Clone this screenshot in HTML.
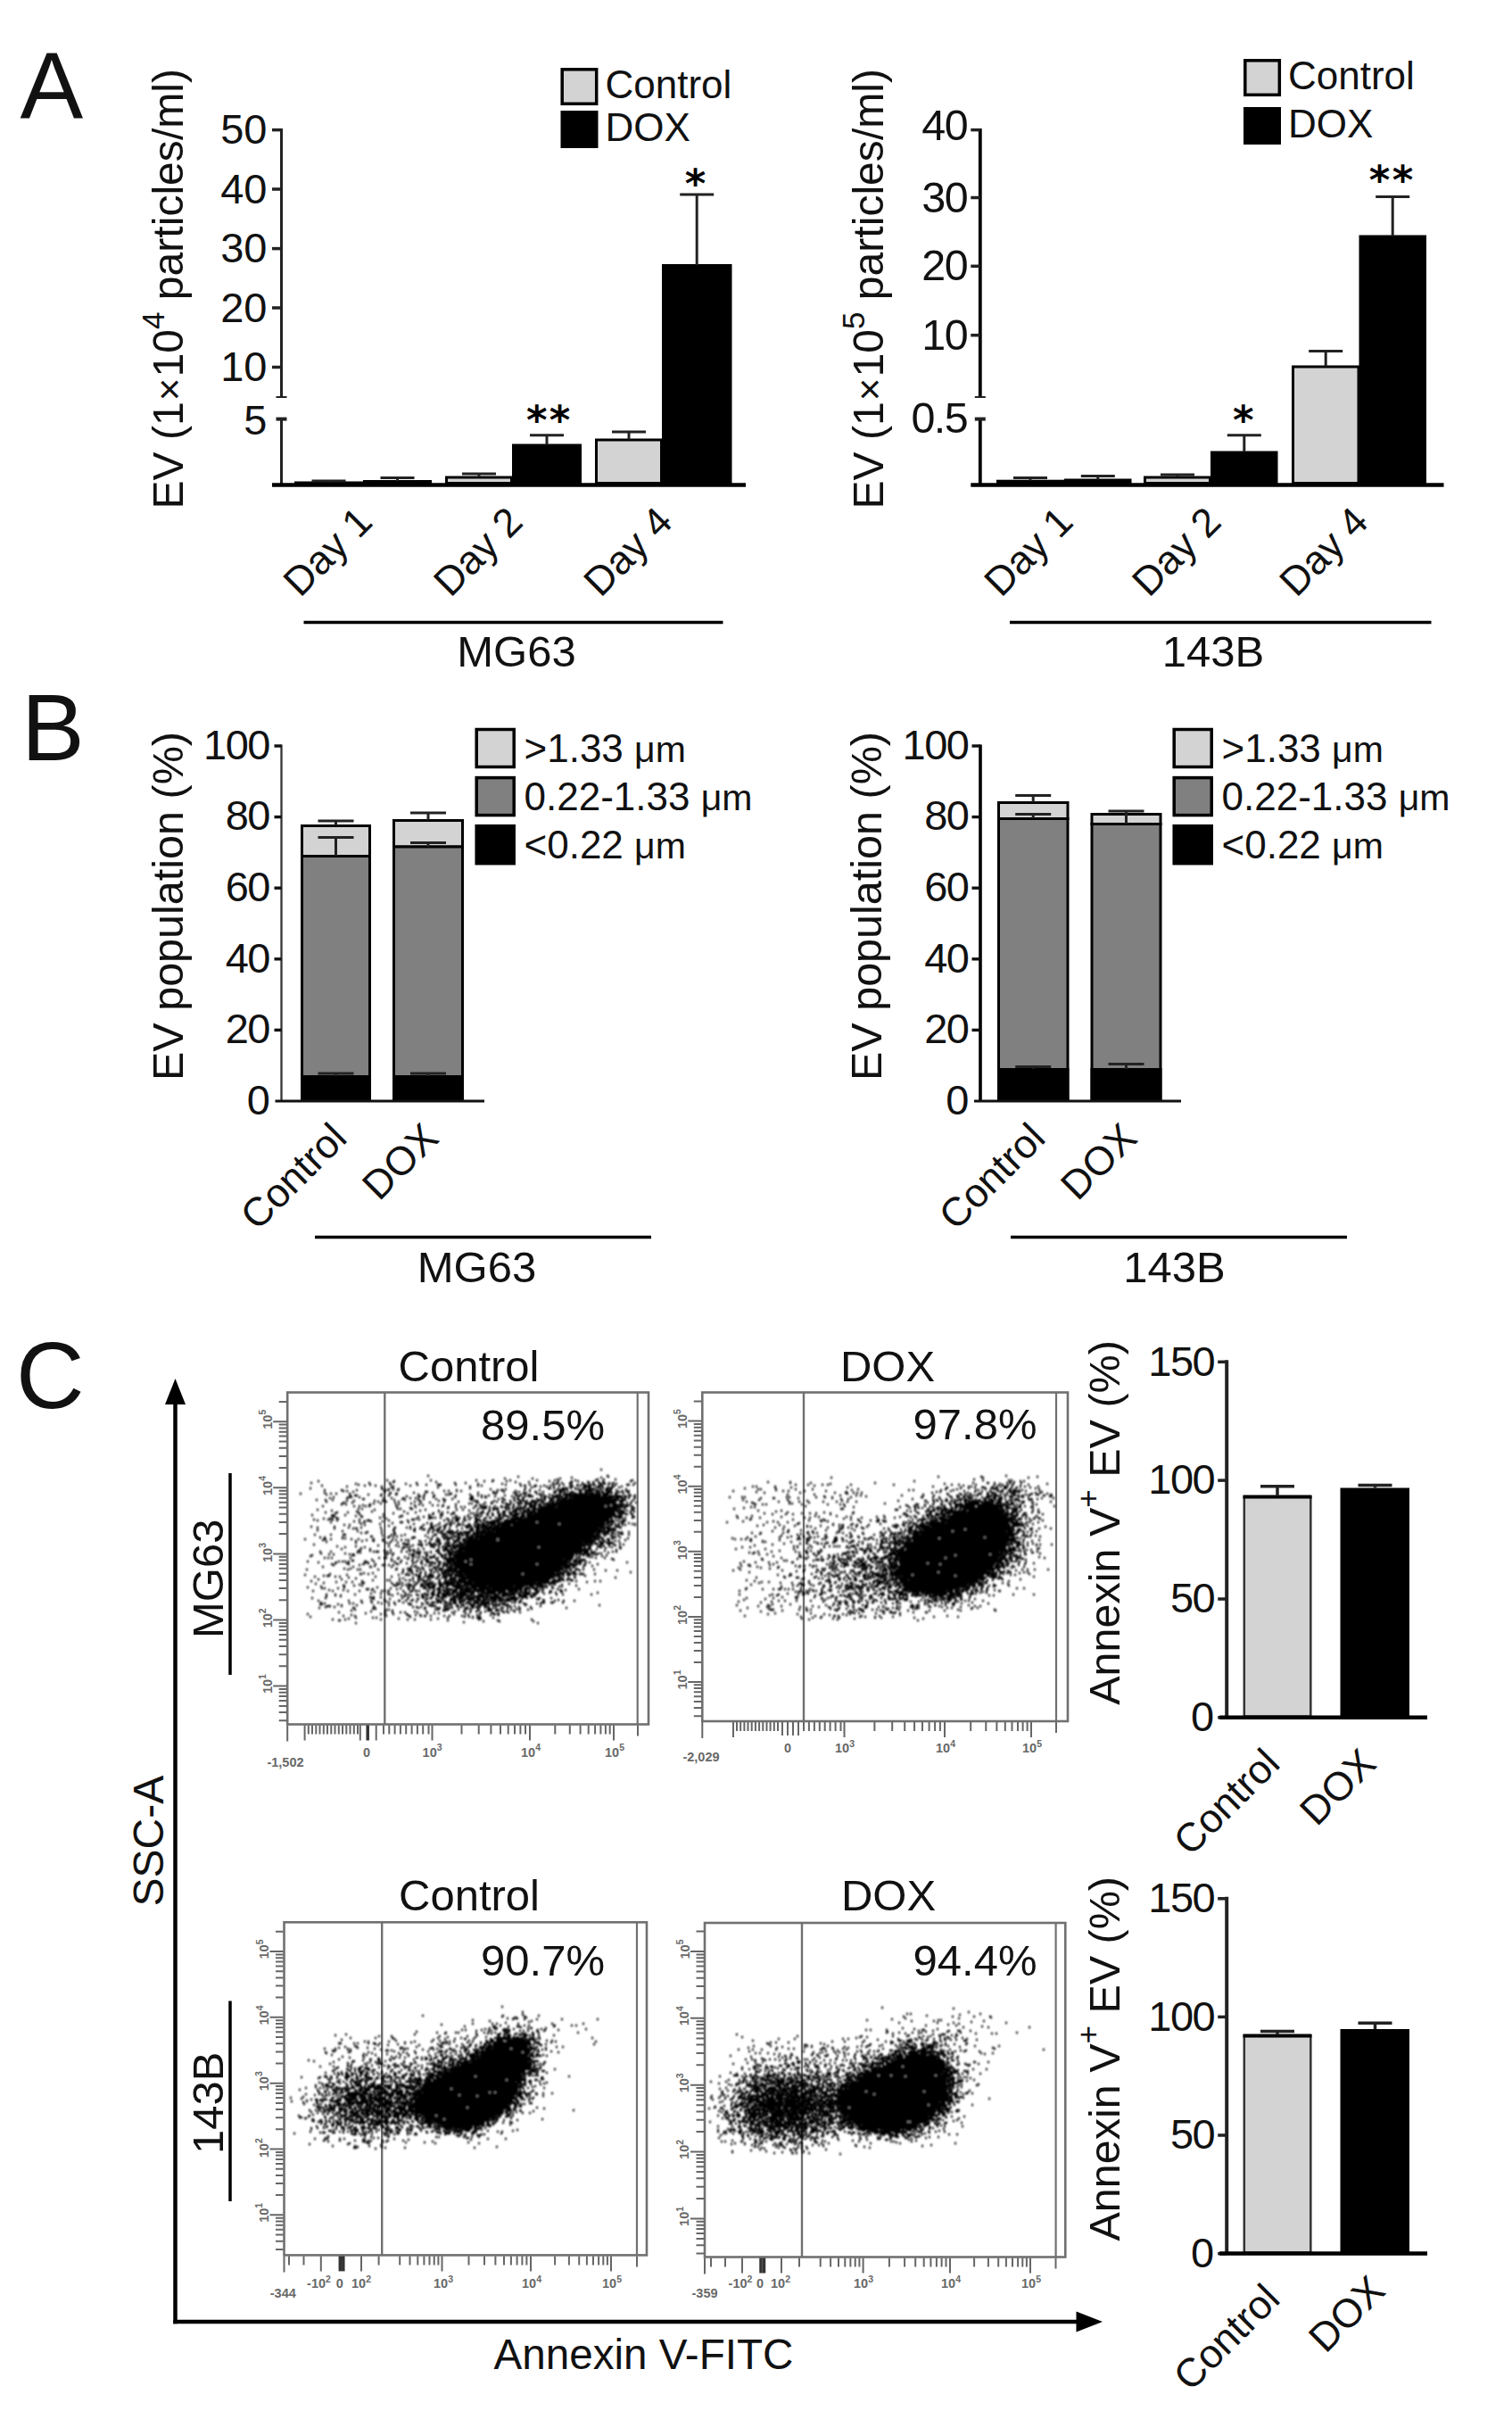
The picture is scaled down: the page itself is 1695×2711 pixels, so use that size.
<!DOCTYPE html>
<html lang="en"><head><meta charset="utf-8"><title>Figure</title>
<style>
html,body{margin:0;padding:0;background:#fff}
body{width:1695px;height:2711px;overflow:hidden}
svg{display:block}
text{font-family:"Liberation Sans",sans-serif}
.st{font-family:"DejaVu Sans","Liberation Sans",sans-serif;font-weight:bold}
</style></head><body>
<svg width="1695" height="2711" viewBox="0 0 1695 2711" shape-rendering="auto">
<defs><filter id="bl" x="-2%" y="-2%" width="104%" height="104%"><feGaussianBlur stdDeviation="0.9"/></filter></defs>
<rect x="0" y="0" width="1695" height="2711" fill="#fff"/>
<text x="22.5" y="132" font-size="106" text-anchor="start" fill="#111">A</text>
<text x="24" y="851.5" font-size="106" text-anchor="start" fill="#111">B</text>
<text x="18" y="1578" font-size="106" text-anchor="start" fill="#111">C</text>
<line x1="315.5" y1="144" x2="315.5" y2="445" stroke="#222" stroke-width="3"/>
<line x1="315.5" y1="469.5" x2="315.5" y2="543" stroke="#222" stroke-width="3"/>
<line x1="305" y1="145.6" x2="315.5" y2="145.6" stroke="#222" stroke-width="3.5"/>
<text x="299.5" y="161.1" font-size="47" text-anchor="end" fill="#111">50</text>
<line x1="305" y1="212" x2="315.5" y2="212" stroke="#222" stroke-width="3.5"/>
<text x="299.5" y="227.5" font-size="47" text-anchor="end" fill="#111">40</text>
<line x1="305" y1="278.6" x2="315.5" y2="278.6" stroke="#222" stroke-width="3.5"/>
<text x="299.5" y="294.1" font-size="47" text-anchor="end" fill="#111">30</text>
<line x1="305" y1="345" x2="315.5" y2="345" stroke="#222" stroke-width="3.5"/>
<text x="299.5" y="360.5" font-size="47" text-anchor="end" fill="#111">20</text>
<line x1="305" y1="411.5" x2="315.5" y2="411.5" stroke="#222" stroke-width="3.5"/>
<text x="299.5" y="427" font-size="47" text-anchor="end" fill="#111">10</text>
<line x1="309.5" y1="445" x2="321.5" y2="445" stroke="#222" stroke-width="2"/>
<line x1="309.5" y1="469.6" x2="321.5" y2="469.6" stroke="#222" stroke-width="4"/>
<text x="299.5" y="487.1" font-size="47" text-anchor="end" fill="#111">5</text>
<text x="205" y="570.5" font-size="48.1" text-anchor="start" fill="#111" transform="rotate(-90 205 570.5)">EV (1<tspan font-size="44" dx="1">×</tspan><tspan dx="1">10</tspan><tspan font-size="35" dy="-21">4</tspan><tspan dy="21"> particles/ml)</tspan></text>
<rect x="330" y="539.5" width="77" height="3.5" fill="#000"/>
<line x1="349.5" y1="539" x2="387.5" y2="539" stroke="#222" stroke-width="3"/>
<line x1="368.5" y1="539" x2="368.5" y2="540.5" stroke="#222" stroke-width="3"/>
<rect x="407" y="538" width="77" height="5" fill="#000"/>
<line x1="426.5" y1="535.5" x2="464.5" y2="535.5" stroke="#222" stroke-width="3"/>
<line x1="445.5" y1="535.5" x2="445.5" y2="539" stroke="#222" stroke-width="3"/>
<rect x="500.5" y="535" width="73" height="6.5" fill="#d3d3d3" stroke="#000" stroke-width="3"/>
<line x1="518" y1="531" x2="556" y2="531" stroke="#222" stroke-width="3"/>
<line x1="537" y1="531" x2="537" y2="534.5" stroke="#222" stroke-width="3"/>
<rect x="574" y="497.5" width="78" height="45.5" fill="#000"/>
<line x1="594" y1="487.7" x2="632" y2="487.7" stroke="#222" stroke-width="3"/>
<line x1="613" y1="487.7" x2="613" y2="498.5" stroke="#222" stroke-width="3"/>
<rect x="668.5" y="493" width="73" height="48.5" fill="#d3d3d3" stroke="#000" stroke-width="3"/>
<line x1="686" y1="484" x2="724" y2="484" stroke="#222" stroke-width="3"/>
<line x1="705" y1="484" x2="705" y2="492.5" stroke="#222" stroke-width="3"/>
<rect x="742" y="296" width="78.5" height="247" fill="#000"/>
<line x1="762.2" y1="218" x2="800.2" y2="218" stroke="#222" stroke-width="3"/>
<line x1="781.2" y1="218" x2="781.2" y2="297" stroke="#222" stroke-width="3"/>
<line x1="305" y1="543.5" x2="836" y2="543.5" stroke="#000" stroke-width="4.6"/>
<rect x="630.2" y="77.8" width="38.5" height="38.5" fill="#d3d3d3" stroke="#000" stroke-width="3.5"/>
<rect x="628.5" y="124" width="42" height="42" fill="#000"/>
<text x="678.5" y="110.3" font-size="44" text-anchor="start" fill="#111">Control</text>
<text x="678.5" y="158.3" font-size="44" text-anchor="start" fill="#111">DOX</text>
<text x="615.8" y="486" font-size="45" text-anchor="middle" fill="#000" class="st" letter-spacing="2.3">**</text>
<text x="780.6" y="220.5" font-size="45" text-anchor="middle" fill="#000" class="st" letter-spacing="2.3">*</text>
<text x="336.5" y="670.5" font-size="45" text-anchor="start" fill="#111" transform="rotate(-45 336.5 670.5)">Day 1</text>
<text x="505" y="670.5" font-size="45" text-anchor="start" fill="#111" transform="rotate(-45 505 670.5)">Day 2</text>
<text x="673.2" y="670.5" font-size="45" text-anchor="start" fill="#111" transform="rotate(-45 673.2 670.5)">Day 4</text>
<line x1="340.5" y1="697.5" x2="810.5" y2="697.5" stroke="#000" stroke-width="3.5"/>
<text x="579" y="746.5" font-size="49" text-anchor="middle" fill="#111">MG63</text>
<line x1="1098.8" y1="144" x2="1098.8" y2="445" stroke="#000" stroke-width="3.8"/>
<line x1="1098.8" y1="469.5" x2="1098.8" y2="543" stroke="#000" stroke-width="3.8"/>
<line x1="1088.3" y1="145.6" x2="1098.8" y2="145.6" stroke="#222" stroke-width="3.5"/>
<text x="1084.3" y="156.6" font-size="48.5" text-anchor="end" fill="#111" letter-spacing="-1.5">40</text>
<line x1="1088.3" y1="221.5" x2="1098.8" y2="221.5" stroke="#222" stroke-width="3.5"/>
<text x="1084.3" y="237.5" font-size="48.5" text-anchor="end" fill="#111" letter-spacing="-1.5">30</text>
<line x1="1088.3" y1="298.3" x2="1098.8" y2="298.3" stroke="#222" stroke-width="3.5"/>
<text x="1084.3" y="314.3" font-size="48.5" text-anchor="end" fill="#111" letter-spacing="-1.5">20</text>
<line x1="1088.3" y1="375.7" x2="1098.8" y2="375.7" stroke="#222" stroke-width="3.5"/>
<text x="1084.3" y="391.7" font-size="48.5" text-anchor="end" fill="#111" letter-spacing="-1.5">10</text>
<line x1="1092.8" y1="445" x2="1104.8" y2="445" stroke="#222" stroke-width="2"/>
<line x1="1092.8" y1="469.6" x2="1104.8" y2="469.6" stroke="#222" stroke-width="4"/>
<text x="1084.3" y="485.1" font-size="48.5" text-anchor="end" fill="#111" letter-spacing="-1.5">0.5</text>
<text x="989.5" y="570.5" font-size="48.1" text-anchor="start" fill="#111" transform="rotate(-90 989.5 570.5)">EV (1<tspan font-size="44" dx="1">×</tspan><tspan dx="1">10</tspan><tspan font-size="35" dy="-21">5</tspan><tspan dy="21"> particles/ml)</tspan></text>
<rect x="1117" y="537.7" width="76" height="5.3" fill="#000"/>
<line x1="1136" y1="535.6" x2="1174" y2="535.6" stroke="#222" stroke-width="3"/>
<line x1="1155" y1="535.6" x2="1155" y2="538.7" stroke="#222" stroke-width="3"/>
<rect x="1193" y="536.5" width="75.5" height="6.5" fill="#000"/>
<line x1="1211.8" y1="533.5" x2="1249.8" y2="533.5" stroke="#222" stroke-width="3"/>
<line x1="1230.8" y1="533.5" x2="1230.8" y2="537.5" stroke="#222" stroke-width="3"/>
<rect x="1283.5" y="535" width="73" height="6.5" fill="#d3d3d3" stroke="#000" stroke-width="3"/>
<line x1="1301" y1="532" x2="1339" y2="532" stroke="#222" stroke-width="3"/>
<line x1="1320" y1="532" x2="1320" y2="534.5" stroke="#222" stroke-width="3"/>
<rect x="1357" y="505.5" width="75.5" height="37.5" fill="#000"/>
<line x1="1375.8" y1="487.7" x2="1413.8" y2="487.7" stroke="#222" stroke-width="3"/>
<line x1="1394.8" y1="487.7" x2="1394.8" y2="506.5" stroke="#222" stroke-width="3"/>
<rect x="1449.5" y="411" width="73.5" height="130.5" fill="#d3d3d3" stroke="#000" stroke-width="3"/>
<line x1="1467.2" y1="393.5" x2="1505.2" y2="393.5" stroke="#222" stroke-width="3"/>
<line x1="1486.2" y1="393.5" x2="1486.2" y2="410.5" stroke="#222" stroke-width="3"/>
<rect x="1523.5" y="263.5" width="75.5" height="279.5" fill="#000"/>
<line x1="1542.2" y1="220.4" x2="1580.2" y2="220.4" stroke="#222" stroke-width="3"/>
<line x1="1561.2" y1="220.4" x2="1561.2" y2="264.5" stroke="#222" stroke-width="3"/>
<line x1="1088.3" y1="543.5" x2="1618.5" y2="543.5" stroke="#000" stroke-width="4.6"/>
<rect x="1395.8" y="67.8" width="38.5" height="38.5" fill="#d3d3d3" stroke="#000" stroke-width="3.5"/>
<rect x="1394" y="120" width="42" height="42" fill="#000"/>
<text x="1444" y="100.3" font-size="44" text-anchor="start" fill="#111">Control</text>
<text x="1444" y="154.3" font-size="44" text-anchor="start" fill="#111">DOX</text>
<text x="1394.8" y="486.4" font-size="45" text-anchor="middle" fill="#000" class="st" letter-spacing="2.3">*</text>
<text x="1560.7" y="216.5" font-size="45" text-anchor="middle" fill="#000" class="st" letter-spacing="2.3">**</text>
<text x="1122.2" y="670.5" font-size="45" text-anchor="start" fill="#111" transform="rotate(-45 1122.2 670.5)">Day 1</text>
<text x="1288" y="670.5" font-size="45" text-anchor="start" fill="#111" transform="rotate(-45 1288 670.5)">Day 2</text>
<text x="1453.2" y="670.5" font-size="45" text-anchor="start" fill="#111" transform="rotate(-45 1453.2 670.5)">Day 4</text>
<line x1="1132" y1="697.5" x2="1604.5" y2="697.5" stroke="#000" stroke-width="3.5"/>
<text x="1360" y="746.5" font-size="49" text-anchor="middle" fill="#111">143B</text>
<line x1="315.5" y1="834.5" x2="315.5" y2="1234" stroke="#333" stroke-width="2.3"/>
<text x="303" y="1248.8" font-size="47" text-anchor="end" fill="#111">0</text>
<line x1="307.5" y1="1154.4" x2="315.5" y2="1154.4" stroke="#111" stroke-width="3.4"/>
<text x="302" y="1169.2" font-size="47" text-anchor="end" fill="#111" letter-spacing="-1.5">20</text>
<line x1="307.5" y1="1074.8" x2="315.5" y2="1074.8" stroke="#111" stroke-width="3.4"/>
<text x="302" y="1089.6" font-size="47" text-anchor="end" fill="#111" letter-spacing="-1.5">40</text>
<line x1="307.5" y1="995.2" x2="315.5" y2="995.2" stroke="#111" stroke-width="3.4"/>
<text x="302" y="1010" font-size="47" text-anchor="end" fill="#111" letter-spacing="-1.5">60</text>
<line x1="307.5" y1="915.6" x2="315.5" y2="915.6" stroke="#111" stroke-width="3.4"/>
<text x="302" y="930.4" font-size="47" text-anchor="end" fill="#111" letter-spacing="-1.5">80</text>
<line x1="307.5" y1="836" x2="315.5" y2="836" stroke="#111" stroke-width="3.4"/>
<text x="302" y="850.8" font-size="47" text-anchor="end" fill="#111" letter-spacing="-1.5">100</text>
<text x="205" y="1211" font-size="48.5" text-anchor="start" fill="#111" transform="rotate(-90 205 1211)">EV population (%)</text>
<rect x="338.5" y="925.5" width="76" height="34" fill="#d3d3d3" stroke="#000" stroke-width="3"/>
<rect x="338.5" y="959.5" width="76" height="273" fill="#808080" stroke="#000" stroke-width="3"/>
<rect x="337" y="1205" width="79" height="29" fill="#000"/>
<line x1="356.5" y1="920" x2="396.5" y2="920" stroke="#222" stroke-width="3"/>
<line x1="376.5" y1="920" x2="376.5" y2="925" stroke="#222" stroke-width="3"/>
<line x1="356.5" y1="938.6" x2="396.5" y2="938.6" stroke="#222" stroke-width="3"/>
<line x1="376.5" y1="938.6" x2="376.5" y2="959" stroke="#222" stroke-width="3"/>
<line x1="356.5" y1="1203" x2="396.5" y2="1203" stroke="#222" stroke-width="3"/>
<line x1="376.5" y1="1203" x2="376.5" y2="1206" stroke="#222" stroke-width="3"/>
<rect x="441.5" y="919.5" width="77" height="29.5" fill="#d3d3d3" stroke="#000" stroke-width="3"/>
<rect x="441.5" y="949" width="77" height="283.5" fill="#808080" stroke="#000" stroke-width="3"/>
<rect x="440" y="1205" width="80" height="29" fill="#000"/>
<line x1="460" y1="911" x2="500" y2="911" stroke="#222" stroke-width="3"/>
<line x1="480" y1="911" x2="480" y2="919" stroke="#222" stroke-width="3"/>
<line x1="460" y1="944.5" x2="500" y2="944.5" stroke="#222" stroke-width="3"/>
<line x1="480" y1="944.5" x2="480" y2="949" stroke="#222" stroke-width="3"/>
<line x1="460" y1="1203" x2="500" y2="1203" stroke="#222" stroke-width="3"/>
<line x1="480" y1="1203" x2="480" y2="1206" stroke="#222" stroke-width="3"/>
<line x1="308.5" y1="1234" x2="543" y2="1234" stroke="#111" stroke-width="2.8"/>
<rect x="534.2" y="817.5" width="42" height="42" fill="#d3d3d3" stroke="#000" stroke-width="3.5"/>
<text x="587.5" y="853.7" font-size="44" text-anchor="start" fill="#111">&gt;1.33 <tspan font-size="41">μm</tspan></text>
<rect x="534.2" y="871.6" width="42" height="42" fill="#808080" stroke="#000" stroke-width="3.5"/>
<text x="587.5" y="907.8" font-size="44" text-anchor="start" fill="#111">0.22-1.33 <tspan font-size="41">μm</tspan></text>
<rect x="534.2" y="925.7" width="42" height="42" fill="#000" stroke="#000" stroke-width="3.5"/>
<text x="587.5" y="961.9" font-size="44" text-anchor="start" fill="#111">&lt;0.22 <tspan font-size="41">μm</tspan></text>
<text x="391" y="1278" font-size="45" text-anchor="end" fill="#111" transform="rotate(-45 391 1278)">Control</text>
<text x="494" y="1278" font-size="45" text-anchor="end" fill="#111" transform="rotate(-45 494 1278)">DOX</text>
<line x1="353" y1="1386.5" x2="730" y2="1386.5" stroke="#000" stroke-width="3.5"/>
<text x="534.5" y="1437" font-size="49" text-anchor="middle" fill="#111">MG63</text>
<line x1="1099" y1="834.5" x2="1099" y2="1234" stroke="#000" stroke-width="3.6"/>
<text x="1086.5" y="1248.8" font-size="47" text-anchor="end" fill="#111">0</text>
<line x1="1089.5" y1="1154.4" x2="1099" y2="1154.4" stroke="#111" stroke-width="3.4"/>
<text x="1085.5" y="1169.2" font-size="47" text-anchor="end" fill="#111" letter-spacing="-1.5">20</text>
<line x1="1089.5" y1="1074.8" x2="1099" y2="1074.8" stroke="#111" stroke-width="3.4"/>
<text x="1085.5" y="1089.6" font-size="47" text-anchor="end" fill="#111" letter-spacing="-1.5">40</text>
<line x1="1089.5" y1="995.2" x2="1099" y2="995.2" stroke="#111" stroke-width="3.4"/>
<text x="1085.5" y="1010" font-size="47" text-anchor="end" fill="#111" letter-spacing="-1.5">60</text>
<line x1="1089.5" y1="915.6" x2="1099" y2="915.6" stroke="#111" stroke-width="3.4"/>
<text x="1085.5" y="930.4" font-size="47" text-anchor="end" fill="#111" letter-spacing="-1.5">80</text>
<line x1="1089.5" y1="836" x2="1099" y2="836" stroke="#111" stroke-width="3.4"/>
<text x="1085.5" y="850.8" font-size="47" text-anchor="end" fill="#111" letter-spacing="-1.5">100</text>
<text x="988" y="1211" font-size="48.5" text-anchor="start" fill="#111" transform="rotate(-90 988 1211)">EV population (%)</text>
<rect x="1119.5" y="899.5" width="77.5" height="18" fill="#d3d3d3" stroke="#000" stroke-width="3"/>
<rect x="1119.5" y="917.5" width="77.5" height="315" fill="#808080" stroke="#000" stroke-width="3"/>
<rect x="1118" y="1197" width="80.5" height="37" fill="#000"/>
<line x1="1138.2" y1="891.6" x2="1178.2" y2="891.6" stroke="#222" stroke-width="3"/>
<line x1="1158.2" y1="891.6" x2="1158.2" y2="899" stroke="#222" stroke-width="3"/>
<line x1="1138.2" y1="912.4" x2="1178.2" y2="912.4" stroke="#222" stroke-width="3"/>
<line x1="1158.2" y1="912.4" x2="1158.2" y2="917" stroke="#222" stroke-width="3"/>
<line x1="1138.2" y1="1195.5" x2="1178.2" y2="1195.5" stroke="#222" stroke-width="3"/>
<line x1="1158.2" y1="1195.5" x2="1158.2" y2="1198" stroke="#222" stroke-width="3"/>
<rect x="1224" y="912.5" width="77" height="11" fill="#d3d3d3" stroke="#000" stroke-width="3"/>
<rect x="1224" y="923.5" width="77" height="309" fill="#808080" stroke="#000" stroke-width="3"/>
<rect x="1222.5" y="1197" width="80" height="37" fill="#000"/>
<line x1="1242.5" y1="909" x2="1282.5" y2="909" stroke="#222" stroke-width="3"/>
<line x1="1262.5" y1="909" x2="1262.5" y2="923" stroke="#222" stroke-width="3"/>
<line x1="1242.5" y1="1192.5" x2="1282.5" y2="1192.5" stroke="#222" stroke-width="3"/>
<line x1="1262.5" y1="1192.5" x2="1262.5" y2="1198" stroke="#222" stroke-width="3"/>
<line x1="1092" y1="1234" x2="1324" y2="1234" stroke="#111" stroke-width="2.8"/>
<rect x="1316.2" y="817.5" width="42" height="42" fill="#d3d3d3" stroke="#000" stroke-width="3.5"/>
<text x="1369.5" y="853.7" font-size="44" text-anchor="start" fill="#111">&gt;1.33 <tspan font-size="41">μm</tspan></text>
<rect x="1316.2" y="871.6" width="42" height="42" fill="#808080" stroke="#000" stroke-width="3.5"/>
<text x="1369.5" y="907.8" font-size="44" text-anchor="start" fill="#111">0.22-1.33 <tspan font-size="41">μm</tspan></text>
<rect x="1316.2" y="925.7" width="42" height="42" fill="#000" stroke="#000" stroke-width="3.5"/>
<text x="1369.5" y="961.9" font-size="44" text-anchor="start" fill="#111">&lt;0.22 <tspan font-size="41">μm</tspan></text>
<text x="1174" y="1278" font-size="45" text-anchor="end" fill="#111" transform="rotate(-45 1174 1278)">Control</text>
<text x="1277" y="1278" font-size="45" text-anchor="end" fill="#111" transform="rotate(-45 1277 1278)">DOX</text>
<line x1="1133" y1="1386.5" x2="1510" y2="1386.5" stroke="#000" stroke-width="3.5"/>
<text x="1316.5" y="1437" font-size="49" text-anchor="middle" fill="#111">143B</text>
<line x1="1375.2" y1="1524.3" x2="1375.2" y2="1924.8" stroke="#222" stroke-width="4"/>
<line x1="1365.2" y1="1924.8" x2="1375.2" y2="1924.8" stroke="#222" stroke-width="3.5"/>
<text x="1361.2" y="1940" font-size="47" text-anchor="end" fill="#111">0</text>
<line x1="1365.2" y1="1792" x2="1375.2" y2="1792" stroke="#222" stroke-width="3.5"/>
<text x="1361.2" y="1807.2" font-size="47" text-anchor="end" fill="#111" letter-spacing="-1.5">50</text>
<line x1="1365.2" y1="1659.1" x2="1375.2" y2="1659.1" stroke="#222" stroke-width="3.5"/>
<text x="1361.2" y="1674.3" font-size="47" text-anchor="end" fill="#111" letter-spacing="-1.5">100</text>
<line x1="1365.2" y1="1526.3" x2="1375.2" y2="1526.3" stroke="#222" stroke-width="3.5"/>
<text x="1361.2" y="1541.5" font-size="47" text-anchor="end" fill="#111" letter-spacing="-1.5">150</text>
<text x="1255" y="1910.8" font-size="48.5" text-anchor="start" fill="#111" transform="rotate(-90 1255 1910.8)">Annexin V<tspan font-size="35" dy="-23">+</tspan><tspan dy="23"> EV (%)</tspan></text>
<rect x="1394.8" y="1677.8" width="74.5" height="245.8" fill="#d3d3d3" stroke="#333" stroke-width="2.5"/>
<line x1="1393.5" y1="1677.5" x2="1470.5" y2="1677.5" stroke="#000" stroke-width="4"/>
<line x1="1413" y1="1665.8" x2="1451" y2="1665.8" stroke="#222" stroke-width="3.5"/>
<line x1="1432" y1="1665.8" x2="1432" y2="1676.5" stroke="#222" stroke-width="3.5"/>
<rect x="1502.5" y="1667.5" width="77.5" height="257.3" fill="#000"/>
<line x1="1522.5" y1="1664.5" x2="1560.5" y2="1664.5" stroke="#222" stroke-width="3.5"/>
<line x1="1541.5" y1="1664.5" x2="1541.5" y2="1667.5" stroke="#222" stroke-width="3.5"/>
<line x1="1367.2" y1="1924.8" x2="1600" y2="1924.8" stroke="#000" stroke-width="4.5"/>
<text x="1437" y="1979" font-size="45" text-anchor="end" fill="#111" transform="rotate(-45 1437 1979)">Control</text>
<text x="1545" y="1979" font-size="45" text-anchor="end" fill="#111" transform="rotate(-45 1545 1979)">DOX</text>
<line x1="1375.2" y1="2125.8" x2="1375.2" y2="2525.6" stroke="#222" stroke-width="4"/>
<line x1="1365.2" y1="2525.6" x2="1375.2" y2="2525.6" stroke="#222" stroke-width="3.5"/>
<text x="1361.2" y="2540.8" font-size="47" text-anchor="end" fill="#111">0</text>
<line x1="1365.2" y1="2393" x2="1375.2" y2="2393" stroke="#222" stroke-width="3.5"/>
<text x="1361.2" y="2408.2" font-size="47" text-anchor="end" fill="#111" letter-spacing="-1.5">50</text>
<line x1="1365.2" y1="2260.4" x2="1375.2" y2="2260.4" stroke="#222" stroke-width="3.5"/>
<text x="1361.2" y="2275.6" font-size="47" text-anchor="end" fill="#111" letter-spacing="-1.5">100</text>
<line x1="1365.2" y1="2127.8" x2="1375.2" y2="2127.8" stroke="#222" stroke-width="3.5"/>
<text x="1361.2" y="2143" font-size="47" text-anchor="end" fill="#111" letter-spacing="-1.5">150</text>
<text x="1255" y="2511.6" font-size="48.5" text-anchor="start" fill="#111" transform="rotate(-90 1255 2511.6)">Annexin V<tspan font-size="35" dy="-23">+</tspan><tspan dy="23"> EV (%)</tspan></text>
<rect x="1394.8" y="2281.8" width="74.5" height="242.6" fill="#d3d3d3" stroke="#333" stroke-width="2.5"/>
<line x1="1393.5" y1="2281.5" x2="1470.5" y2="2281.5" stroke="#000" stroke-width="4"/>
<line x1="1413" y1="2276.6" x2="1451" y2="2276.6" stroke="#222" stroke-width="3.5"/>
<line x1="1432" y1="2276.6" x2="1432" y2="2280.5" stroke="#222" stroke-width="3.5"/>
<rect x="1502.5" y="2274" width="77.5" height="251.6" fill="#000"/>
<line x1="1522.5" y1="2267.3" x2="1560.5" y2="2267.3" stroke="#222" stroke-width="3.5"/>
<line x1="1541.5" y1="2267.3" x2="1541.5" y2="2274" stroke="#222" stroke-width="3.5"/>
<line x1="1367.2" y1="2525.6" x2="1600" y2="2525.6" stroke="#000" stroke-width="4.5"/>
<text x="1437" y="2579" font-size="45" text-anchor="end" fill="#111" transform="rotate(-45 1437 2579)">Control</text>
<text x="1555" y="2569.5" font-size="45" text-anchor="end" fill="#111" transform="rotate(-45 1555 2569.5)">DOX</text>
<line x1="196.5" y1="1570" x2="196.5" y2="2604.3" stroke="#000" stroke-width="4.5"/>
<path d="M196.5 1545 L208 1574 L185 1574 Z" fill="#000"/>
<line x1="194.3" y1="2602" x2="1210" y2="2602" stroke="#000" stroke-width="4.5"/>
<path d="M1236 2602 L1206.5 2613.5 L1206.5 2590.5 Z" fill="#000"/>
<text x="182.5" y="2136.5" font-size="48" text-anchor="start" fill="#111" transform="rotate(-90 182.5 2136.5)">SSC-A</text>
<text x="553.5" y="2654.5" font-size="47.6" text-anchor="start" fill="#111">Annexin V-FITC</text>
<text x="250" y="1836" font-size="49" text-anchor="start" fill="#111" transform="rotate(-90 250 1836)">MG63</text>
<line x1="258" y1="1651" x2="258" y2="1877" stroke="#000" stroke-width="3.5"/>
<text x="250" y="2414" font-size="49" text-anchor="start" fill="#111" transform="rotate(-90 250 2414)">143B</text>
<line x1="258" y1="2242.5" x2="258" y2="2467" stroke="#000" stroke-width="3.5"/>
<rect x="322.2" y="1560.5" width="404.8" height="372" fill="#fff" stroke="#707070" stroke-width="2.6"/>
<line x1="431.3" y1="1560.5" x2="431.3" y2="1932.5" stroke="#707070" stroke-width="2.4"/>
<line x1="714.7" y1="1560.5" x2="714.7" y2="1932.5" stroke="#707070" stroke-width="2.2"/>
<path d="M321.2 1889.6h-15M321.2 1815.5h-15M321.2 1741.4h-15M321.2 1667.3h-15M321.2 1593.2h-15M321.2 1928.3h-8.5M321.2 1919.1h-8.5M321.2 1911.9h-8.5M321.2 1906h-8.5M321.2 1901.1h-8.5M321.2 1896.8h-8.5M321.2 1893h-8.5M321.2 1867.3h-8.5M321.2 1854.2h-8.5M321.2 1845h-8.5M321.2 1837.8h-8.5M321.2 1831.9h-8.5M321.2 1827h-8.5M321.2 1822.7h-8.5M321.2 1818.9h-8.5M321.2 1793.2h-8.5M321.2 1780.1h-8.5M321.2 1770.9h-8.5M321.2 1763.7h-8.5M321.2 1757.8h-8.5M321.2 1752.9h-8.5M321.2 1748.6h-8.5M321.2 1744.8h-8.5M321.2 1719.1h-8.5M321.2 1706h-8.5M321.2 1696.8h-8.5M321.2 1689.6h-8.5M321.2 1683.7h-8.5M321.2 1678.8h-8.5M321.2 1674.5h-8.5M321.2 1670.7h-8.5M321.2 1645h-8.5M321.2 1631.9h-8.5M321.2 1622.7h-8.5M321.2 1615.5h-8.5M321.2 1609.6h-8.5M321.2 1604.7h-8.5M321.2 1600.4h-8.5M321.2 1596.6h-8.5M321.2 1570.9h-8.5M322.2 1933.5v18M341.6 1933.5v17M345.8 1933.5v10M350 1933.5v10M354.3 1933.5v10M358.5 1933.5v10M362.8 1933.5v10M367 1933.5v10M371.3 1933.5v10M375.5 1933.5v10M379.8 1933.5v10M384 1933.5v10M388.3 1933.5v10M392.5 1933.5v10M396.8 1933.5v10M401 1933.5v10M403.8 1933.5v17M421.7 1933.5v17M430 1933.5v10M436.3 1933.5v10M442.6 1933.5v10M448.9 1933.5v10M455.2 1933.5v10M461.6 1933.5v10M467.9 1933.5v10M474.2 1933.5v10M480.5 1933.5v10M484.5 1933.5v17M517.5 1933.5v10M536.7 1933.5v10M550.4 1933.5v10M561 1933.5v10M569.7 1933.5v10M577 1933.5v10M583.4 1933.5v10M589 1933.5v10M594 1933.5v17M622.3 1933.5v10M638.8 1933.5v10M650.6 1933.5v10M659.7 1933.5v10M667.1 1933.5v10M673.4 1933.5v10M678.9 1933.5v10M683.7 1933.5v10M688 1933.5v17M715 1933.5v12" stroke="#666" stroke-width="2" fill="none"/>
<line x1="412.2" y1="1933.5" x2="412.2" y2="1950.5" stroke="#333" stroke-width="3.5"/>
<text x="304.7" y="1601.7" font-size="14.5" text-anchor="start" fill="#686868" transform="rotate(-90 304.7 1601.7)" font-weight="bold">10<tspan font-size="10.5" dy="-6.5">5</tspan></text>
<text x="304.7" y="1676" font-size="14.5" text-anchor="start" fill="#686868" transform="rotate(-90 304.7 1676)" font-weight="bold">10<tspan font-size="10.5" dy="-6.5">4</tspan></text>
<text x="304.7" y="1751" font-size="14.5" text-anchor="start" fill="#686868" transform="rotate(-90 304.7 1751)" font-weight="bold">10<tspan font-size="10.5" dy="-6.5">3</tspan></text>
<text x="304.7" y="1824.3" font-size="14.5" text-anchor="start" fill="#686868" transform="rotate(-90 304.7 1824.3)" font-weight="bold">10<tspan font-size="10.5" dy="-6.5">2</tspan></text>
<text x="304.7" y="1898.1" font-size="14.5" text-anchor="start" fill="#686868" transform="rotate(-90 304.7 1898.1)" font-weight="bold">10<tspan font-size="10.5" dy="-6.5">1</tspan></text>
<text x="320" y="1980" font-size="14.5" text-anchor="middle" fill="#686868" font-weight="bold">-1,502</text>
<text x="411" y="1968.5" font-size="14.5" text-anchor="middle" fill="#686868" font-weight="bold">0</text>
<text x="484.6" y="1968.5" font-size="14.5" text-anchor="middle" fill="#686868" font-weight="bold">10<tspan font-size="10.5" dy="-6.5">3</tspan></text>
<text x="595" y="1968.5" font-size="14.5" text-anchor="middle" fill="#686868" font-weight="bold">10<tspan font-size="10.5" dy="-6.5">4</tspan></text>
<text x="689" y="1968.5" font-size="14.5" text-anchor="middle" fill="#686868" font-weight="bold">10<tspan font-size="10.5" dy="-6.5">5</tspan></text>
<text x="525.5" y="1548" font-size="49" text-anchor="middle" fill="#111">Control</text>
<text x="608.5" y="1613.5" font-size="49" text-anchor="middle" fill="#111">89.5%</text>
<g filter="url(#bl)">
<path d="M516.1 1749.6 L529.4 1734 L551.7 1720.7 L573.9 1714 L596.1 1705.1 L618.3 1694 L640.6 1685.1 L662.8 1678.5 L682.8 1680.7 L685 1691.8 L671.7 1705.1 L656.1 1720.7 L640.6 1736.2 L627.2 1751.8 L609.4 1765.1 L587.2 1774 L565 1778.5 L542.8 1774 L525 1765.1 Z" fill="#000" stroke="#000" stroke-width="2" stroke-linejoin="round"/>
<path d="M673 1647h2m-196 7h2m199 0h2m-102 1h2m99 0h2m-43 1h2m31 0h2m-110 1h2m29 0h2m29 0h2m-5 1h2m43 0h2m5 0h2m11 0h2m-258 1h2m47 0h2m49 0h2m17 0h2m17 0h2m28 0h2m18 0h2m21 0h2m21 0h2m39 0h2m-354 1h2m83 0h2m99 0h2m7 0h2m14 0h2m46 0h2m8 0h2m13 0h2m5 0h2m26 0h2m29 0h2m-268 1h2m46 0h2m87 0h2m13 0h2m64 0h2m-1 0h2m3 0h2m4 0h2m-324 1h2m63 0h2m21 0h2m28 0h2m41 0h2m10 0h2m96 0h2m3 0h2m3 0h2m7 0h2m0 0h2m10 0h2m17 0h2m2 0h2m0 0h2m3 0h2m3 0h2m22 0h2m-315 1h2m54 0h2m79 0h2m25 0h2m18 0h2m38 0h2m14 0h2m12 0h2m6 0h2m3 0h2m5 0h2m3 0h2m6 0h2m3 0h2m-291 1h2m11 0h2m21 0h2m28 0h2m8 0h2m11 0h2m0 0h2m-1 0h2m15 0h2m54 0h2m25 0h2m24 0h2m5 0h2m3 0h2m14 0h2m5 0h2m-1 0h2m2 0h2m-1 0h2m1 0h2m8 0h2m-1 0h2m5 0h2m19 0h2m0 0h2m3 0h2m-351 1h2m46 0h2m10 0h2m37 0h2m74 0h2m2 0h2m42 0h2m2 0h2m-1 0h2m9 0h2m-1 0h2m7 0h2m5 0h2m8 0h2m12 0h2m4 0h2m2 0h2m4 0h2m1 0h2m5 0h2m3 0h2m1 0h2m12 0h2m-302 1h2m37 0h2m11 0h2m84 0h2m70 0h2m5 0h2m5 0h2m6 0h2m16 0h2m1 0h2m11 0h2m0 0h2m0 0h2m-1 0h2m-1 0h2m-1 0h2m6 0h2m0 0h2m1 0h2m9 0h2m-1 0h2m8 0h2m-260 1h2m50 0h2m103 0h2m56 0h2m16 0h2m2 0h2m4 0h2m10 0h2m-348 1h2m78 0h2m97 0h2m60 0h2m24 0h2m-1 0h2m-1 0h2m2 0h2m3 0h2m3 0h2m-1 0h2m0 0h2m0 0h2m2 0h2m3 0h2m2 0h2m5 0h2m2 0h2m0 0h2m2 0h2m1 0h2m2 0h2m1 0h2m2 0h2m-1 0h2m1 0h2m0 0h2m-259 1h2m5 0h2m3 0h2m4 0h2m101 0h2m15 0h2m61 0h2m4 0h2m8 0h2m5 0h2m6 0h2m-1 0h2m0 0h2m7 0h2m27 0h2m-340 1h2m17 0h2m15 0h2m30 0h2m1 0h2m9 0h2m64 0h2m44 0h2m2 0h2m-1 0h2m-1 0h2m22 0h2m4 0h2m9 0h2m17 0h2m1 0h2m0 0h2m1 0h2m15 0h2m1 0h2m2 0h2m0 0h2m-1 0h2m5 0h2m1 0h2m8 0h2m-1 0h2m-1 0h2m-1 0h2m1 0h2m4 0h2m-308 1h2m2 0h2m107 0h2m3 0h2m7 0h2m3 0h2m59 0h2m14 0h2m33 0h2m-1 0h2m1 0h2m1 0h2m13 0h2m3 0h2m1 0h2m0 0h2m0 0h2m5 0h2m0 0h2m1 0h2m7 0h2m12 0h2m2 0h2m1 0h2m-311 1h2m33 0h2m44 0h2m0 0h2m72 0h2m2 0h2m6 0h2m15 0h2m16 0h2m-1 0h2m6 0h2m10 0h2m0 0h2m2 0h2m4 0h2m6 0h2m-1 0h2m6 0h2m4 0h2m10 0h2m5 0h2m-1 0h2m3 0h2m0 0h2m-1 0h2m7 0h2m-1 0h2m1 0h2m5 0h2m-342 1h2m72 0h2m24 0h2m19 0h2m49 0h2m15 0h2m-1 0h2m20 0h2m1 0h2m6 0h2m1 0h2m30 0h2m5 0h2m2 0h2m4 0h2m-1 0h2m1 0h2m6 0h2m3 0h2m-1 0h2m-1 0h2m-1 0h2m-1 0h2m1 0h2m-1 0h2m-1 0h2m2 0h2m1 0h2m2 0h2m2 0h2m0 0h2m1 0h2m-1 0h2m3 0h2m-356 1h2m32 0h2m4 0h2m13 0h2m43 0h2m5 0h2m-1 0h2m58 0h2m-1 0h2m48 0h2m29 0h2m-1 0h2m12 0h2m2 0h2m24 0h2m-1 0h2m1 0h2m6 0h2m0 0h2m2 0h2m1 0h2m1 0h2m4 0h2m-1 0h2m5 0h2m-1 0h2m-1 0h2m-1 0h2m1 0h2m0 0h2m-1 0h2m1 0h2m6 0h2m-1 0h2m6 0h2m4 0h2m-341 1h2m45 0h2m13 0h2m14 0h2m23 0h2m5 0h2m22 0h2m1 0h2m22 0h2m49 0h2m4 0h2m8 0h2m9 0h2m-1 0h2m1 0h2m5 0h2m9 0h2m-1 0h2m2 0h2m-1 0h2m-1 0h2m2 0h2m0 0h2m-1 0h2m1 0h2m-1 0h2m0 0h2m-1 0h2m-1 0h2m-1 0h2m-1 0h2m0 0h2m-1 0h2m1 0h2m-1 0h2m1 0h2m-1 0h2m-1 0h2m-1 0h2m-1 0h2m-1 0h2m-1 0h2m-1 0h2m1 0h2m0 0h2m1 0h2m-1 0h2m-1 0h2m1 0h2m-1 0h2m-291 1h2m3 0h2m0 0h2m25 0h2m7 0h2m49 0h2m22 0h2m23 0h2m2 0h2m6 0h2m16 0h2m12 0h2m1 0h2m4 0h2m1 0h2m0 0h2m23 0h2m-1 0h2m1 0h2m0 0h2m-1 0h2m-1 0h2m7 0h2m-1 0h2m-1 0h2m2 0h2m-1 0h2m-1 0h2m1 0h2m1 0h2m-1 0h2m1 0h2m-1 0h2m-1 0h2m0 0h2m0 0h2m-1 0h2m-1 0h2m-1 0h2m-1 0h2m-1 0h2m-1 0h2m0 0h2m-1 0h2m0 0h2m3 0h2m-1 0h2m0 0h2m-1 0h2m3 0h2m3 0h2m1 0h2m12 0h2m3 0h2m-321 1h2m61 0h2m13 0h2m2 0h2m9 0h2m41 0h2m13 0h2m9 0h2m17 0h2m5 0h2m6 0h2m2 0h2m0 0h2m0 0h2m8 0h2m2 0h2m-1 0h2m11 0h2m3 0h2m2 0h2m-1 0h2m-1 0h2m1 0h2m0 0h2m1 0h2m-1 0h2m-1 0h2m0 0h2m-1 0h2m1 0h2m0 0h2m0 0h2m-1 0h2m-1 0h2m-1 0h2m-1 0h2m-1 0h2m-1 0h2m-1 0h2m-1 0h2m0 0h2m-1 0h2m-1 0h2m-1 0h2m-1 0h2m-1 0h2m-1 0h2m-1 0h2m2 0h2m-1 0h2m-1 0h2m2 0h2m-1 0h2m1 0h2m-1 0h2m-1 0h2m0 0h2m1 0h2m-1 0h2m-1 0h2m-1 0h2m1 0h2m0 0h2m1 0h2m4 0h2m-339 1h2m15 0h2m1 0h2m7 0h2m64 0h2m15 0h2m22 0h2m16 0h2m0 0h2m8 0h2m2 0h2m-1 0h2m30 0h2m7 0h2m22 0h2m-1 0h2m2 0h2m3 0h2m-1 0h2m0 0h2m0 0h2m1 0h2m0 0h2m4 0h2m1 0h2m2 0h2m-1 0h2m-1 0h2m-1 0h2m0 0h2m-1 0h2m-1 0h2m0 0h2m2 0h2m-1 0h2m0 0h2m-1 0h2m-1 0h2m-1 0h2m-1 0h2m-1 0h2m-1 0h2m-1 0h2m-1 0h2m1 0h2m-1 0h2m-1 0h2m-1 0h2m-1 0h2m0 0h2m-1 0h2m-1 0h2m-1 0h2m-1 0h2m-1 0h2m-1 0h2m0 0h2m0 0h2m-1 0h2m2 0h2m0 0h2m0 0h2m-1 0h2m-328 1h2m17 0h2m39 0h2m7 0h2m12 0h2m5 0h2m4 0h2m7 0h2m52 0h2m32 0h2m16 0h2m4 0h2m18 0h2m2 0h2m4 0h2m1 0h2m5 0h2m2 0h2m0 0h2m-1 0h2m-1 0h2m-1 0h2m1 0h2m-1 0h2m1 0h2m-1 0h2m0 0h2m-1 0h2m-1 0h2m-1 0h2m-1 0h2m-1 0h2m1 0h2m0 0h2m-1 0h2m-1 0h2m-1 0h2m0 0h2m-1 0h2m3 0h2m-1 0h2m-1 0h2m-1 0h2m-1 0h2m-1 0h2m-1 0h2m-1 0h2m-1 0h2m-1 0h2m-1 0h2m-1 0h2m-1 0h2m-1 0h2m-1 0h2m0 0h2m0 0h2m4 0h2m5 0h2m1 0h2m2 0h2m5 0h2m-307 1h2m-1 0h2m41 0h2m22 0h2m12 0h2m6 0h2m8 0h2m18 0h2m1 0h2m27 0h2m3 0h2m10 0h2m2 0h2m20 0h2m6 0h2m5 0h2m-1 0h2m0 0h2m4 0h2m3 0h2m1 0h2m2 0h2m-1 0h2m1 0h2m0 0h2m-1 0h2m1 0h2m-1 0h2m-1 0h2m-1 0h2m-1 0h2m-1 0h2m0 0h2m-1 0h2m-1 0h2m0 0h2m-1 0h2m12 0h2m1 0h2m1 0h2m-1 0h2m-1 0h2m-1 0h2m-1 0h2m-1 0h2m1 0h2m-1 0h2m-1 0h2m1 0h2m-340 1h2m8 0h2m6 0h2m67 0h2m10 0h2m13 0h2m28 0h2m28 0h2m35 0h2m14 0h2m2 0h2m15 0h2m0 0h2m4 0h2m4 0h2m-1 0h2m5 0h2m0 0h2m0 0h2m-1 0h2m0 0h2m0 0h2m-1 0h2m1 0h2m-1 0h2m0 0h2m0 0h2m0 0h2m-1 0h2m-1 0h2m-1 0h2m-1 0h2m0 0h2m-1 0h2m-1 0h2m1 0h2m26 0h2m0 0h2m-1 0h2m-1 0h2m-1 0h2m0 0h2m4 0h2m0 0h2m0 0h2m7 0h2m-323 1h2m6 0h2m21 0h2m7 0h2m0 0h2m38 0h2m19 0h2m38 0h2m1 0h2m17 0h2m16 0h2m3 0h2m4 0h2m-1 0h2m1 0h2m2 0h2m3 0h2m0 0h2m-1 0h2m3 0h2m1 0h2m-1 0h2m11 0h2m1 0h2m-1 0h2m1 0h2m0 0h2m-1 0h2m-1 0h2m0 0h2m-1 0h2m-1 0h2m1 0h2m-1 0h2m-1 0h2m-1 0h2m0 0h2m-1 0h2m-1 0h2m-1 0h2m-1 0h2m-1 0h2m-1 0h2m-1 0h2m-1 0h2m30 0h2m2 0h2m-1 0h2m-1 0h2m-1 0h2m1 0h2m-1 0h2m-331 1h2m56 0h2m7 0h2m12 0h2m16 0h2m31 0h2m14 0h2m18 0h2m-1 0h2m20 0h2m4 0h2m24 0h2m7 0h2m-1 0h2m0 0h2m5 0h2m-1 0h2m5 0h2m-1 0h2m1 0h2m2 0h2m3 0h2m-1 0h2m-1 0h2m-1 0h2m-1 0h2m0 0h2m-1 0h2m-1 0h2m-1 0h2m-1 0h2m-1 0h2m0 0h2m0 0h2m-1 0h2m-1 0h2m-1 0h2m-1 0h2m-1 0h2m33 0h2m-1 0h2m-1 0h2m-1 0h2m0 0h2m5 0h2m0 0h2m8 0h2m-324 1h2m7 0h2m46 0h2m27 0h2m8 0h2m52 0h2m6 0h2m5 0h2m-1 0h2m10 0h2m7 0h2m5 0h2m1 0h2m10 0h2m5 0h2m15 0h2m3 0h2m-1 0h2m0 0h2m0 0h2m0 0h2m-1 0h2m0 0h2m-1 0h2m-1 0h2m0 0h2m-1 0h2m-1 0h2m-1 0h2m-1 0h2m-1 0h2m-1 0h2m-1 0h2m38 0h2m0 0h2m-1 0h2m6 0h2m5 0h2m8 0h2m-331 1h2m33 0h2m6 0h2m32 0h2m63 0h2m1 0h2m20 0h2m14 0h2m12 0h2m1 0h2m-1 0h2m2 0h2m0 0h2m-1 0h2m0 0h2m0 0h2m1 0h2m5 0h2m1 0h2m1 0h2m-1 0h2m0 0h2m2 0h2m0 0h2m-1 0h2m6 0h2m-1 0h2m-1 0h2m-1 0h2m-1 0h2m-1 0h2m-1 0h2m-1 0h2m0 0h2m0 0h2m-1 0h2m41 0h2m2 0h2m-1 0h2m4 0h2m9 0h2m-326 1h2m3 0h2m25 0h2m30 0h2m21 0h2m39 0h2m29 0h2m24 0h2m0 0h2m0 0h2m2 0h2m12 0h2m2 0h2m3 0h2m0 0h2m2 0h2m3 0h2m3 0h2m-1 0h2m-1 0h2m0 0h2m-1 0h2m1 0h2m0 0h2m0 0h2m-1 0h2m0 0h2m-1 0h2m0 0h2m0 0h2m0 0h2m-1 0h2m0 0h2m43 0h2m-1 0h2m-1 0h2m-1 0h2m0 0h2m-1 0h2m1 0h2m0 0h2m-1 0h2m0 0h2m-294 1h2m5 0h2m-1 0h2m27 0h2m19 0h2m7 0h2m9 0h2m4 0h2m4 0h2m35 0h2m2 0h2m-1 0h2m27 0h2m12 0h2m10 0h2m-1 0h2m-1 0h2m1 0h2m3 0h2m8 0h2m-1 0h2m-1 0h2m-1 0h2m-1 0h2m1 0h2m0 0h2m1 0h2m-1 0h2m-1 0h2m1 0h2m0 0h2m-1 0h2m-1 0h2m0 0h2m46 0h2m0 0h2m-1 0h2m-1 0h2m-1 0h2m-1 0h2m-1 0h2m-1 0h2m1 0h2m3 0h2m0 0h2m0 0h2m-345 1h2m33 0h2m4 0h2m5 0h2m2 0h2m80 0h2m35 0h2m10 0h2m8 0h2m5 0h2m12 0h2m10 0h2m-1 0h2m7 0h2m0 0h2m3 0h2m0 0h2m3 0h2m0 0h2m-1 0h2m-1 0h2m1 0h2m2 0h2m1 0h2m0 0h2m-1 0h2m-1 0h2m0 0h2m-1 0h2m-1 0h2m50 0h2m-1 0h2m-1 0h2m-1 0h2m1 0h2m-1 0h2m1 0h2m0 0h2m1 0h2m0 0h2m3 0h2m-265 1h2m19 0h2m35 0h2m6 0h2m4 0h2m2 0h2m17 0h2m-1 0h2m0 0h2m-1 0h2m3 0h2m11 0h2m-1 0h2m1 0h2m2 0h2m3 0h2m3 0h2m2 0h2m2 0h2m-1 0h2m3 0h2m0 0h2m1 0h2m-1 0h2m2 0h2m1 0h2m0 0h2m-1 0h2m2 0h2m0 0h2m0 0h2m-1 0h2m-1 0h2m-1 0h2m-1 0h2m1 0h2m-1 0h2m-1 0h2m-1 0h2m1 0h2m-1 0h2m-1 0h2m51 0h2m-1 0h2m-1 0h2m0 0h2m0 0h2m1 0h2m0 0h2m-1 0h2m8 0h2m-1 0h2m-251 1h2m40 0h2m27 0h2m6 0h2m1 0h2m-1 0h2m0 0h2m6 0h2m3 0h2m7 0h2m-1 0h2m1 0h2m10 0h2m1 0h2m11 0h2m3 0h2m1 0h2m-1 0h2m0 0h2m-1 0h2m-1 0h2m-1 0h2m1 0h2m-1 0h2m-1 0h2m-1 0h2m-1 0h2m-1 0h2m2 0h2m0 0h2m-1 0h2m-1 0h2m55 0h2m-1 0h2m-1 0h2m0 0h2m-1 0h2m1 0h2m4 0h2m-1 0h2m8 0h2m-311 1h2m2 0h2m38 0h2m1 0h2m10 0h2m-1 0h2m72 0h2m4 0h2m5 0h2m2 0h2m0 0h2m0 0h2m-1 0h2m8 0h2m5 0h2m1 0h2m1 0h2m-1 0h2m7 0h2m0 0h2m2 0h2m0 0h2m0 0h2m1 0h2m-1 0h2m0 0h2m0 0h2m1 0h2m-1 0h2m-1 0h2m0 0h2m-1 0h2m-1 0h2m-1 0h2m-1 0h2m-1 0h2m-1 0h2m-1 0h2m-1 0h2m0 0h2m-1 0h2m57 0h2m1 0h2m-1 0h2m-1 0h2m1 0h2m-340 1h2m62 0h2m55 0h2m33 0h2m5 0h2m32 0h2m3 0h2m8 0h2m1 0h2m7 0h2m2 0h2m1 0h2m-1 0h2m3 0h2m3 0h2m3 0h2m-1 0h2m-1 0h2m2 0h2m0 0h2m1 0h2m0 0h2m0 0h2m0 0h2m0 0h2m-1 0h2m0 0h2m59 0h2m-1 0h2m-1 0h2m-1 0h2m-1 0h2m-1 0h2m-1 0h2m1 0h2m11 0h2m0 0h2m-340 1h2m97 0h2m19 0h2m32 0h2m21 0h2m26 0h2m0 0h2m10 0h2m-1 0h2m0 0h2m2 0h2m0 0h2m2 0h2m0 0h2m0 0h2m-1 0h2m0 0h2m-1 0h2m-1 0h2m-1 0h2m-1 0h2m0 0h2m-1 0h2m-1 0h2m0 0h2m-1 0h2m62 0h2m0 0h2m-1 0h2m0 0h2m3 0h2m-1 0h2m1 0h2m1 0h2m-305 1h2m15 0h2m34 0h2m37 0h2m41 0h2m4 0h2m5 0h2m9 0h2m3 0h2m0 0h2m7 0h2m-1 0h2m0 0h2m3 0h2m2 0h2m0 0h2m-1 0h2m2 0h2m0 0h2m5 0h2m0 0h2m0 0h2m-1 0h2m-1 0h2m0 0h2m-1 0h2m-1 0h2m0 0h2m-1 0h2m-1 0h2m-1 0h2m64 0h2m-1 0h2m-1 0h2m4 0h2m-1 0h2m3 0h2m7 0h2m2 0h2m-348 1h2m11 0h2m10 0h2m10 0h2m62 0h2m28 0h2m4 0h2m5 0h2m29 0h2m0 0h2m14 0h2m4 0h2m0 0h2m3 0h2m1 0h2m2 0h2m6 0h2m0 0h2m1 0h2m1 0h2m-1 0h2m-1 0h2m-1 0h2m0 0h2m-1 0h2m2 0h2m-1 0h2m0 0h2m-1 0h2m-1 0h2m-1 0h2m-1 0h2m-1 0h2m0 0h2m-1 0h2m-1 0h2m0 0h2m63 0h2m-1 0h2m-1 0h2m-1 0h2m-1 0h2m-1 0h2m3 0h2m-1 0h2m-1 0h2m0 0h2m-1 0h2m-324 1h2m63 0h2m14 0h2m27 0h2m20 0h2m-1 0h2m17 0h2m1 0h2m5 0h2m7 0h2m3 0h2m19 0h2m5 0h2m3 0h2m4 0h2m-1 0h2m-1 0h2m-1 0h2m-1 0h2m2 0h2m-1 0h2m0 0h2m-1 0h2m-1 0h2m0 0h2m-1 0h2m-1 0h2m0 0h2m-1 0h2m-1 0h2m-1 0h2m0 0h2m-1 0h2m64 0h2m-1 0h2m-1 0h2m-1 0h2m-1 0h2m1 0h2m2 0h2m1 0h2m0 0h2m-1 0h2m-1 0h2m5 0h2m-306 1h2m25 0h2m53 0h2m7 0h2m10 0h2m26 0h2m10 0h2m11 0h2m0 0h2m1 0h2m6 0h2m-1 0h2m2 0h2m0 0h2m0 0h2m-1 0h2m2 0h2m5 0h2m0 0h2m-1 0h2m2 0h2m0 0h2m-1 0h2m-1 0h2m1 0h2m-1 0h2m-1 0h2m-1 0h2m-1 0h2m-1 0h2m-1 0h2m66 0h2m-1 0h2m0 0h2m-1 0h2m-1 0h2m-1 0h2m-1 0h2m-1 0h2m5 0h2m4 0h2m-1 0h2m4 0h2m-361 1h2m21 0h2m12 0h2m92 0h2m11 0h2m0 0h2m27 0h2m8 0h2m-1 0h2m2 0h2m5 0h2m3 0h2m-1 0h2m5 0h2m2 0h2m-1 0h2m-1 0h2m6 0h2m-1 0h2m2 0h2m4 0h2m0 0h2m-1 0h2m1 0h2m0 0h2m-1 0h2m0 0h2m-1 0h2m-1 0h2m-1 0h2m-1 0h2m-1 0h2m-1 0h2m-1 0h2m-1 0h2m0 0h2m0 0h2m-1 0h2m-1 0h2m-1 0h2m67 0h2m-1 0h2m1 0h2m-1 0h2m0 0h2m0 0h2m-1 0h2m3 0h2m-325 1h2m1 0h2m22 0h2m4 0h2m43 0h2m-1 0h2m29 0h2m27 0h2m19 0h2m1 0h2m23 0h2m5 0h2m-1 0h2m5 0h2m0 0h2m0 0h2m7 0h2m3 0h2m-1 0h2m-1 0h2m-1 0h2m-1 0h2m-1 0h2m0 0h2m0 0h2m-1 0h2m-1 0h2m-1 0h2m-1 0h2m-1 0h2m-1 0h2m69 0h2m-1 0h2m-1 0h2m-1 0h2m-1 0h2m-1 0h2m-1 0h2m1 0h2m3 0h2m-1 0h2m1 0h2m10 0h2m-338 1h2m31 0h2m22 0h2m16 0h2m19 0h2m4 0h2m34 0h2m-1 0h2m7 0h2m2 0h2m11 0h2m19 0h2m0 0h2m1 0h2m4 0h2m-1 0h2m5 0h2m-1 0h2m-1 0h2m2 0h2m0 0h2m0 0h2m1 0h2m0 0h2m-1 0h2m1 0h2m-1 0h2m-1 0h2m-1 0h2m-1 0h2m0 0h2m-1 0h2m-1 0h2m-1 0h2m-1 0h2m69 0h2m-1 0h2m0 0h2m-1 0h2m1 0h2m3 0h2m0 0h2m-1 0h2m1 0h2m13 0h2m-336 1h2m47 0h2m53 0h2m0 0h2m0 0h2m1 0h2m4 0h2m12 0h2m5 0h2m4 0h2m5 0h2m4 0h2m9 0h2m2 0h2m-1 0h2m4 0h2m2 0h2m13 0h2m2 0h2m1 0h2m-1 0h2m-1 0h2m2 0h2m1 0h2m-1 0h2m0 0h2m-1 0h2m0 0h2m-1 0h2m-1 0h2m0 0h2m-1 0h2m-1 0h2m-1 0h2m-1 0h2m-1 0h2m70 0h2m-1 0h2m-1 0h2m0 0h2m-1 0h2m1 0h2m2 0h2m2 0h2m-1 0h2m4 0h2m6 0h2m-348 1h2m5 0h2m7 0h2m52 0h2m32 0h2m12 0h2m18 0h2m8 0h2m1 0h2m17 0h2m8 0h2m18 0h2m8 0h2m0 0h2m-1 0h2m0 0h2m0 0h2m-1 0h2m2 0h2m2 0h2m-1 0h2m-1 0h2m-1 0h2m0 0h2m-1 0h2m0 0h2m-1 0h2m-1 0h2m-1 0h2m-1 0h2m-1 0h2m-1 0h2m71 0h2m-1 0h2m-1 0h2m-1 0h2m13 0h2m2 0h2m-348 1h2m14 0h2m2 0h2m-1 0h2m28 0h2m57 0h2m0 0h2m4 0h2m31 0h2m8 0h2m-1 0h2m4 0h2m4 0h2m6 0h2m-1 0h2m0 0h2m18 0h2m0 0h2m0 0h2m6 0h2m2 0h2m4 0h2m-1 0h2m-1 0h2m0 0h2m-1 0h2m0 0h2m-1 0h2m-1 0h2m-1 0h2m0 0h2m-1 0h2m-1 0h2m-1 0h2m0 0h2m-1 0h2m-1 0h2m-1 0h2m-1 0h2m-1 0h2m-1 0h2m71 0h2m-1 0h2m-1 0h2m0 0h2m-1 0h2m-1 0h2m-1 0h2m1 0h2m-331 1h2m20 0h2m32 0h2m0 0h2m20 0h2m19 0h2m39 0h2m7 0h2m2 0h2m9 0h2m10 0h2m2 0h2m2 0h2m-1 0h2m9 0h2m3 0h2m5 0h2m0 0h2m-1 0h2m-1 0h2m0 0h2m1 0h2m0 0h2m-1 0h2m1 0h2m0 0h2m-1 0h2m-1 0h2m-1 0h2m-1 0h2m0 0h2m0 0h2m-1 0h2m-1 0h2m-1 0h2m-1 0h2m0 0h2m-1 0h2m-1 0h2m74 0h2m-1 0h2m0 0h2m-1 0h2m0 0h2m-1 0h2m3 0h2m2 0h2m7 0h2m-1 0h2m-306 1h2m10 0h2m5 0h2m11 0h2m72 0h2m8 0h2m18 0h2m-1 0h2m-1 0h2m2 0h2m5 0h2m3 0h2m0 0h2m0 0h2m0 0h2m-1 0h2m-1 0h2m6 0h2m0 0h2m-1 0h2m-1 0h2m-1 0h2m0 0h2m1 0h2m-1 0h2m1 0h2m-1 0h2m-1 0h2m-1 0h2m-1 0h2m-1 0h2m0 0h2m-1 0h2m-1 0h2m1 0h2m-1 0h2m-1 0h2m-1 0h2m-1 0h2m-1 0h2m73 0h2m0 0h2m-1 0h2m0 0h2m1 0h2m-1 0h2m-1 0h2m1 0h2m-1 0h2m-1 0h2m4 0h2m1 0h2m0 0h2m-330 1h2m30 0h2m3 0h2m39 0h2m0 0h2m5 0h2m46 0h2m11 0h2m12 0h2m-1 0h2m9 0h2m1 0h2m-1 0h2m4 0h2m1 0h2m2 0h2m1 0h2m-1 0h2m-1 0h2m0 0h2m0 0h2m1 0h2m-1 0h2m-1 0h2m0 0h2m-1 0h2m1 0h2m0 0h2m-1 0h2m-1 0h2m-1 0h2m-1 0h2m-1 0h2m-1 0h2m0 0h2m-1 0h2m-1 0h2m75 0h2m-1 0h2m-1 0h2m-1 0h2m-1 0h2m-1 0h2m-1 0h2m2 0h2m-1 0h2m-1 0h2m0 0h2m-1 0h2m11 0h2m-261 1h2m37 0h2m3 0h2m7 0h2m14 0h2m31 0h2m4 0h2m-1 0h2m0 0h2m0 0h2m-1 0h2m4 0h2m1 0h2m2 0h2m0 0h2m1 0h2m-1 0h2m1 0h2m-1 0h2m-1 0h2m-1 0h2m-1 0h2m-1 0h2m-1 0h2m-1 0h2m0 0h2m-1 0h2m-1 0h2m-1 0h2m-1 0h2m-1 0h2m-1 0h2m-1 0h2m-1 0h2m76 0h2m0 0h2m1 0h2m-1 0h2m1 0h2m0 0h2m3 0h2m8 0h2m6 0h2m-302 1h2m19 0h2m36 0h2m17 0h2m16 0h2m1 0h2m-1 0h2m-1 0h2m6 0h2m-1 0h2m9 0h2m4 0h2m1 0h2m0 0h2m1 0h2m-1 0h2m0 0h2m2 0h2m1 0h2m0 0h2m0 0h2m-1 0h2m1 0h2m-1 0h2m-1 0h2m2 0h2m-1 0h2m-1 0h2m-1 0h2m-1 0h2m0 0h2m3 0h2m0 0h2m-1 0h2m-1 0h2m-1 0h2m-1 0h2m-1 0h2m0 0h2m0 0h2m-1 0h2m-1 0h2m-1 0h2m-1 0h2m78 0h2m-1 0h2m-1 0h2m-1 0h2m-1 0h2m-1 0h2m-1 0h2m2 0h2m8 0h2m2 0h2m13 0h2m1 0h2m-328 1h2m4 0h2m15 0h2m64 0h2m7 0h2m5 0h2m7 0h2m11 0h2m1 0h2m1 0h2m4 0h2m15 0h2m2 0h2m-1 0h2m2 0h2m-1 0h2m-1 0h2m0 0h2m4 0h2m-1 0h2m-1 0h2m-1 0h2m-1 0h2m0 0h2m-1 0h2m-1 0h2m0 0h2m-1 0h2m2 0h2m-1 0h2m1 0h2m-1 0h2m-1 0h2m-1 0h2m-1 0h2m-1 0h2m-1 0h2m-1 0h2m-1 0h2m80 0h2m-1 0h2m1 0h2m-1 0h2m-1 0h2m0 0h2m4 0h2m0 0h2m2 0h2m1 0h2m3 0h2m1 0h2m9 0h2m-278 1h2m50 0h2m8 0h2m5 0h2m15 0h2m1 0h2m-1 0h2m0 0h2m2 0h2m1 0h2m0 0h2m-1 0h2m1 0h2m0 0h2m-1 0h2m-1 0h2m4 0h2m2 0h2m0 0h2m-1 0h2m-1 0h2m1 0h2m2 0h2m0 0h2m-1 0h2m-1 0h2m-1 0h2m-1 0h2m2 0h2m-1 0h2m-1 0h2m-1 0h2m-1 0h2m-1 0h2m-1 0h2m-1 0h2m-1 0h2m-1 0h2m82 0h2m-1 0h2m-1 0h2m-1 0h2m-1 0h2m-1 0h2m-1 0h2m-1 0h2m4 0h2m6 0h2m-343 1h2m24 0h2m83 0h2m11 0h2m8 0h2m0 0h2m7 0h2m2 0h2m-1 0h2m11 0h2m10 0h2m2 0h2m3 0h2m0 0h2m0 0h2m1 0h2m-1 0h2m-1 0h2m0 0h2m2 0h2m-1 0h2m-1 0h2m4 0h2m0 0h2m-1 0h2m1 0h2m-1 0h2m0 0h2m-1 0h2m-1 0h2m5 0h2m-1 0h2m-1 0h2m-1 0h2m-1 0h2m-1 0h2m-1 0h2m-1 0h2m-1 0h2m83 0h2m-1 0h2m-1 0h2m-1 0h2m-1 0h2m-1 0h2m-1 0h2m-1 0h2m0 0h2m3 0h2m8 0h2m-1 0h2m0 0h2m-340 1h2m33 0h2m12 0h2m20 0h2m14 0h2m11 0h2m14 0h2m10 0h2m13 0h2m22 0h2m-1 0h2m-1 0h2m9 0h2m2 0h2m-1 0h2m-1 0h2m0 0h2m-1 0h2m0 0h2m-1 0h2m1 0h2m-1 0h2m-1 0h2m-1 0h2m0 0h2m1 0h2m0 0h2m1 0h2m-1 0h2m-1 0h2m-1 0h2m-1 0h2m0 0h2m-1 0h2m-1 0h2m-1 0h2m-1 0h2m-1 0h2m0 0h2m-1 0h2m-1 0h2m-1 0h2m84 0h2m-1 0h2m-1 0h2m-1 0h2m2 0h2m-1 0h2m0 0h2m-1 0h2m-1 0h2m0 0h2m2 0h2m9 0h2m-1 0h2m-323 1h2m19 0h2m1 0h2m-1 0h2m40 0h2m16 0h2m3 0h2m4 0h2m10 0h2m1 0h2m3 0h2m0 0h2m9 0h2m12 0h2m8 0h2m0 0h2m3 0h2m0 0h2m2 0h2m2 0h2m-1 0h2m0 0h2m0 0h2m2 0h2m0 0h2m-1 0h2m2 0h2m0 0h2m-1 0h2m-1 0h2m-1 0h2m0 0h2m0 0h2m-1 0h2m-1 0h2m-1 0h2m-1 0h2m-1 0h2m-1 0h2m-1 0h2m86 0h2m-1 0h2m0 0h2m0 0h2m1 0h2m-1 0h2m5 0h2m0 0h2m2 0h2m-1 0h2m-1 0h2m-226 1h2m7 0h2m0 0h2m3 0h2m8 0h2m5 0h2m28 0h2m4 0h2m-1 0h2m-1 0h2m0 0h2m1 0h2m1 0h2m0 0h2m0 0h2m2 0h2m-1 0h2m0 0h2m-1 0h2m0 0h2m0 0h2m-1 0h2m-1 0h2m-1 0h2m-1 0h2m-1 0h2m-1 0h2m0 0h2m-1 0h2m0 0h2m-1 0h2m0 0h2m-1 0h2m87 0h2m-1 0h2m-1 0h2m-1 0h2m-1 0h2m-1 0h2m-1 0h2m-1 0h2m0 0h2m2 0h2m6 0h2m0 0h2m-333 1h2m70 0h2m11 0h2m21 0h2m15 0h2m3 0h2m1 0h2m22 0h2m12 0h2m0 0h2m-1 0h2m4 0h2m5 0h2m-1 0h2m3 0h2m1 0h2m1 0h2m0 0h2m-1 0h2m-1 0h2m-1 0h2m-1 0h2m-1 0h2m-1 0h2m-1 0h2m-1 0h2m-1 0h2m-1 0h2m-1 0h2m0 0h2m91 0h2m-1 0h2m-1 0h2m-1 0h2m-1 0h2m0 0h2m-1 0h2m4 0h2m-1 0h2m-1 0h2m1 0h2m0 0h2m-1 0h2m4 0h2m-308 1h2m15 0h2m39 0h2m21 0h2m25 0h2m1 0h2m-1 0h2m5 0h2m0 0h2m0 0h2m25 0h2m0 0h2m2 0h2m0 0h2m0 0h2m1 0h2m-1 0h2m-1 0h2m-1 0h2m1 0h2m1 0h2m-1 0h2m-1 0h2m-1 0h2m-1 0h2m-1 0h2m-1 0h2m0 0h2m-1 0h2m0 0h2m-1 0h2m92 0h2m-1 0h2m-1 0h2m-1 0h2m1 0h2m0 0h2m-1 0h2m-1 0h2m0 0h2m-1 0h2m0 0h2m-1 0h2m3 0h2m3 0h2m-278 1h2m66 0h2m3 0h2m4 0h2m8 0h2m1 0h2m2 0h2m2 0h2m3 0h2m1 0h2m-1 0h2m0 0h2m0 0h2m0 0h2m2 0h2m5 0h2m-1 0h2m-1 0h2m0 0h2m0 0h2m-1 0h2m3 0h2m-1 0h2m-1 0h2m-1 0h2m1 0h2m-1 0h2m-1 0h2m-1 0h2m0 0h2m-1 0h2m-1 0h2m-1 0h2m-1 0h2m-1 0h2m93 0h2m-1 0h2m0 0h2m0 0h2m-1 0h2m2 0h2m-1 0h2m0 0h2m3 0h2m-1 0h2m-1 0h2m-1 0h2m2 0h2m5 0h2m2 0h2m6 0h2m-302 1h2m3 0h2m16 0h2m12 0h2m36 0h2m12 0h2m7 0h2m-1 0h2m1 0h2m1 0h2m3 0h2m5 0h2m0 0h2m0 0h2m6 0h2m0 0h2m-1 0h2m-1 0h2m2 0h2m-1 0h2m0 0h2m-1 0h2m-1 0h2m-1 0h2m-1 0h2m-1 0h2m0 0h2m-1 0h2m-1 0h2m0 0h2m-1 0h2m-1 0h2m0 0h2m-1 0h2m97 0h2m-1 0h2m-1 0h2m-1 0h2m-1 0h2m-1 0h2m-1 0h2m-1 0h2m1 0h2m0 0h2m4 0h2m0 0h2m12 0h2m-253 1h2m51 0h2m0 0h2m5 0h2m6 0h2m1 0h2m1 0h2m1 0h2m1 0h2m4 0h2m-1 0h2m-1 0h2m1 0h2m1 0h2m-1 0h2m2 0h2m-1 0h2m-1 0h2m-1 0h2m0 0h2m0 0h2m-1 0h2m-1 0h2m-1 0h2m-1 0h2m-1 0h2m-1 0h2m100 0h2m-1 0h2m0 0h2m-1 0h2m-1 0h2m-1 0h2m2 0h2m5 0h2m0 0h2m2 0h2m2 0h2m-1 0h2m1 0h2m4 0h2m0 0h2m-347 1h2m16 0h2m12 0h2m0 0h2m50 0h2m1 0h2m10 0h2m31 0h2m0 0h2m7 0h2m0 0h2m6 0h2m3 0h2m0 0h2m1 0h2m2 0h2m1 0h2m3 0h2m-1 0h2m0 0h2m0 0h2m2 0h2m-1 0h2m-1 0h2m3 0h2m-1 0h2m-1 0h2m-1 0h2m-1 0h2m0 0h2m-1 0h2m-1 0h2m-1 0h2m-1 0h2m100 0h2m-1 0h2m-1 0h2m-1 0h2m-1 0h2m0 0h2m4 0h2m-1 0h2m-1 0h2m5 0h2m24 0h2m-278 1h2m19 0h2m25 0h2m40 0h2m3 0h2m-1 0h2m1 0h2m-1 0h2m4 0h2m0 0h2m0 0h2m-1 0h2m-1 0h2m-1 0h2m0 0h2m0 0h2m-1 0h2m-1 0h2m-1 0h2m-1 0h2m-1 0h2m-1 0h2m-1 0h2m102 0h2m-1 0h2m-1 0h2m0 0h2m-1 0h2m-1 0h2m1 0h2m0 0h2m-1 0h2m7 0h2m5 0h2m6 0h2m-279 1h2m-1 0h2m18 0h2m6 0h2m38 0h2m9 0h2m4 0h2m2 0h2m1 0h2m0 0h2m1 0h2m7 0h2m3 0h2m4 0h2m2 0h2m-1 0h2m0 0h2m-1 0h2m0 0h2m0 0h2m-1 0h2m-1 0h2m-1 0h2m-1 0h2m104 0h2m-1 0h2m-1 0h2m-1 0h2m0 0h2m-1 0h2m-1 0h2m-1 0h2m0 0h2m-1 0h2m0 0h2m-1 0h2m1 0h2m13 0h2m-331 1h2m3 0h2m18 0h2m49 0h2m4 0h2m20 0h2m0 0h2m13 0h2m16 0h2m0 0h2m4 0h2m6 0h2m-1 0h2m-1 0h2m5 0h2m1 0h2m-1 0h2m1 0h2m0 0h2m-1 0h2m0 0h2m-1 0h2m-1 0h2m1 0h2m-1 0h2m-1 0h2m0 0h2m-1 0h2m-1 0h2m-1 0h2m-1 0h2m106 0h2m-1 0h2m0 0h2m-1 0h2m-1 0h2m-1 0h2m0 0h2m0 0h2m3 0h2m0 0h2m11 0h2m-1 0h2m1 0h2m3 0h2m-313 1h2m1 0h2m73 0h2m26 0h2m11 0h2m0 0h2m6 0h2m0 0h2m7 0h2m-1 0h2m0 0h2m0 0h2m2 0h2m0 0h2m1 0h2m-1 0h2m-1 0h2m0 0h2m-1 0h2m-1 0h2m0 0h2m-1 0h2m106 0h2m0 0h2m-1 0h2m3 0h2m1 0h2m-1 0h2m-1 0h2m1 0h2m2 0h2m-1 0h2m26 0h2m-364 1h2m20 0h2m-1 0h2m4 0h2m21 0h2m6 0h2m15 0h2m9 0h2m51 0h2m-1 0h2m6 0h2m4 0h2m1 0h2m5 0h2m9 0h2m-1 0h2m-1 0h2m2 0h2m0 0h2m-1 0h2m0 0h2m1 0h2m0 0h2m2 0h2m0 0h2m-1 0h2m0 0h2m-1 0h2m107 0h2m-1 0h2m-1 0h2m-1 0h2m-1 0h2m-1 0h2m-1 0h2m-1 0h2m-1 0h2m-1 0h2m1 0h2m1 0h2m0 0h2m2 0h2m4 0h2m0 0h2m2 0h2m-327 1h2m47 0h2m5 0h2m9 0h2m9 0h2m2 0h2m4 0h2m3 0h2m1 0h2m43 0h2m7 0h2m1 0h2m2 0h2m-1 0h2m0 0h2m1 0h2m0 0h2m0 0h2m-1 0h2m-1 0h2m-1 0h2m0 0h2m-1 0h2m-1 0h2m-1 0h2m-1 0h2m-1 0h2m0 0h2m-1 0h2m-1 0h2m-1 0h2m107 0h2m-1 0h2m-1 0h2m-1 0h2m-1 0h2m-1 0h2m-1 0h2m1 0h2m-1 0h2m-1 0h2m0 0h2m-1 0h2m32 0h2m-304 1h2m5 0h2m11 0h2m9 0h2m26 0h2m10 0h2m5 0h2m10 0h2m0 0h2m0 0h2m15 0h2m1 0h2m5 0h2m1 0h2m-1 0h2m-1 0h2m-1 0h2m1 0h2m-1 0h2m0 0h2m-1 0h2m0 0h2m-1 0h2m-1 0h2m-1 0h2m0 0h2m-1 0h2m-1 0h2m109 0h2m-1 0h2m-1 0h2m-1 0h2m-1 0h2m-1 0h2m0 0h2m-1 0h2m-1 0h2m1 0h2m5 0h2m2 0h2m0 0h2m2 0h2m6 0h2m2 0h2m-330 1h2m70 0h2m32 0h2m8 0h2m7 0h2m-1 0h2m7 0h2m6 0h2m-1 0h2m-1 0h2m15 0h2m0 0h2m-1 0h2m0 0h2m-1 0h2m-1 0h2m-1 0h2m-1 0h2m-1 0h2m0 0h2m108 0h2m-1 0h2m-1 0h2m-1 0h2m-1 0h2m-1 0h2m-1 0h2m-1 0h2m-1 0h2m0 0h2m-1 0h2m-1 0h2m-1 0h2m0 0h2m6 0h2m1 0h2m5 0h2m-286 1h2m32 0h2m11 0h2m55 0h2m-1 0h2m9 0h2m0 0h2m1 0h2m-1 0h2m0 0h2m0 0h2m-1 0h2m0 0h2m-1 0h2m-1 0h2m-1 0h2m-1 0h2m-1 0h2m-1 0h2m-1 0h2m0 0h2m-1 0h2m109 0h2m-1 0h2m-1 0h2m-1 0h2m-1 0h2m1 0h2m-1 0h2m-1 0h2m-1 0h2m1 0h2m3 0h2m6 0h2m3 0h2m2 0h2m0 0h2m-1 0h2m-253 1h2m14 0h2m0 0h2m2 0h2m21 0h2m-1 0h2m3 0h2m4 0h2m-1 0h2m3 0h2m2 0h2m3 0h2m5 0h2m0 0h2m4 0h2m0 0h2m1 0h2m0 0h2m0 0h2m-1 0h2m-1 0h2m-1 0h2m-1 0h2m-1 0h2m109 0h2m-1 0h2m-1 0h2m-1 0h2m3 0h2m3 0h2m1 0h2m1 0h2m0 0h2m-1 0h2m1 0h2m-1 0h2m0 0h2m4 0h2m0 0h2m9 0h2m-345 1h2m101 0h2m-1 0h2m-1 0h2m10 0h2m0 0h2m0 0h2m3 0h2m4 0h2m-1 0h2m2 0h2m1 0h2m7 0h2m0 0h2m4 0h2m1 0h2m1 0h2m-1 0h2m0 0h2m-1 0h2m-1 0h2m1 0h2m-1 0h2m-1 0h2m-1 0h2m-1 0h2m-1 0h2m-1 0h2m0 0h2m-1 0h2m-1 0h2m0 0h2m-1 0h2m110 0h2m-1 0h2m-1 0h2m-1 0h2m-1 0h2m-1 0h2m0 0h2m-1 0h2m-1 0h2m-1 0h2m1 0h2m1 0h2m7 0h2m-1 0h2m-1 0h2m6 0h2m3 0h2m9 0h2m-277 1h2m18 0h2m17 0h2m18 0h2m7 0h2m12 0h2m6 0h2m2 0h2m-1 0h2m1 0h2m-1 0h2m0 0h2m-1 0h2m-1 0h2m-1 0h2m-1 0h2m-1 0h2m-1 0h2m-1 0h2m-1 0h2m111 0h2m-1 0h2m-1 0h2m1 0h2m-1 0h2m0 0h2m0 0h2m1 0h2m-1 0h2m0 0h2m26 0h2m-314 1h2m19 0h2m35 0h2m9 0h2m11 0h2m11 0h2m8 0h2m-1 0h2m1 0h2m9 0h2m2 0h2m0 0h2m-1 0h2m1 0h2m0 0h2m0 0h2m0 0h2m1 0h2m3 0h2m1 0h2m-1 0h2m0 0h2m-1 0h2m-1 0h2m0 0h2m111 0h2m-1 0h2m0 0h2m-1 0h2m-1 0h2m-1 0h2m2 0h2m4 0h2m7 0h2m0 0h2m-1 0h2m2 0h2m4 0h2m10 0h2m-310 1h2m20 0h2m41 0h2m0 0h2m1 0h2m27 0h2m4 0h2m2 0h2m2 0h2m9 0h2m1 0h2m-1 0h2m-1 0h2m1 0h2m0 0h2m0 0h2m-1 0h2m0 0h2m0 0h2m-1 0h2m-1 0h2m-1 0h2m111 0h2m0 0h2m-1 0h2m0 0h2m-1 0h2m-1 0h2m-1 0h2m1 0h2m16 0h2m-1 0h2m10 0h2m-283 1h2m92 0h2m0 0h2m5 0h2m0 0h2m5 0h2m1 0h2m2 0h2m-1 0h2m0 0h2m-1 0h2m-1 0h2m112 0h2m-1 0h2m0 0h2m-1 0h2m-1 0h2m-1 0h2m0 0h2m2 0h2m-1 0h2m2 0h2m0 0h2m15 0h2m14 0h2m-1 0h2m-315 1h2m30 0h2m34 0h2m6 0h2m8 0h2m4 0h2m22 0h2m-1 0h2m3 0h2m-1 0h2m3 0h2m2 0h2m0 0h2m0 0h2m0 0h2m0 0h2m0 0h2m-1 0h2m-1 0h2m-1 0h2m-1 0h2m112 0h2m-1 0h2m-1 0h2m0 0h2m-1 0h2m-1 0h2m-1 0h2m-1 0h2m-1 0h2m1 0h2m2 0h2m-1 0h2m-1 0h2m6 0h2m-267 1h2m32 0h2m23 0h2m26 0h2m-1 0h2m3 0h2m1 0h2m0 0h2m3 0h2m5 0h2m0 0h2m-1 0h2m-1 0h2m-1 0h2m1 0h2m-1 0h2m-1 0h2m0 0h2m-1 0h2m112 0h2m-1 0h2m-1 0h2m0 0h2m-1 0h2m-1 0h2m-1 0h2m4 0h2m1 0h2m-1 0h2m31 0h2m-291 1h2m11 0h2m14 0h2m26 0h2m-1 0h2m2 0h2m-1 0h2m22 0h2m7 0h2m4 0h2m7 0h2m-1 0h2m0 0h2m3 0h2m-1 0h2m-1 0h2m0 0h2m-1 0h2m-1 0h2m111 0h2m-1 0h2m-1 0h2m-1 0h2m0 0h2m-1 0h2m-1 0h2m-1 0h2m0 0h2m-1 0h2m-1 0h2m0 0h2m-1 0h2m0 0h2m-1 0h2m-1 0h2m2 0h2m13 0h2m-321 1h2m10 0h2m28 0h2m16 0h2m1 0h2m0 0h2m8 0h2m14 0h2m4 0h2m10 0h2m1 0h2m10 0h2m7 0h2m8 0h2m-1 0h2m2 0h2m0 0h2m-1 0h2m-1 0h2m0 0h2m0 0h2m-1 0h2m0 0h2m1 0h2m-1 0h2m0 0h2m-1 0h2m-1 0h2m112 0h2m-1 0h2m-1 0h2m-1 0h2m-1 0h2m-1 0h2m0 0h2m1 0h2m0 0h2m1 0h2m0 0h2m-1 0h2m-1 0h2m6 0h2m18 0h2m2 0h2m-292 1h2m1 0h2m32 0h2m29 0h2m-1 0h2m-1 0h2m3 0h2m1 0h2m2 0h2m6 0h2m10 0h2m0 0h2m-1 0h2m5 0h2m1 0h2m-1 0h2m-1 0h2m-1 0h2m0 0h2m-1 0h2m0 0h2m-1 0h2m111 0h2m-1 0h2m-1 0h2m-1 0h2m0 0h2m-1 0h2m-1 0h2m-1 0h2m0 0h2m0 0h2m4 0h2m5 0h2m0 0h2m15 0h2m-324 1h2m25 0h2m43 0h2m1 0h2m4 0h2m21 0h2m1 0h2m24 0h2m10 0h2m0 0h2m1 0h2m2 0h2m-1 0h2m0 0h2m-1 0h2m-1 0h2m-1 0h2m-1 0h2m-1 0h2m-1 0h2m-1 0h2m113 0h2m1 0h2m-1 0h2m5 0h2m-1 0h2m2 0h2m0 0h2m-1 0h2m-1 0h2m10 0h2m1 0h2m-307 1h2m3 0h2m16 0h2m2 0h2m61 0h2m1 0h2m-1 0h2m5 0h2m6 0h2m14 0h2m3 0h2m-1 0h2m1 0h2m0 0h2m0 0h2m2 0h2m-1 0h2m0 0h2m0 0h2m0 0h2m-1 0h2m-1 0h2m-1 0h2m-1 0h2m-1 0h2m113 0h2m-1 0h2m-1 0h2m-1 0h2m3 0h2m-1 0h2m4 0h2m0 0h2m4 0h2m1 0h2m1 0h2m0 0h2m-321 1h2m43 0h2m0 0h2m34 0h2m5 0h2m20 0h2m6 0h2m6 0h2m-1 0h2m6 0h2m6 0h2m-1 0h2m1 0h2m3 0h2m-1 0h2m1 0h2m-1 0h2m-1 0h2m1 0h2m-1 0h2m0 0h2m-1 0h2m0 0h2m-1 0h2m-1 0h2m-1 0h2m-1 0h2m111 0h2m-1 0h2m-1 0h2m-1 0h2m0 0h2m-1 0h2m-1 0h2m5 0h2m2 0h2m3 0h2m19 0h2m-334 1h2m112 0h2m0 0h2m29 0h2m-1 0h2m6 0h2m5 0h2m-1 0h2m-1 0h2m0 0h2m-1 0h2m-1 0h2m-1 0h2m-1 0h2m-1 0h2m-1 0h2m-1 0h2m113 0h2m-1 0h2m-1 0h2m-1 0h2m-1 0h2m-1 0h2m14 0h2m1 0h2m12 0h2m-223 1h2m11 0h2m5 0h2m2 0h2m2 0h2m-1 0h2m0 0h2m0 0h2m7 0h2m-1 0h2m1 0h2m8 0h2m0 0h2m-1 0h2m-1 0h2m-1 0h2m-1 0h2m-1 0h2m0 0h2m-1 0h2m-1 0h2m112 0h2m-1 0h2m-1 0h2m-1 0h2m0 0h2m0 0h2m2 0h2m1 0h2m10 0h2m1 0h2m-302 1h2m2 0h2m2 0h2m19 0h2m30 0h2m4 0h2m0 0h2m12 0h2m9 0h2m10 0h2m11 0h2m6 0h2m11 0h2m-1 0h2m0 0h2m0 0h2m1 0h2m-1 0h2m0 0h2m-1 0h2m-1 0h2m-1 0h2m0 0h2m111 0h2m-1 0h2m-1 0h2m-1 0h2m-1 0h2m-1 0h2m0 0h2m8 0h2m16 0h2m8 0h2m-241 1h2m5 0h2m9 0h2m4 0h2m11 0h2m11 0h2m7 0h2m-1 0h2m0 0h2m-1 0h2m-1 0h2m1 0h2m-1 0h2m1 0h2m-1 0h2m1 0h2m-1 0h2m0 0h2m-1 0h2m-1 0h2m113 0h2m1 0h2m-1 0h2m-1 0h2m0 0h2m4 0h2m1 0h2m34 0h2m-271 1h2m59 0h2m0 0h2m22 0h2m-1 0h2m0 0h2m-1 0h2m3 0h2m-1 0h2m1 0h2m115 0h2m-1 0h2m-1 0h2m-1 0h2m0 0h2m-1 0h2m2 0h2m7 0h2m0 0h2m31 0h2m-295 1h2m-1 0h2m41 0h2m9 0h2m10 0h2m4 0h2m3 0h2m15 0h2m9 0h2m-1 0h2m0 0h2m-1 0h2m-1 0h2m0 0h2m-1 0h2m1 0h2m-1 0h2m-1 0h2m-1 0h2m-1 0h2m113 0h2m-1 0h2m1 0h2m-1 0h2m1 0h2m5 0h2m-1 0h2m1 0h2m0 0h2m-1 0h2m1 0h2m-313 1h2m33 0h2m2 0h2m1 0h2m2 0h2m16 0h2m-1 0h2m7 0h2m21 0h2m34 0h2m-1 0h2m11 0h2m7 0h2m-1 0h2m-1 0h2m-1 0h2m0 0h2m-1 0h2m-1 0h2m1 0h2m-1 0h2m0 0h2m-1 0h2m0 0h2m111 0h2m0 0h2m-1 0h2m-1 0h2m7 0h2m-1 0h2m-1 0h2m2 0h2m-294 1h2m18 0h2m33 0h2m35 0h2m12 0h2m1 0h2m4 0h2m6 0h2m-1 0h2m0 0h2m0 0h2m7 0h2m2 0h2m3 0h2m-1 0h2m-1 0h2m1 0h2m0 0h2m1 0h2m1 0h2m-1 0h2m110 0h2m-1 0h2m0 0h2m-1 0h2m-1 0h2m-1 0h2m0 0h2m-1 0h2m5 0h2m2 0h2m-1 0h2m-1 0h2m4 0h2m2 0h2m40 0h2m-329 1h2m11 0h2m-1 0h2m17 0h2m2 0h2m29 0h2m10 0h2m5 0h2m8 0h2m12 0h2m-1 0h2m2 0h2m8 0h2m-1 0h2m4 0h2m-1 0h2m0 0h2m0 0h2m1 0h2m-1 0h2m-1 0h2m107 0h2m-1 0h2m-1 0h2m0 0h2m0 0h2m-1 0h2m3 0h2m5 0h2m2 0h2m-281 1h2m17 0h2m14 0h2m12 0h2m23 0h2m25 0h2m22 0h2m1 0h2m3 0h2m-1 0h2m3 0h2m-1 0h2m-1 0h2m0 0h2m-1 0h2m-1 0h2m107 0h2m0 0h2m-1 0h2m-1 0h2m-1 0h2m1 0h2m5 0h2m0 0h2m2 0h2m1 0h2m3 0h2m13 0h2m-298 1h2m27 0h2m24 0h2m0 0h2m3 0h2m3 0h2m34 0h2m4 0h2m-1 0h2m7 0h2m2 0h2m-1 0h2m0 0h2m-1 0h2m5 0h2m-1 0h2m0 0h2m-1 0h2m0 0h2m0 0h2m-1 0h2m0 0h2m-1 0h2m104 0h2m-1 0h2m-1 0h2m-1 0h2m0 0h2m-1 0h2m-1 0h2m0 0h2m-1 0h2m-1 0h2m0 0h2m0 0h2m0 0h2m-1 0h2m0 0h2m8 0h2m-238 1h2m40 0h2m2 0h2m13 0h2m8 0h2m8 0h2m-1 0h2m1 0h2m4 0h2m0 0h2m-1 0h2m-1 0h2m-1 0h2m-1 0h2m-1 0h2m-1 0h2m105 0h2m-1 0h2m0 0h2m1 0h2m-1 0h2m0 0h2m1 0h2m24 0h2m-304 1h2m32 0h2m17 0h2m-1 0h2m21 0h2m24 0h2m20 0h2m2 0h2m4 0h2m2 0h2m1 0h2m0 0h2m-1 0h2m1 0h2m-1 0h2m1 0h2m-1 0h2m-1 0h2m-1 0h2m0 0h2m-1 0h2m-1 0h2m101 0h2m-1 0h2m-1 0h2m0 0h2m-1 0h2m1 0h2m0 0h2m1 0h2m5 0h2m8 0h2m-196 1h2m6 0h2m-1 0h2m2 0h2m-1 0h2m13 0h2m15 0h2m3 0h2m-1 0h2m-1 0h2m-1 0h2m-1 0h2m-1 0h2m-1 0h2m-1 0h2m-1 0h2m-1 0h2m-1 0h2m98 0h2m-1 0h2m-1 0h2m-1 0h2m0 0h2m-1 0h2m1 0h2m4 0h2m0 0h2m-1 0h2m1 0h2m-258 1h2m5 0h2m50 0h2m10 0h2m1 0h2m23 0h2m1 0h2m3 0h2m-1 0h2m-1 0h2m-1 0h2m5 0h2m0 0h2m-1 0h2m0 0h2m-1 0h2m-1 0h2m0 0h2m3 0h2m-1 0h2m-1 0h2m-1 0h2m-1 0h2m97 0h2m0 0h2m-1 0h2m1 0h2m-1 0h2m0 0h2m-1 0h2m-1 0h2m1 0h2m3 0h2m5 0h2m-304 1h2m44 0h2m9 0h2m1 0h2m18 0h2m18 0h2m6 0h2m5 0h2m0 0h2m8 0h2m2 0h2m5 0h2m8 0h2m-1 0h2m0 0h2m4 0h2m3 0h2m1 0h2m-1 0h2m-1 0h2m2 0h2m-1 0h2m-1 0h2m-1 0h2m-1 0h2m0 0h2m-1 0h2m-1 0h2m94 0h2m-1 0h2m-1 0h2m-1 0h2m-1 0h2m-1 0h2m2 0h2m-1 0h2m-1 0h2m3 0h2m11 0h2m4 0h2m10 0h2m-201 1h2m20 0h2m4 0h2m1 0h2m0 0h2m-1 0h2m-1 0h2m-1 0h2m0 0h2m4 0h2m-1 0h2m2 0h2m1 0h2m-1 0h2m-1 0h2m94 0h2m-1 0h2m-1 0h2m-1 0h2m1 0h2m0 0h2m-1 0h2m4 0h2m1 0h2m2 0h2m-1 0h2m3 0h2m3 0h2m27 0h2m11 0h2m-242 1h2m4 0h2m1 0h2m-1 0h2m4 0h2m13 0h2m-1 0h2m9 0h2m2 0h2m4 0h2m0 0h2m0 0h2m-1 0h2m2 0h2m1 0h2m-1 0h2m0 0h2m-1 0h2m-1 0h2m91 0h2m-1 0h2m-1 0h2m-1 0h2m-1 0h2m-1 0h2m-1 0h2m-1 0h2m0 0h2m0 0h2m-1 0h2m3 0h2m1 0h2m-1 0h2m-177 1h2m9 0h2m3 0h2m8 0h2m2 0h2m3 0h2m1 0h2m-1 0h2m1 0h2m2 0h2m2 0h2m0 0h2m1 0h2m0 0h2m-1 0h2m-1 0h2m-1 0h2m0 0h2m-1 0h2m88 0h2m-1 0h2m-1 0h2m-1 0h2m0 0h2m-1 0h2m-1 0h2m2 0h2m-1 0h2m1 0h2m1 0h2m-1 0h2m7 0h2m-1 0h2m-1 0h2m61 0h2m-301 1h2m8 0h2m31 0h2m18 0h2m25 0h2m0 0h2m-1 0h2m5 0h2m1 0h2m1 0h2m1 0h2m-1 0h2m1 0h2m0 0h2m-1 0h2m87 0h2m-1 0h2m-1 0h2m-1 0h2m0 0h2m11 0h2m-1 0h2m2 0h2m0 0h2m-270 1h2m32 0h2m-1 0h2m6 0h2m41 0h2m5 0h2m6 0h2m4 0h2m4 0h2m11 0h2m-1 0h2m5 0h2m1 0h2m2 0h2m2 0h2m-1 0h2m0 0h2m1 0h2m1 0h2m-1 0h2m85 0h2m-1 0h2m1 0h2m0 0h2m-1 0h2m0 0h2m0 0h2m-1 0h2m-1 0h2m-1 0h2m0 0h2m-1 0h2m-1 0h2m4 0h2m0 0h2m0 0h2m1 0h2m-1 0h2m0 0h2m2 0h2m0 0h2m0 0h2m11 0h2m-327 1h2m45 0h2m56 0h2m6 0h2m1 0h2m-1 0h2m5 0h2m-1 0h2m12 0h2m2 0h2m5 0h2m-1 0h2m3 0h2m2 0h2m1 0h2m-1 0h2m-1 0h2m1 0h2m0 0h2m-1 0h2m-1 0h2m-1 0h2m0 0h2m0 0h2m0 0h2m-1 0h2m1 0h2m84 0h2m1 0h2m3 0h2m-1 0h2m0 0h2m1 0h2m-1 0h2m3 0h2m3 0h2m-275 1h2m2 0h2m0 0h2m98 0h2m0 0h2m4 0h2m4 0h2m7 0h2m4 0h2m0 0h2m-1 0h2m1 0h2m0 0h2m3 0h2m-1 0h2m2 0h2m0 0h2m0 0h2m1 0h2m-1 0h2m-1 0h2m0 0h2m80 0h2m-1 0h2m-1 0h2m-1 0h2m-1 0h2m0 0h2m0 0h2m-1 0h2m2 0h2m2 0h2m-1 0h2m3 0h2m4 0h2m16 0h2m-305 1h2m21 0h2m3 0h2m38 0h2m16 0h2m38 0h2m1 0h2m2 0h2m3 0h2m4 0h2m2 0h2m2 0h2m4 0h2m1 0h2m-1 0h2m-1 0h2m-1 0h2m-1 0h2m-1 0h2m-1 0h2m1 0h2m-1 0h2m-1 0h2m0 0h2m-1 0h2m-1 0h2m-1 0h2m74 0h2m-1 0h2m-1 0h2m-1 0h2m0 0h2m0 0h2m0 0h2m-1 0h2m0 0h2m0 0h2m2 0h2m1 0h2m-1 0h2m14 0h2m-255 1h2m70 0h2m4 0h2m0 0h2m2 0h2m3 0h2m2 0h2m5 0h2m3 0h2m1 0h2m5 0h2m1 0h2m6 0h2m-1 0h2m-1 0h2m1 0h2m0 0h2m1 0h2m-1 0h2m-1 0h2m-1 0h2m-1 0h2m70 0h2m0 0h2m0 0h2m-1 0h2m0 0h2m-1 0h2m-1 0h2m-1 0h2m-1 0h2m0 0h2m-1 0h2m-1 0h2m0 0h2m6 0h2m-1 0h2m14 0h2m43 0h2m-293 1h2m47 0h2m2 0h2m27 0h2m6 0h2m8 0h2m-1 0h2m6 0h2m0 0h2m5 0h2m0 0h2m-1 0h2m2 0h2m-1 0h2m-1 0h2m0 0h2m-1 0h2m-1 0h2m-1 0h2m-1 0h2m-1 0h2m-1 0h2m65 0h2m-1 0h2m-1 0h2m0 0h2m-1 0h2m-1 0h2m1 0h2m-1 0h2m-1 0h2m-1 0h2m-1 0h2m0 0h2m-1 0h2m2 0h2m4 0h2m2 0h2m4 0h2m-282 1h2m24 0h2m78 0h2m4 0h2m1 0h2m19 0h2m5 0h2m2 0h2m0 0h2m-1 0h2m-1 0h2m1 0h2m1 0h2m-1 0h2m-1 0h2m1 0h2m-1 0h2m-1 0h2m-1 0h2m1 0h2m0 0h2m0 0h2m-1 0h2m0 0h2m-1 0h2m-1 0h2m0 0h2m60 0h2m-1 0h2m-1 0h2m-1 0h2m-1 0h2m-1 0h2m-1 0h2m-1 0h2m0 0h2m-1 0h2m-1 0h2m-1 0h2m1 0h2m11 0h2m3 0h2m3 0h2m1 0h2m-223 1h2m14 0h2m1 0h2m16 0h2m2 0h2m-1 0h2m7 0h2m3 0h2m3 0h2m1 0h2m15 0h2m4 0h2m3 0h2m2 0h2m-1 0h2m-1 0h2m0 0h2m5 0h2m-1 0h2m0 0h2m0 0h2m-1 0h2m-1 0h2m-1 0h2m1 0h2m0 0h2m56 0h2m-1 0h2m-1 0h2m-1 0h2m-1 0h2m-1 0h2m-1 0h2m0 0h2m-1 0h2m1 0h2m0 0h2m-1 0h2m0 0h2m0 0h2m4 0h2m0 0h2m2 0h2m0 0h2m1 0h2m2 0h2m2 0h2m0 0h2m-295 1h2m55 0h2m40 0h2m20 0h2m3 0h2m0 0h2m13 0h2m8 0h2m3 0h2m8 0h2m1 0h2m-1 0h2m-1 0h2m3 0h2m-1 0h2m-1 0h2m0 0h2m-1 0h2m-1 0h2m-1 0h2m-1 0h2m-1 0h2m-1 0h2m-1 0h2m54 0h2m-1 0h2m-1 0h2m-1 0h2m-1 0h2m-1 0h2m-1 0h2m-1 0h2m-1 0h2m-1 0h2m0 0h2m-1 0h2m2 0h2m0 0h2m5 0h2m0 0h2m1 0h2m-1 0h2m0 0h2m17 0h2m19 0h2m4 0h2m-298 1h2m9 0h2m5 0h2m67 0h2m16 0h2m1 0h2m6 0h2m4 0h2m-1 0h2m-1 0h2m0 0h2m1 0h2m0 0h2m0 0h2m0 0h2m0 0h2m0 0h2m0 0h2m0 0h2m2 0h2m-1 0h2m-1 0h2m-1 0h2m-1 0h2m-1 0h2m2 0h2m0 0h2m-1 0h2m-1 0h2m-1 0h2m-1 0h2m-1 0h2m-1 0h2m48 0h2m-1 0h2m0 0h2m-1 0h2m-1 0h2m-1 0h2m-1 0h2m0 0h2m1 0h2m0 0h2m-1 0h2m0 0h2m4 0h2m-1 0h2m7 0h2m32 0h2m-297 1h2m41 0h2m0 0h2m29 0h2m4 0h2m4 0h2m14 0h2m-1 0h2m6 0h2m1 0h2m13 0h2m2 0h2m0 0h2m-1 0h2m2 0h2m1 0h2m4 0h2m1 0h2m1 0h2m-1 0h2m-1 0h2m-1 0h2m0 0h2m-1 0h2m-1 0h2m-1 0h2m-1 0h2m1 0h2m-1 0h2m-1 0h2m0 0h2m-1 0h2m-1 0h2m-1 0h2m-1 0h2m-1 0h2m-1 0h2m-1 0h2m44 0h2m0 0h2m-1 0h2m-1 0h2m-1 0h2m-1 0h2m0 0h2m1 0h2m2 0h2m2 0h2m0 0h2m0 0h2m1 0h2m0 0h2m0 0h2m-1 0h2m-1 0h2m-1 0h2m-270 1h2m92 0h2m8 0h2m13 0h2m6 0h2m0 0h2m-1 0h2m-1 0h2m1 0h2m2 0h2m3 0h2m1 0h2m1 0h2m1 0h2m0 0h2m-1 0h2m1 0h2m-1 0h2m9 0h2m-1 0h2m-1 0h2m2 0h2m-1 0h2m2 0h2m-1 0h2m-1 0h2m0 0h2m-1 0h2m0 0h2m-1 0h2m-1 0h2m-1 0h2m-1 0h2m-1 0h2m32 0h2m0 0h2m-1 0h2m-1 0h2m-1 0h2m-1 0h2m-1 0h2m-1 0h2m-1 0h2m-1 0h2m-1 0h2m0 0h2m0 0h2m-1 0h2m0 0h2m0 0h2m-1 0h2m0 0h2m0 0h2m-1 0h2m3 0h2m5 0h2m1 0h2m14 0h2m-237 1h2m36 0h2m3 0h2m7 0h2m3 0h2m4 0h2m4 0h2m0 0h2m1 0h2m0 0h2m4 0h2m1 0h2m3 0h2m0 0h2m3 0h2m0 0h2m-1 0h2m0 0h2m0 0h2m0 0h2m1 0h2m0 0h2m0 0h2m3 0h2m0 0h2m-1 0h2m-1 0h2m0 0h2m-1 0h2m3 0h2m0 0h2m0 0h2m1 0h2m0 0h2m-1 0h2m-1 0h2m-1 0h2m-1 0h2m-1 0h2m-1 0h2m-1 0h2m-1 0h2m-1 0h2m-1 0h2m-1 0h2m23 0h2m-1 0h2m-1 0h2m-1 0h2m-1 0h2m-1 0h2m-1 0h2m-1 0h2m-1 0h2m-1 0h2m0 0h2m-1 0h2m-1 0h2m0 0h2m-1 0h2m-1 0h2m-1 0h2m0 0h2m2 0h2m-1 0h2m-1 0h2m-1 0h2m9 0h2m4 0h2m6 0h2m-247 1h2m-1 0h2m9 0h2m7 0h2m35 0h2m-1 0h2m5 0h2m6 0h2m0 0h2m1 0h2m7 0h2m5 0h2m-1 0h2m2 0h2m0 0h2m6 0h2m5 0h2m4 0h2m0 0h2m-1 0h2m2 0h2m1 0h2m-1 0h2m-1 0h2m0 0h2m1 0h2m1 0h2m-1 0h2m0 0h2m1 0h2m0 0h2m-1 0h2m-1 0h2m0 0h2m-1 0h2m-1 0h2m-1 0h2m-1 0h2m-1 0h2m1 0h2m-1 0h2m-1 0h2m-1 0h2m0 0h2m-1 0h2m-1 0h2m-1 0h2m-1 0h2m0 0h2m11 0h2m-1 0h2m-1 0h2m-1 0h2m1 0h2m-1 0h2m1 0h2m-1 0h2m-1 0h2m1 0h2m1 0h2m2 0h2m-1 0h2m1 0h2m1 0h2m4 0h2m0 0h2m35 0h2m-288 1h2m95 0h2m13 0h2m1 0h2m3 0h2m0 0h2m2 0h2m-1 0h2m4 0h2m-1 0h2m1 0h2m3 0h2m4 0h2m0 0h2m-1 0h2m-1 0h2m0 0h2m0 0h2m4 0h2m4 0h2m-1 0h2m-1 0h2m-1 0h2m-1 0h2m-1 0h2m-1 0h2m-1 0h2m-1 0h2m-1 0h2m-1 0h2m-1 0h2m-1 0h2m-1 0h2m1 0h2m-1 0h2m2 0h2m-1 0h2m-1 0h2m-1 0h2m-1 0h2m-1 0h2m-1 0h2m-1 0h2m-1 0h2m-1 0h2m-1 0h2m-1 0h2m-1 0h2m-1 0h2m-1 0h2m0 0h2m0 0h2m0 0h2m-1 0h2m-1 0h2m-1 0h2m-1 0h2m-1 0h2m-1 0h2m1 0h2m0 0h2m-1 0h2m1 0h2m-1 0h2m-1 0h2m-1 0h2m6 0h2m-1 0h2m0 0h2m4 0h2m0 0h2m0 0h2m1 0h2m0 0h2m4 0h2m6 0h2m1 0h2m-287 1h2m39 0h2m35 0h2m38 0h2m11 0h2m-1 0h2m1 0h2m1 0h2m0 0h2m0 0h2m4 0h2m5 0h2m10 0h2m1 0h2m2 0h2m2 0h2m-1 0h2m-1 0h2m2 0h2m-1 0h2m-1 0h2m-1 0h2m-1 0h2m-1 0h2m1 0h2m0 0h2m2 0h2m0 0h2m-1 0h2m-1 0h2m0 0h2m0 0h2m-1 0h2m-1 0h2m0 0h2m-1 0h2m0 0h2m-1 0h2m-1 0h2m0 0h2m-1 0h2m-1 0h2m-1 0h2m1 0h2m-1 0h2m0 0h2m0 0h2m-1 0h2m1 0h2m0 0h2m-1 0h2m-1 0h2m-1 0h2m-1 0h2m-1 0h2m-1 0h2m4 0h2m1 0h2m7 0h2m3 0h2m3 0h2m4 0h2m-260 1h2m1 0h2m13 0h2m57 0h2m9 0h2m7 0h2m-1 0h2m3 0h2m9 0h2m0 0h2m13 0h2m-1 0h2m2 0h2m1 0h2m9 0h2m-1 0h2m0 0h2m0 0h2m0 0h2m2 0h2m-1 0h2m0 0h2m-1 0h2m1 0h2m0 0h2m0 0h2m-1 0h2m1 0h2m-1 0h2m1 0h2m0 0h2m0 0h2m-1 0h2m-1 0h2m-1 0h2m-1 0h2m1 0h2m0 0h2m-1 0h2m0 0h2m-1 0h2m-1 0h2m-1 0h2m-1 0h2m-1 0h2m-1 0h2m-1 0h2m-1 0h2m-1 0h2m0 0h2m2 0h2m-1 0h2m0 0h2m-1 0h2m-1 0h2m2 0h2m0 0h2m4 0h2m1 0h2m-1 0h2m2 0h2m0 0h2m0 0h2m-1 0h2m5 0h2m9 0h2m-211 1h2m0 0h2m3 0h2m25 0h2m11 0h2m-1 0h2m21 0h2m2 0h2m2 0h2m1 0h2m2 0h2m2 0h2m0 0h2m-1 0h2m0 0h2m8 0h2m1 0h2m-1 0h2m0 0h2m-1 0h2m-1 0h2m-1 0h2m0 0h2m-1 0h2m4 0h2m1 0h2m-1 0h2m-1 0h2m-1 0h2m0 0h2m-1 0h2m0 0h2m0 0h2m0 0h2m1 0h2m-1 0h2m-1 0h2m-1 0h2m0 0h2m1 0h2m0 0h2m0 0h2m-1 0h2m-1 0h2m-1 0h2m-1 0h2m-1 0h2m-1 0h2m-1 0h2m-1 0h2m2 0h2m-1 0h2m-1 0h2m0 0h2m-1 0h2m-1 0h2m-1 0h2m0 0h2m1 0h2m-1 0h2m0 0h2m7 0h2m4 0h2m17 0h2m22 0h2m-282 1h2m14 0h2m30 0h2m44 0h2m14 0h2m5 0h2m4 0h2m0 0h2m11 0h2m0 0h2m-1 0h2m0 0h2m3 0h2m2 0h2m-1 0h2m1 0h2m5 0h2m0 0h2m0 0h2m-1 0h2m-1 0h2m0 0h2m-1 0h2m-1 0h2m-1 0h2m2 0h2m-1 0h2m-1 0h2m-1 0h2m-1 0h2m-1 0h2m0 0h2m0 0h2m0 0h2m0 0h2m-1 0h2m-1 0h2m1 0h2m-1 0h2m3 0h2m1 0h2m-1 0h2m-1 0h2m-1 0h2m0 0h2m2 0h2m0 0h2m2 0h2m-1 0h2m2 0h2m4 0h2m0 0h2m5 0h2m17 0h2m4 0h2m-285 1h2m20 0h2m15 0h2m11 0h2m23 0h2m1 0h2m2 0h2m-1 0h2m14 0h2m8 0h2m2 0h2m-1 0h2m1 0h2m14 0h2m-1 0h2m8 0h2m-1 0h2m0 0h2m-1 0h2m1 0h2m2 0h2m-1 0h2m7 0h2m1 0h2m0 0h2m-1 0h2m0 0h2m-1 0h2m1 0h2m-1 0h2m0 0h2m0 0h2m-1 0h2m0 0h2m3 0h2m1 0h2m-1 0h2m-1 0h2m-1 0h2m0 0h2m-1 0h2m1 0h2m-1 0h2m0 0h2m-1 0h2m-1 0h2m-1 0h2m-1 0h2m-1 0h2m-1 0h2m4 0h2m-1 0h2m-1 0h2m-1 0h2m-1 0h2m0 0h2m2 0h2m6 0h2m11 0h2m1 0h2m11 0h2m11 0h2m-212 1h2m38 0h2m18 0h2m10 0h2m8 0h2m4 0h2m0 0h2m-1 0h2m-1 0h2m1 0h2m-1 0h2m-1 0h2m-1 0h2m-1 0h2m0 0h2m1 0h2m-1 0h2m0 0h2m-1 0h2m0 0h2m4 0h2m1 0h2m0 0h2m-1 0h2m2 0h2m0 0h2m-1 0h2m-1 0h2m2 0h2m-1 0h2m2 0h2m-1 0h2m1 0h2m1 0h2m3 0h2m0 0h2m-1 0h2m-1 0h2m1 0h2m4 0h2m2 0h2m0 0h2m2 0h2m12 0h2m8 0h2m9 0h2m-1 0h2m-178 1h2m28 0h2m0 0h2m3 0h2m1 0h2m5 0h2m0 0h2m2 0h2m-1 0h2m-1 0h2m1 0h2m2 0h2m-1 0h2m-1 0h2m-1 0h2m0 0h2m-1 0h2m1 0h2m1 0h2m-1 0h2m0 0h2m3 0h2m1 0h2m2 0h2m-1 0h2m-1 0h2m-1 0h2m1 0h2m-1 0h2m0 0h2m1 0h2m2 0h2m-1 0h2m-1 0h2m2 0h2m-1 0h2m-1 0h2m4 0h2m0 0h2m2 0h2m1 0h2m2 0h2m2 0h2m-1 0h2m0 0h2m6 0h2m0 0h2m11 0h2m5 0h2m45 0h2m-256 1h2m9 0h2m6 0h2m9 0h2m28 0h2m-1 0h2m12 0h2m-1 0h2m3 0h2m0 0h2m4 0h2m6 0h2m7 0h2m6 0h2m-1 0h2m9 0h2m-1 0h2m1 0h2m0 0h2m0 0h2m0 0h2m0 0h2m4 0h2m2 0h2m0 0h2m0 0h2m-1 0h2m-1 0h2m1 0h2m2 0h2m10 0h2m-1 0h2m0 0h2m3 0h2m0 0h2m0 0h2m7 0h2m-246 1h2m8 0h2m20 0h2m37 0h2m16 0h2m1 0h2m7 0h2m4 0h2m5 0h2m2 0h2m-1 0h2m0 0h2m2 0h2m3 0h2m2 0h2m-1 0h2m-1 0h2m4 0h2m2 0h2m-1 0h2m0 0h2m-1 0h2m-1 0h2m-1 0h2m0 0h2m6 0h2m8 0h2m-1 0h2m-1 0h2m-1 0h2m4 0h2m7 0h2m0 0h2m3 0h2m-1 0h2m-1 0h2m-1 0h2m3 0h2m0 0h2m0 0h2m0 0h2m2 0h2m-1 0h2m0 0h2m1 0h2m-1 0h2m1 0h2m1 0h2m28 0h2m5 0h2m30 0h2m-289 1h2m4 0h2m56 0h2m8 0h2m3 0h2m4 0h2m6 0h2m3 0h2m2 0h2m-1 0h2m9 0h2m0 0h2m2 0h2m0 0h2m-1 0h2m-1 0h2m1 0h2m0 0h2m13 0h2m-1 0h2m0 0h2m-1 0h2m-1 0h2m-1 0h2m1 0h2m1 0h2m2 0h2m-1 0h2m-1 0h2m-1 0h2m-1 0h2m-1 0h2m2 0h2m7 0h2m0 0h2m-1 0h2m4 0h2m0 0h2m0 0h2m-1 0h2m-1 0h2m1 0h2m3 0h2m4 0h2m3 0h2m0 0h2m8 0h2m-236 1h2m14 0h2m69 0h2m20 0h2m8 0h2m3 0h2m-1 0h2m3 0h2m1 0h2m7 0h2m0 0h2m0 0h2m-1 0h2m1 0h2m0 0h2m-1 0h2m14 0h2m1 0h2m-1 0h2m1 0h2m0 0h2m-1 0h2m-1 0h2m1 0h2m0 0h2m1 0h2m-1 0h2m0 0h2m1 0h2m1 0h2m-1 0h2m-1 0h2m10 0h2m5 0h2m-1 0h2m0 0h2m6 0h2m0 0h2m-1 0h2m-185 1h2m2 0h2m6 0h2m29 0h2m13 0h2m18 0h2m1 0h2m-1 0h2m1 0h2m8 0h2m-1 0h2m1 0h2m-1 0h2m0 0h2m0 0h2m3 0h2m1 0h2m1 0h2m-1 0h2m0 0h2m-1 0h2m-1 0h2m0 0h2m1 0h2m5 0h2m4 0h2m-1 0h2m1 0h2m-1 0h2m0 0h2m9 0h2m1 0h2m-1 0h2m5 0h2m2 0h2m-1 0h2m0 0h2m-1 0h2m4 0h2m-248 1h2m13 0h2m50 0h2m32 0h2m22 0h2m1 0h2m2 0h2m0 0h2m11 0h2m8 0h2m2 0h2m3 0h2m0 0h2m3 0h2m-1 0h2m0 0h2m1 0h2m-1 0h2m-1 0h2m2 0h2m-1 0h2m4 0h2m2 0h2m-1 0h2m1 0h2m-1 0h2m-1 0h2m1 0h2m0 0h2m-1 0h2m2 0h2m4 0h2m3 0h2m-1 0h2m-1 0h2m0 0h2m0 0h2m10 0h2m12 0h2m11 0h2m-201 1h2m16 0h2m18 0h2m9 0h2m-1 0h2m8 0h2m8 0h2m4 0h2m-1 0h2m7 0h2m1 0h2m0 0h2m2 0h2m-1 0h2m4 0h2m1 0h2m1 0h2m-1 0h2m-1 0h2m0 0h2m2 0h2m1 0h2m3 0h2m0 0h2m-1 0h2m2 0h2m-1 0h2m0 0h2m1 0h2m2 0h2m0 0h2m1 0h2m1 0h2m0 0h2m1 0h2m-1 0h2m4 0h2m3 0h2m15 0h2m0 0h2m-175 1h2m30 0h2m26 0h2m-1 0h2m13 0h2m6 0h2m1 0h2m1 0h2m3 0h2m3 0h2m2 0h2m0 0h2m-1 0h2m2 0h2m-1 0h2m-1 0h2m3 0h2m2 0h2m-1 0h2m-1 0h2m3 0h2m1 0h2m-1 0h2m5 0h2m0 0h2m1 0h2m0 0h2m29 0h2m15 0h2m-271 1h2m32 0h2m12 0h2m9 0h2m29 0h2m-1 0h2m5 0h2m4 0h2m14 0h2m19 0h2m5 0h2m2 0h2m0 0h2m3 0h2m1 0h2m0 0h2m5 0h2m1 0h2m0 0h2m2 0h2m1 0h2m0 0h2m3 0h2m6 0h2m-1 0h2m1 0h2m-1 0h2m-1 0h2m-1 0h2m3 0h2m0 0h2m0 0h2m10 0h2m25 0h2m10 0h2m8 0h2m10 0h2m-213 1h2m32 0h2m21 0h2m-1 0h2m0 0h2m0 0h2m2 0h2m4 0h2m8 0h2m2 0h2m4 0h2m1 0h2m4 0h2m1 0h2m2 0h2m1 0h2m5 0h2m0 0h2m1 0h2m5 0h2m1 0h2m10 0h2m4 0h2m-226 1h2m44 0h2m9 0h2m5 0h2m10 0h2m4 0h2m8 0h2m26 0h2m2 0h2m0 0h2m-1 0h2m1 0h2m2 0h2m4 0h2m-1 0h2m1 0h2m2 0h2m-1 0h2m-1 0h2m-1 0h2m4 0h2m5 0h2m7 0h2m0 0h2m-1 0h2m2 0h2m2 0h2m-1 0h2m-1 0h2m0 0h2m3 0h2m8 0h2m9 0h2m1 0h2m3 0h2m24 0h2m0 0h2m6 0h2m0 0h2m9 0h2m-269 1h2m26 0h2m2 0h2m30 0h2m28 0h2m13 0h2m3 0h2m21 0h2m1 0h2m4 0h2m-1 0h2m3 0h2m5 0h2m1 0h2m3 0h2m-1 0h2m1 0h2m2 0h2m1 0h2m1 0h2m-1 0h2m-1 0h2m7 0h2m2 0h2m4 0h2m19 0h2m13 0h2m2 0h2m-249 1h2m0 0h2m16 0h2m62 0h2m14 0h2m0 0h2m11 0h2m22 0h2m6 0h2m12 0h2m5 0h2m-1 0h2m2 0h2m2 0h2m2 0h2m0 0h2m-1 0h2m-1 0h2m3 0h2m1 0h2m2 0h2m5 0h2m0 0h2m2 0h2m18 0h2m-1 0h2m-209 1h2m15 0h2m34 0h2m43 0h2m0 0h2m0 0h2m16 0h2m8 0h2m3 0h2m-1 0h2m-1 0h2m6 0h2m-1 0h2m0 0h2m5 0h2m-1 0h2m12 0h2m0 0h2m1 0h2m0 0h2m5 0h2m0 0h2m18 0h2m81 0h2m-307 1h2m-1 0h2m0 0h2m11 0h2m34 0h2m63 0h2m1 0h2m-1 0h2m9 0h2m0 0h2m3 0h2m4 0h2m29 0h2m0 0h2m-1 0h2m23 0h2m4 0h2m27 0h2m-243 1h2m8 0h2m86 0h2m2 0h2m3 0h2m40 0h2m1 0h2m5 0h2m3 0h2m0 0h2m1 0h2m0 0h2m0 0h2m8 0h2m6 0h2m15 0h2m7 0h2m11 0h2m-239 1h2m36 0h2m-1 0h2m21 0h2m47 0h2m5 0h2m-1 0h2m11 0h2m1 0h2m3 0h2m4 0h2m1 0h2m12 0h2m7 0h2m3 0h2m7 0h2m7 0h2m7 0h2m0 0h2m3 0h2m64 0h2m-219 1h2m1 0h2m53 0h2m14 0h2m6 0h2m-1 0h2m0 0h2m17 0h2m-1 0h2m-1 0h2m1 0h2m18 0h2m0 0h2m5 0h2m11 0h2m8 0h2m2 0h2m11 0h2m-200 1h2m33 0h2m1 0h2m50 0h2m1 0h2m7 0h2m0 0h2m10 0h2m21 0h2m9 0h2m-1 0h2m0 0h2m3 0h2m1 0h2m12 0h2m7 0h2m8 0h2m-200 1h2m44 0h2m55 0h2m0 0h2m20 0h2m5 0h2m6 0h2m9 0h2m-1 0h2m-1 0h2m5 0h2m0 0h2m2 0h2m12 0h2m-162 1h2m14 0h2m31 0h2m11 0h2m30 0h2m8 0h2m12 0h2m8 0h2m18 0h2m2 0h2m7 0h2m-199 1h2m58 0h2m7 0h2m3 0h2m12 0h2m37 0h2m18 0h2m10 0h2m10 0h2m12 0h2m3 0h2m11 0h2m-175 1h2m67 0h2m6 0h2m3 0h2m28 0h2m29 0h2m4 0h2m-216 1h2m80 0h2m3 0h2m7 0h2m13 0h2m51 0h2m27 0h2m13 0h2m0 0h2m1 0h2m-166 1h2m61 0h2m7 0h2m3 0h2m52 0h2m8 0h2m13 0h2m7 0h2m-176 1h2m11 0h2m33 0h2m24 0h2m11 0h2m2 0h2m-1 0h2m4 0h2m13 0h2m4 0h2m12 0h2m1 0h2m-175 1h2m110 0h2m59 0h2m3 0h2m2 0h2m5 0h2m-1 0h2m-141 1h2m17 0h2m2 0h2m78 0h2m26 0h2m3 0h2m0 0h2m14 0h2m-164 1h2m54 0h2m42 0h2m46 0h2m-168 1h2m12 0h2m38 0h2m28 0h2m6 0h2m16 0h2m52 0h2m57 0h2m-218 1h2m-1 0h2m119 0h2m54 0h2m-18 1h2m16 0h2m36 0h2m-80 1h2m-123 1h2m202 0h2" stroke="#000" stroke-width="2.5" fill="none"/>
<path d="M684 1687h2M678 1688h2M585 1764h2M601 1753h2M603 1734h2M626 1708h2M527 1748h2M521 1750h2M557 1726h2M601 1706h2M527 1753h2M557 1725h2" stroke="#fff" stroke-width="1.8" fill="none" opacity="0.45"/>
</g>
<rect x="787.3" y="1560.5" width="409.7" height="368.5" fill="#fff" stroke="#707070" stroke-width="2.6"/>
<line x1="901" y1="1560.5" x2="901" y2="1929" stroke="#707070" stroke-width="2.4"/>
<line x1="1184" y1="1560.5" x2="1184" y2="1929" stroke="#707070" stroke-width="2.2"/>
<path d="M786.3 1885h-15M786.3 1811.9h-15M786.3 1738.8h-15M786.3 1665.7h-15M786.3 1592.6h-15M786.3 1923.2h-8.5M786.3 1914.1h-8.5M786.3 1907h-8.5M786.3 1901.2h-8.5M786.3 1896.3h-8.5M786.3 1892.1h-8.5M786.3 1888.3h-8.5M786.3 1863h-8.5M786.3 1850.1h-8.5M786.3 1841h-8.5M786.3 1833.9h-8.5M786.3 1828.1h-8.5M786.3 1823.2h-8.5M786.3 1819h-8.5M786.3 1815.2h-8.5M786.3 1789.9h-8.5M786.3 1777h-8.5M786.3 1767.9h-8.5M786.3 1760.8h-8.5M786.3 1755h-8.5M786.3 1750.1h-8.5M786.3 1745.9h-8.5M786.3 1742.1h-8.5M786.3 1716.8h-8.5M786.3 1703.9h-8.5M786.3 1694.8h-8.5M786.3 1687.7h-8.5M786.3 1681.9h-8.5M786.3 1677h-8.5M786.3 1672.8h-8.5M786.3 1669h-8.5M786.3 1643.7h-8.5M786.3 1630.8h-8.5M786.3 1621.7h-8.5M786.3 1614.6h-8.5M786.3 1608.8h-8.5M786.3 1603.9h-8.5M786.3 1599.7h-8.5M786.3 1595.9h-8.5M786.3 1570.6h-8.5M787.3 1930v18M822 1930v17M826 1930v10M830.2 1930v10M834.4 1930v10M838.5 1930v10M842.7 1930v10M846.9 1930v10M851.1 1930v10M855.3 1930v10M859.5 1930v10M863.6 1930v10M867.8 1930v10M872 1930v10M877 1930v15M883 1930v15M889 1930v15M895 1930v15M901 1930v10M906.9 1930v10M912.9 1930v10M918.8 1930v10M924.7 1930v10M930.6 1930v10M936.6 1930v10M942.5 1930v10M946.5 1930v17M980.4 1930v10M1000.2 1930v10M1014.2 1930v10M1025.1 1930v10M1034 1930v10M1041.6 1930v10M1048.1 1930v10M1053.9 1930v10M1059 1930v17M1088.2 1930v10M1105.3 1930v10M1117.4 1930v10M1126.8 1930v10M1134.5 1930v10M1141 1930v10M1146.6 1930v10M1151.6 1930v10M1156 1930v17M1184 1930v12" stroke="#666" stroke-width="2" fill="none"/>
<text x="769.8" y="1601.1" font-size="14.5" text-anchor="start" fill="#686868" transform="rotate(-90 769.8 1601.1)" font-weight="bold">10<tspan font-size="10.5" dy="-6.5">5</tspan></text>
<text x="769.8" y="1674.5" font-size="14.5" text-anchor="start" fill="#686868" transform="rotate(-90 769.8 1674.5)" font-weight="bold">10<tspan font-size="10.5" dy="-6.5">4</tspan></text>
<text x="769.8" y="1748.2" font-size="14.5" text-anchor="start" fill="#686868" transform="rotate(-90 769.8 1748.2)" font-weight="bold">10<tspan font-size="10.5" dy="-6.5">3</tspan></text>
<text x="769.8" y="1821" font-size="14.5" text-anchor="start" fill="#686868" transform="rotate(-90 769.8 1821)" font-weight="bold">10<tspan font-size="10.5" dy="-6.5">2</tspan></text>
<text x="769.8" y="1893.5" font-size="14.5" text-anchor="start" fill="#686868" transform="rotate(-90 769.8 1893.5)" font-weight="bold">10<tspan font-size="10.5" dy="-6.5">1</tspan></text>
<text x="786" y="1974" font-size="14.5" text-anchor="middle" fill="#686868" font-weight="bold">-2,029</text>
<text x="883" y="1964" font-size="14.5" text-anchor="middle" fill="#686868" font-weight="bold">0</text>
<text x="947" y="1964" font-size="14.5" text-anchor="middle" fill="#686868" font-weight="bold">10<tspan font-size="10.5" dy="-6.5">3</tspan></text>
<text x="1060" y="1964" font-size="14.5" text-anchor="middle" fill="#686868" font-weight="bold">10<tspan font-size="10.5" dy="-6.5">4</tspan></text>
<text x="1157" y="1964" font-size="14.5" text-anchor="middle" fill="#686868" font-weight="bold">10<tspan font-size="10.5" dy="-6.5">5</tspan></text>
<text x="995" y="1548" font-size="49" text-anchor="middle" fill="#111">DOX</text>
<text x="1093" y="1612.5" font-size="49" text-anchor="middle" fill="#111">97.8%</text>
<g filter="url(#bl)">
<path d="M1016.9 1753.1 L1028 1735.4 L1043.6 1719.8 L1065.8 1708.7 L1083.6 1702 L1099.2 1693.1 L1114.7 1695.4 L1121.4 1708.7 L1116.9 1724.2 L1110.3 1742 L1096.9 1757.6 L1079.2 1770.9 L1056.9 1779.8 L1034.7 1779.8 L1019.2 1768.7 Z" fill="#000" stroke="#000" stroke-width="2" stroke-linejoin="round"/>
<path d="M1127 1654h2m-78 1h2m46 0h2m61 0h2m-233 1h2m168 0h2m49 0h2m-63 2h2m8 1h2m27 0h2m1 0h2m-111 1h2m117 0h2m2 0h2m-289 1h2m23 0h2m244 0h2m3 0h2m-253 1h2m21 0h2m70 0h2m108 0h2m14 0h2m-1 0h2m5 0h2m12 0h2m2 0h2m10 0h2m-216 1h2m126 0h2m60 0h2m13 0h2m36 0h2m-284 1h2m12 0h2m14 0h2m4 0h2m24 0h2m46 0h2m63 0h2m6 0h2m17 0h2m19 0h2m7 0h2m4 0h2m21 0h2m-242 1h2m165 0h2m37 0h2m14 0h2m7 0h2m-302 1h2m2 0h2m19 0h2m175 0h2m38 0h2m1 0h2m22 0h2m7 0h2m2 0h2m-1 0h2m0 0h2m13 0h2m3 0h2m13 0h2m-297 1h2m16 0h2m61 0h2m110 0h2m13 0h2m14 0h2m6 0h2m0 0h2m12 0h2m15 0h2m4 0h2m13 0h2m-322 1h2m224 0h2m14 0h2m7 0h2m17 0h2m4 0h2m0 0h2m1 0h2m0 0h2m6 0h2m-1 0h2m-1 0h2m9 0h2m20 0h2m-313 1h2m1 0h2m15 0h2m20 0h2m17 0h2m49 0h2m96 0h2m11 0h2m30 0h2m8 0h2m15 0h2m31 0h2m-297 1h2m83 0h2m62 0h2m3 0h2m29 0h2m12 0h2m23 0h2m1 0h2m20 0h2m3 0h2m7 0h2m1 0h2m-1 0h2m4 0h2m1 0h2m17 0h2m-345 1h2m54 0h2m4 0h2m16 0h2m22 0h2m138 0h2m13 0h2m18 0h2m7 0h2m6 0h2m3 0h2m6 0h2m6 0h2m-1 0h2m8 0h2m-304 1h2m99 0h2m99 0h2m2 0h2m37 0h2m16 0h2m8 0h2m1 0h2m7 0h2m1 0h2m0 0h2m1 0h2m0 0h2m23 0h2m-313 1h2m38 0h2m37 0h2m10 0h2m7 0h2m2 0h2m3 0h2m77 0h2m38 0h2m20 0h2m4 0h2m-1 0h2m13 0h2m2 0h2m0 0h2m24 0h2m3 0h2m-218 1h2m110 0h2m12 0h2m4 0h2m4 0h2m7 0h2m-1 0h2m0 0h2m6 0h2m6 0h2m19 0h2m18 0h2m15 0h2m-293 1h2m28 0h2m120 0h2m26 0h2m13 0h2m8 0h2m17 0h2m3 0h2m1 0h2m5 0h2m2 0h2m1 0h2m6 0h2m-1 0h2m10 0h2m3 0h2m5 0h2m0 0h2m12 0h2m-238 1h2m16 0h2m3 0h2m44 0h2m22 0h2m10 0h2m24 0h2m7 0h2m1 0h2m1 0h2m-1 0h2m1 0h2m1 0h2m-1 0h2m10 0h2m6 0h2m0 0h2m15 0h2m1 0h2m1 0h2m-1 0h2m3 0h2m4 0h2m15 0h2m-1 0h2m6 0h2m-257 1h2m45 0h2m92 0h2m6 0h2m0 0h2m4 0h2m-1 0h2m23 0h2m0 0h2m0 0h2m1 0h2m0 0h2m2 0h2m5 0h2m3 0h2m0 0h2m-1 0h2m8 0h2m30 0h2m-1 0h2m-362 1h2m12 0h2m1 0h2m45 0h2m1 0h2m28 0h2m8 0h2m6 0h2m19 0h2m77 0h2m-1 0h2m10 0h2m5 0h2m12 0h2m5 0h2m4 0h2m3 0h2m-1 0h2m13 0h2m3 0h2m15 0h2m8 0h2m7 0h2m3 0h2m-296 1h2m12 0h2m-1 0h2m25 0h2m36 0h2m152 0h2m0 0h2m-1 0h2m13 0h2m1 0h2m4 0h2m0 0h2m3 0h2m-1 0h2m29 0h2m13 0h2m11 0h2m-240 1h2m6 0h2m70 0h2m29 0h2m5 0h2m13 0h2m0 0h2m2 0h2m3 0h2m5 0h2m7 0h2m6 0h2m3 0h2m2 0h2m1 0h2m2 0h2m6 0h2m1 0h2m0 0h2m14 0h2m5 0h2m-332 1h2m16 0h2m30 0h2m161 0h2m2 0h2m15 0h2m1 0h2m1 0h2m6 0h2m1 0h2m12 0h2m5 0h2m2 0h2m2 0h2m1 0h2m1 0h2m0 0h2m-1 0h2m8 0h2m7 0h2m11 0h2m1 0h2m-254 1h2m37 0h2m61 0h2m28 0h2m-1 0h2m7 0h2m2 0h2m3 0h2m2 0h2m0 0h2m10 0h2m1 0h2m2 0h2m-1 0h2m-1 0h2m1 0h2m2 0h2m-1 0h2m-1 0h2m-1 0h2m1 0h2m-1 0h2m-1 0h2m-1 0h2m3 0h2m5 0h2m-1 0h2m5 0h2m0 0h2m11 0h2m2 0h2m2 0h2m-1 0h2m-308 1h2m34 0h2m10 0h2m9 0h2m25 0h2m13 0h2m10 0h2m8 0h2m104 0h2m3 0h2m9 0h2m-1 0h2m2 0h2m-1 0h2m4 0h2m4 0h2m-1 0h2m1 0h2m0 0h2m0 0h2m1 0h2m1 0h2m12 0h2m-1 0h2m-1 0h2m14 0h2m0 0h2m28 0h2m-337 1h2m62 0h2m131 0h2m5 0h2m7 0h2m11 0h2m0 0h2m10 0h2m1 0h2m0 0h2m-1 0h2m0 0h2m0 0h2m0 0h2m0 0h2m3 0h2m2 0h2m0 0h2m-1 0h2m1 0h2m3 0h2m0 0h2m0 0h2m-1 0h2m10 0h2m-1 0h2m9 0h2m-1 0h2m8 0h2m-1 0h2m-315 1h2m38 0h2m1 0h2m102 0h2m70 0h2m11 0h2m3 0h2m-1 0h2m-1 0h2m3 0h2m0 0h2m2 0h2m0 0h2m3 0h2m0 0h2m1 0h2m2 0h2m4 0h2m4 0h2m1 0h2m1 0h2m4 0h2m-1 0h2m-291 1h2m6 0h2m2 0h2m38 0h2m27 0h2m12 0h2m2 0h2m79 0h2m0 0h2m6 0h2m7 0h2m7 0h2m9 0h2m3 0h2m0 0h2m-1 0h2m0 0h2m-1 0h2m-1 0h2m-1 0h2m1 0h2m-1 0h2m-1 0h2m-1 0h2m-1 0h2m-1 0h2m-1 0h2m2 0h2m-1 0h2m-1 0h2m-1 0h2m-1 0h2m2 0h2m-1 0h2m1 0h2m0 0h2m-1 0h2m0 0h2m-1 0h2m0 0h2m0 0h2m4 0h2m1 0h2m6 0h2m0 0h2m-1 0h2m4 0h2m2 0h2m16 0h2m-148 1h2m38 0h2m1 0h2m14 0h2m0 0h2m-1 0h2m2 0h2m0 0h2m-1 0h2m0 0h2m0 0h2m0 0h2m4 0h2m-1 0h2m-1 0h2m1 0h2m-1 0h2m2 0h2m0 0h2m1 0h2m0 0h2m0 0h2m-1 0h2m-1 0h2m-1 0h2m1 0h2m-1 0h2m-1 0h2m-1 0h2m0 0h2m-1 0h2m7 0h2m19 0h2m-257 1h2m42 0h2m69 0h2m5 0h2m-1 0h2m9 0h2m4 0h2m21 0h2m3 0h2m0 0h2m4 0h2m-1 0h2m5 0h2m0 0h2m1 0h2m4 0h2m-1 0h2m-1 0h2m-1 0h2m-1 0h2m0 0h2m0 0h2m-1 0h2m0 0h2m-1 0h2m-1 0h2m-1 0h2m-1 0h2m-1 0h2m0 0h2m0 0h2m0 0h2m-1 0h2m5 0h2m0 0h2m11 0h2m-1 0h2m3 0h2m31 0h2m-342 1h2m2 0h2m109 0h2m50 0h2m18 0h2m12 0h2m1 0h2m4 0h2m4 0h2m11 0h2m0 0h2m2 0h2m0 0h2m0 0h2m-1 0h2m0 0h2m0 0h2m1 0h2m-1 0h2m-1 0h2m3 0h2m-1 0h2m-1 0h2m-1 0h2m-1 0h2m0 0h2m-1 0h2m0 0h2m-1 0h2m0 0h2m-1 0h2m-1 0h2m-1 0h2m-1 0h2m1 0h2m0 0h2m0 0h2m0 0h2m-1 0h2m-1 0h2m3 0h2m0 0h2m7 0h2m1 0h2m0 0h2m10 0h2m-324 1h2m184 0h2m4 0h2m2 0h2m2 0h2m14 0h2m-1 0h2m0 0h2m0 0h2m1 0h2m0 0h2m6 0h2m1 0h2m-1 0h2m2 0h2m3 0h2m-1 0h2m-1 0h2m-1 0h2m1 0h2m0 0h2m-1 0h2m1 0h2m2 0h2m-1 0h2m0 0h2m-1 0h2m-1 0h2m-1 0h2m0 0h2m2 0h2m-1 0h2m-1 0h2m0 0h2m-1 0h2m-1 0h2m-1 0h2m0 0h2m-1 0h2m1 0h2m0 0h2m2 0h2m1 0h2m0 0h2m1 0h2m20 0h2m-337 1h2m118 0h2m0 0h2m94 0h2m4 0h2m2 0h2m6 0h2m0 0h2m3 0h2m-1 0h2m7 0h2m-1 0h2m2 0h2m-1 0h2m-1 0h2m-1 0h2m-1 0h2m3 0h2m-1 0h2m-1 0h2m0 0h2m0 0h2m-1 0h2m1 0h2m-1 0h2m-1 0h2m0 0h2m-1 0h2m-1 0h2m-1 0h2m-1 0h2m-1 0h2m-1 0h2m-1 0h2m-1 0h2m-1 0h2m0 0h2m-1 0h2m0 0h2m3 0h2m4 0h2m6 0h2m0 0h2m-1 0h2m-138 1h2m0 0h2m18 0h2m12 0h2m-1 0h2m13 0h2m1 0h2m2 0h2m1 0h2m-1 0h2m-1 0h2m1 0h2m7 0h2m5 0h2m-1 0h2m-1 0h2m0 0h2m0 0h2m-1 0h2m-1 0h2m-1 0h2m-1 0h2m-1 0h2m-1 0h2m-1 0h2m-1 0h2m-1 0h2m-1 0h2m-1 0h2m-1 0h2m0 0h2m-1 0h2m-1 0h2m-1 0h2m-1 0h2m-1 0h2m-1 0h2m-1 0h2m-1 0h2m-1 0h2m-1 0h2m0 0h2m0 0h2m-1 0h2m-1 0h2m1 0h2m1 0h2m4 0h2m1 0h2m-1 0h2m-1 0h2m3 0h2m17 0h2m-316 1h2m24 0h2m139 0h2m7 0h2m12 0h2m3 0h2m-1 0h2m0 0h2m2 0h2m1 0h2m0 0h2m-1 0h2m-1 0h2m-1 0h2m3 0h2m-1 0h2m3 0h2m2 0h2m2 0h2m-1 0h2m-1 0h2m0 0h2m1 0h2m-1 0h2m2 0h2m0 0h2m1 0h2m-1 0h2m-1 0h2m-1 0h2m0 0h2m-1 0h2m-1 0h2m-1 0h2m-1 0h2m-1 0h2m-1 0h2m-1 0h2m-1 0h2m-1 0h2m-1 0h2m-1 0h2m0 0h2m-1 0h2m-1 0h2m-1 0h2m-1 0h2m-1 0h2m-1 0h2m-1 0h2m-1 0h2m0 0h2m0 0h2m1 0h2m7 0h2m-1 0h2m17 0h2m-290 1h2m149 0h2m15 0h2m3 0h2m-1 0h2m15 0h2m1 0h2m-1 0h2m1 0h2m-1 0h2m-1 0h2m1 0h2m-1 0h2m-1 0h2m-1 0h2m-1 0h2m-1 0h2m-1 0h2m-1 0h2m-1 0h2m0 0h2m1 0h2m-1 0h2m0 0h2m-1 0h2m-1 0h2m-1 0h2m-1 0h2m-1 0h2m-1 0h2m-1 0h2m-1 0h2m-1 0h2m6 0h2m-1 0h2m-1 0h2m-1 0h2m-1 0h2m-1 0h2m-1 0h2m-1 0h2m0 0h2m-1 0h2m-1 0h2m-1 0h2m-1 0h2m0 0h2m0 0h2m-1 0h2m0 0h2m1 0h2m-1 0h2m3 0h2m0 0h2m-1 0h2m-1 0h2m2 0h2m-262 1h2m39 0h2m31 0h2m69 0h2m12 0h2m0 0h2m9 0h2m-1 0h2m3 0h2m0 0h2m2 0h2m-1 0h2m-1 0h2m0 0h2m-1 0h2m-1 0h2m1 0h2m2 0h2m2 0h2m-1 0h2m2 0h2m-1 0h2m-1 0h2m-1 0h2m-1 0h2m-1 0h2m-1 0h2m-1 0h2m-1 0h2m13 0h2m-1 0h2m-1 0h2m-1 0h2m1 0h2m0 0h2m3 0h2m2 0h2m9 0h2m15 0h2m5 0h2m-1 0h2m-310 1h2m40 0h2m7 0h2m5 0h2m14 0h2m23 0h2m56 0h2m14 0h2m18 0h2m3 0h2m0 0h2m1 0h2m0 0h2m0 0h2m-1 0h2m3 0h2m0 0h2m-1 0h2m0 0h2m-1 0h2m-1 0h2m-1 0h2m-1 0h2m0 0h2m-1 0h2m-1 0h2m0 0h2m-1 0h2m-1 0h2m-1 0h2m-1 0h2m-1 0h2m-1 0h2m-1 0h2m-1 0h2m-1 0h2m-1 0h2m19 0h2m0 0h2m0 0h2m0 0h2m0 0h2m1 0h2m0 0h2m3 0h2m0 0h2m2 0h2m6 0h2m-1 0h2m-1 0h2m-286 1h2m13 0h2m6 0h2m40 0h2m80 0h2m1 0h2m21 0h2m2 0h2m4 0h2m1 0h2m-1 0h2m2 0h2m-1 0h2m3 0h2m4 0h2m-1 0h2m0 0h2m0 0h2m0 0h2m-1 0h2m-1 0h2m-1 0h2m-1 0h2m-1 0h2m1 0h2m-1 0h2m-1 0h2m-1 0h2m-1 0h2m-1 0h2m-1 0h2m-1 0h2m-1 0h2m-1 0h2m-1 0h2m21 0h2m-1 0h2m-1 0h2m-1 0h2m6 0h2m-1 0h2m-1 0h2m0 0h2m-1 0h2m-1 0h2m5 0h2m5 0h2m19 0h2m-130 1h2m1 0h2m3 0h2m0 0h2m-1 0h2m2 0h2m0 0h2m-1 0h2m7 0h2m-1 0h2m1 0h2m-1 0h2m-1 0h2m-1 0h2m0 0h2m-1 0h2m0 0h2m-1 0h2m0 0h2m0 0h2m-1 0h2m-1 0h2m-1 0h2m-1 0h2m-1 0h2m-1 0h2m-1 0h2m25 0h2m-1 0h2m-1 0h2m-1 0h2m-1 0h2m0 0h2m-1 0h2m-1 0h2m-1 0h2m-1 0h2m-1 0h2m7 0h2m6 0h2m-323 1h2m15 0h2m69 0h2m22 0h2m51 0h2m23 0h2m0 0h2m5 0h2m8 0h2m2 0h2m-1 0h2m3 0h2m11 0h2m0 0h2m1 0h2m-1 0h2m-1 0h2m-1 0h2m0 0h2m1 0h2m0 0h2m0 0h2m-1 0h2m-1 0h2m0 0h2m-1 0h2m-1 0h2m-1 0h2m-1 0h2m-1 0h2m-1 0h2m-1 0h2m-1 0h2m-1 0h2m-1 0h2m-1 0h2m25 0h2m-1 0h2m-1 0h2m0 0h2m-1 0h2m-1 0h2m-1 0h2m0 0h2m-1 0h2m0 0h2m3 0h2m0 0h2m-1 0h2m1 0h2m4 0h2m2 0h2m-1 0h2m9 0h2m-288 1h2m40 0h2m29 0h2m3 0h2m27 0h2m24 0h2m10 0h2m4 0h2m12 0h2m1 0h2m1 0h2m6 0h2m5 0h2m1 0h2m-1 0h2m-1 0h2m0 0h2m-1 0h2m0 0h2m3 0h2m-1 0h2m-1 0h2m-1 0h2m-1 0h2m-1 0h2m-1 0h2m0 0h2m-1 0h2m-1 0h2m-1 0h2m-1 0h2m28 0h2m-1 0h2m-1 0h2m-1 0h2m0 0h2m-1 0h2m-1 0h2m0 0h2m7 0h2m-1 0h2m-313 1h2m8 0h2m13 0h2m48 0h2m4 0h2m56 0h2m24 0h2m9 0h2m22 0h2m15 0h2m3 0h2m1 0h2m-1 0h2m0 0h2m0 0h2m-1 0h2m7 0h2m-1 0h2m0 0h2m-1 0h2m-1 0h2m-1 0h2m0 0h2m-1 0h2m-1 0h2m-1 0h2m-1 0h2m-1 0h2m-1 0h2m-1 0h2m-1 0h2m-1 0h2m-1 0h2m-1 0h2m-1 0h2m30 0h2m-1 0h2m-1 0h2m-1 0h2m-1 0h2m0 0h2m-1 0h2m-1 0h2m-1 0h2m1 0h2m-1 0h2m-1 0h2m-1 0h2m2 0h2m20 0h2m2 0h2m-324 1h2m102 0h2m86 0h2m0 0h2m3 0h2m2 0h2m9 0h2m-1 0h2m-1 0h2m-1 0h2m-1 0h2m2 0h2m-1 0h2m1 0h2m-1 0h2m-1 0h2m-1 0h2m-1 0h2m0 0h2m-1 0h2m-1 0h2m-1 0h2m-1 0h2m-1 0h2m-1 0h2m-1 0h2m-1 0h2m-1 0h2m-1 0h2m-1 0h2m32 0h2m0 0h2m-1 0h2m-1 0h2m-1 0h2m0 0h2m-1 0h2m-1 0h2m0 0h2m3 0h2m0 0h2m3 0h2m-1 0h2m-1 0h2m-1 0h2m3 0h2m2 0h2m3 0h2m5 0h2m-327 1h2m46 0h2m32 0h2m29 0h2m6 0h2m20 0h2m-1 0h2m36 0h2m6 0h2m1 0h2m2 0h2m8 0h2m0 0h2m2 0h2m-1 0h2m-1 0h2m-1 0h2m0 0h2m-1 0h2m-1 0h2m-1 0h2m-1 0h2m-1 0h2m-1 0h2m-1 0h2m2 0h2m-1 0h2m-1 0h2m-1 0h2m-1 0h2m-1 0h2m-1 0h2m-1 0h2m-1 0h2m-1 0h2m-1 0h2m-1 0h2m-1 0h2m35 0h2m-1 0h2m-1 0h2m-1 0h2m-1 0h2m-1 0h2m0 0h2m0 0h2m0 0h2m-1 0h2m0 0h2m3 0h2m2 0h2m-1 0h2m-238 1h2m11 0h2m3 0h2m36 0h2m11 0h2m12 0h2m27 0h2m8 0h2m2 0h2m0 0h2m6 0h2m1 0h2m-1 0h2m2 0h2m3 0h2m1 0h2m-1 0h2m-1 0h2m0 0h2m1 0h2m-1 0h2m-1 0h2m-1 0h2m-1 0h2m-1 0h2m-1 0h2m-1 0h2m-1 0h2m-1 0h2m-1 0h2m-1 0h2m-1 0h2m-1 0h2m39 0h2m-1 0h2m-1 0h2m-1 0h2m0 0h2m-1 0h2m-1 0h2m0 0h2m0 0h2m1 0h2m-1 0h2m3 0h2m14 0h2m11 0h2m-338 1h2m32 0h2m52 0h2m5 0h2m53 0h2m0 0h2m4 0h2m0 0h2m34 0h2m12 0h2m-1 0h2m-1 0h2m1 0h2m7 0h2m-1 0h2m-1 0h2m-1 0h2m-1 0h2m1 0h2m-1 0h2m-1 0h2m-1 0h2m0 0h2m0 0h2m-1 0h2m-1 0h2m-1 0h2m-1 0h2m-1 0h2m-1 0h2m42 0h2m-1 0h2m-1 0h2m-1 0h2m-1 0h2m-1 0h2m-1 0h2m0 0h2m-1 0h2m-1 0h2m2 0h2m-1 0h2m1 0h2m-326 1h2m43 0h2m10 0h2m9 0h2m80 0h2m46 0h2m1 0h2m4 0h2m15 0h2m-1 0h2m3 0h2m0 0h2m0 0h2m-1 0h2m-1 0h2m-1 0h2m1 0h2m2 0h2m1 0h2m0 0h2m0 0h2m-1 0h2m-1 0h2m-1 0h2m-1 0h2m0 0h2m0 0h2m46 0h2m-1 0h2m-1 0h2m-1 0h2m-1 0h2m-1 0h2m-1 0h2m-1 0h2m-1 0h2m1 0h2m4 0h2m-1 0h2m3 0h2m4 0h2m1 0h2m8 0h2m-270 1h2m118 0h2m2 0h2m3 0h2m6 0h2m0 0h2m1 0h2m-1 0h2m-1 0h2m0 0h2m-1 0h2m1 0h2m-1 0h2m-1 0h2m0 0h2m0 0h2m0 0h2m0 0h2m0 0h2m2 0h2m-1 0h2m-1 0h2m0 0h2m-1 0h2m-1 0h2m-1 0h2m-1 0h2m-1 0h2m-1 0h2m48 0h2m-1 0h2m-1 0h2m0 0h2m-1 0h2m0 0h2m-1 0h2m3 0h2m0 0h2m-1 0h2m-1 0h2m1 0h2m-250 1h2m38 0h2m20 0h2m29 0h2m24 0h2m4 0h2m3 0h2m1 0h2m5 0h2m-1 0h2m5 0h2m0 0h2m0 0h2m-1 0h2m-1 0h2m-1 0h2m-1 0h2m0 0h2m-1 0h2m-1 0h2m-1 0h2m1 0h2m-1 0h2m-1 0h2m-1 0h2m-1 0h2m-1 0h2m-1 0h2m-1 0h2m-1 0h2m-1 0h2m-1 0h2m-1 0h2m51 0h2m-1 0h2m-1 0h2m-1 0h2m-1 0h2m-1 0h2m1 0h2m4 0h2m0 0h2m-1 0h2m-1 0h2m1 0h2m2 0h2m1 0h2m6 0h2m-304 1h2m16 0h2m58 0h2m5 0h2m2 0h2m7 0h2m5 0h2m11 0h2m28 0h2m-1 0h2m5 0h2m10 0h2m1 0h2m-1 0h2m1 0h2m0 0h2m1 0h2m6 0h2m-1 0h2m0 0h2m0 0h2m-1 0h2m-1 0h2m-1 0h2m-1 0h2m-1 0h2m-1 0h2m-1 0h2m-1 0h2m-1 0h2m0 0h2m-1 0h2m-1 0h2m-1 0h2m0 0h2m56 0h2m-1 0h2m-1 0h2m-1 0h2m-1 0h2m0 0h2m1 0h2m2 0h2m0 0h2m1 0h2m-1 0h2m-1 0h2m0 0h2m0 0h2m-300 1h2m40 0h2m12 0h2m13 0h2m22 0h2m-1 0h2m13 0h2m39 0h2m4 0h2m5 0h2m11 0h2m3 0h2m0 0h2m0 0h2m-1 0h2m0 0h2m-1 0h2m1 0h2m-1 0h2m-1 0h2m-1 0h2m-1 0h2m0 0h2m-1 0h2m-1 0h2m-1 0h2m-1 0h2m-1 0h2m-1 0h2m0 0h2m-1 0h2m-1 0h2m-1 0h2m-1 0h2m-1 0h2m-1 0h2m57 0h2m-1 0h2m-1 0h2m-1 0h2m-1 0h2m2 0h2m3 0h2m-1 0h2m0 0h2m0 0h2m0 0h2m1 0h2m5 0h2m-275 1h2m24 0h2m2 0h2m49 0h2m10 0h2m29 0h2m-1 0h2m12 0h2m1 0h2m0 0h2m2 0h2m-1 0h2m0 0h2m-1 0h2m-1 0h2m0 0h2m-1 0h2m-1 0h2m1 0h2m0 0h2m-1 0h2m1 0h2m0 0h2m-1 0h2m-1 0h2m-1 0h2m-1 0h2m0 0h2m-1 0h2m-1 0h2m-1 0h2m-1 0h2m-1 0h2m-1 0h2m-1 0h2m-1 0h2m-1 0h2m58 0h2m-1 0h2m-1 0h2m-1 0h2m-1 0h2m-1 0h2m-1 0h2m0 0h2m-1 0h2m-1 0h2m2 0h2m10 0h2m22 0h2m-305 1h2m57 0h2m11 0h2m2 0h2m4 0h2m13 0h2m37 0h2m15 0h2m11 0h2m0 0h2m-1 0h2m0 0h2m0 0h2m3 0h2m-1 0h2m-1 0h2m-1 0h2m-1 0h2m-1 0h2m0 0h2m-1 0h2m-1 0h2m-1 0h2m-1 0h2m-1 0h2m61 0h2m-1 0h2m-1 0h2m-1 0h2m-1 0h2m0 0h2m-1 0h2m1 0h2m-1 0h2m-1 0h2m0 0h2m-224 1h2m28 0h2m9 0h2m11 0h2m21 0h2m3 0h2m21 0h2m0 0h2m4 0h2m1 0h2m2 0h2m-1 0h2m-1 0h2m-1 0h2m-1 0h2m1 0h2m0 0h2m-1 0h2m-1 0h2m-1 0h2m-1 0h2m-1 0h2m-1 0h2m-1 0h2m-1 0h2m0 0h2m0 0h2m-1 0h2m0 0h2m62 0h2m-1 0h2m-1 0h2m0 0h2m-1 0h2m-1 0h2m-1 0h2m-1 0h2m-1 0h2m-1 0h2m15 0h2m5 0h2m-1 0h2m6 0h2m11 0h2m-302 1h2m62 0h2m66 0h2m3 0h2m5 0h2m7 0h2m-1 0h2m3 0h2m-1 0h2m-1 0h2m2 0h2m-1 0h2m-1 0h2m-1 0h2m-1 0h2m-1 0h2m-1 0h2m-1 0h2m-1 0h2m-1 0h2m-1 0h2m-1 0h2m-1 0h2m-1 0h2m63 0h2m-1 0h2m-1 0h2m-1 0h2m1 0h2m-1 0h2m0 0h2m-1 0h2m0 0h2m1 0h2m3 0h2m0 0h2m-1 0h2m9 0h2m-1 0h2m-274 1h2m12 0h2m26 0h2m30 0h2m37 0h2m16 0h2m2 0h2m0 0h2m-1 0h2m2 0h2m4 0h2m2 0h2m-1 0h2m-1 0h2m-1 0h2m0 0h2m-1 0h2m0 0h2m0 0h2m-1 0h2m-1 0h2m-1 0h2m0 0h2m-1 0h2m-1 0h2m-1 0h2m65 0h2m-1 0h2m-1 0h2m-1 0h2m-1 0h2m1 0h2m-1 0h2m0 0h2m-1 0h2m1 0h2m-1 0h2m-1 0h2m4 0h2m-279 1h2m16 0h2m25 0h2m27 0h2m76 0h2m1 0h2m1 0h2m2 0h2m2 0h2m0 0h2m0 0h2m0 0h2m-1 0h2m-1 0h2m-1 0h2m-1 0h2m-1 0h2m-1 0h2m-1 0h2m-1 0h2m-1 0h2m-1 0h2m-1 0h2m-1 0h2m-1 0h2m-1 0h2m67 0h2m-1 0h2m-1 0h2m-1 0h2m-1 0h2m-1 0h2m2 0h2m1 0h2m-1 0h2m5 0h2m3 0h2m14 0h2m-281 1h2m21 0h2m3 0h2m28 0h2m45 0h2m3 0h2m4 0h2m10 0h2m1 0h2m5 0h2m3 0h2m1 0h2m-1 0h2m0 0h2m0 0h2m-1 0h2m-1 0h2m-1 0h2m-1 0h2m0 0h2m0 0h2m-1 0h2m-1 0h2m0 0h2m-1 0h2m-1 0h2m-1 0h2m-1 0h2m68 0h2m-1 0h2m-1 0h2m-1 0h2m-1 0h2m-1 0h2m-1 0h2m-1 0h2m1 0h2m-1 0h2m0 0h2m-1 0h2m-1 0h2m3 0h2m0 0h2m4 0h2m2 0h2m3 0h2m-316 1h2m8 0h2m23 0h2m25 0h2m5 0h2m2 0h2m20 0h2m5 0h2m6 0h2m12 0h2m18 0h2m15 0h2m1 0h2m0 0h2m8 0h2m-1 0h2m-1 0h2m2 0h2m1 0h2m0 0h2m-1 0h2m-1 0h2m0 0h2m2 0h2m-1 0h2m0 0h2m-1 0h2m-1 0h2m-1 0h2m-1 0h2m-1 0h2m-1 0h2m72 0h2m1 0h2m-1 0h2m-1 0h2m0 0h2m-1 0h2m-1 0h2m0 0h2m1 0h2m11 0h2m-298 1h2m44 0h2m68 0h2m21 0h2m6 0h2m-1 0h2m0 0h2m3 0h2m11 0h2m1 0h2m2 0h2m-1 0h2m-1 0h2m2 0h2m-1 0h2m-1 0h2m-1 0h2m0 0h2m0 0h2m-1 0h2m-1 0h2m-1 0h2m-1 0h2m-1 0h2m-1 0h2m72 0h2m-1 0h2m-1 0h2m-1 0h2m-1 0h2m-1 0h2m-1 0h2m0 0h2m-1 0h2m0 0h2m-1 0h2m-1 0h2m1 0h2m-1 0h2m-1 0h2m-1 0h2m-1 0h2m6 0h2m-256 1h2m11 0h2m17 0h2m26 0h2m24 0h2m7 0h2m12 0h2m5 0h2m1 0h2m10 0h2m1 0h2m0 0h2m1 0h2m-1 0h2m-1 0h2m0 0h2m0 0h2m-1 0h2m-1 0h2m-1 0h2m-1 0h2m-1 0h2m-1 0h2m73 0h2m-1 0h2m0 0h2m-1 0h2m-1 0h2m0 0h2m2 0h2m-1 0h2m0 0h2m-1 0h2m11 0h2m6 0h2m-282 1h2m71 0h2m39 0h2m6 0h2m3 0h2m1 0h2m9 0h2m5 0h2m0 0h2m2 0h2m-1 0h2m0 0h2m-1 0h2m-1 0h2m0 0h2m-1 0h2m-1 0h2m-1 0h2m-1 0h2m-1 0h2m-1 0h2m-1 0h2m73 0h2m-1 0h2m-1 0h2m-1 0h2m-1 0h2m-1 0h2m-1 0h2m0 0h2m-1 0h2m-1 0h2m-1 0h2m-1 0h2m-1 0h2m2 0h2m8 0h2m3 0h2m8 0h2m-316 1h2m38 0h2m7 0h2m3 0h2m14 0h2m6 0h2m28 0h2m5 0h2m23 0h2m9 0h2m16 0h2m1 0h2m5 0h2m0 0h2m0 0h2m0 0h2m-1 0h2m-1 0h2m1 0h2m-1 0h2m-1 0h2m-1 0h2m-1 0h2m-1 0h2m75 0h2m-1 0h2m0 0h2m-1 0h2m-1 0h2m-1 0h2m1 0h2m4 0h2m1 0h2m10 0h2m1 0h2m1 0h2m9 0h2m-330 1h2m34 0h2m7 0h2m23 0h2m-1 0h2m2 0h2m12 0h2m8 0h2m14 0h2m8 0h2m12 0h2m12 0h2m8 0h2m0 0h2m2 0h2m1 0h2m0 0h2m-1 0h2m4 0h2m1 0h2m0 0h2m0 0h2m-1 0h2m-1 0h2m2 0h2m-1 0h2m-1 0h2m-1 0h2m-1 0h2m-1 0h2m-1 0h2m-1 0h2m-1 0h2m-1 0h2m75 0h2m0 0h2m1 0h2m-1 0h2m-1 0h2m-1 0h2m-1 0h2m-1 0h2m0 0h2m-1 0h2m1 0h2m4 0h2m-321 1h2m72 0h2m9 0h2m28 0h2m-1 0h2m-1 0h2m4 0h2m23 0h2m4 0h2m17 0h2m7 0h2m-1 0h2m7 0h2m0 0h2m-1 0h2m0 0h2m2 0h2m-1 0h2m2 0h2m-1 0h2m-1 0h2m-1 0h2m0 0h2m-1 0h2m-1 0h2m-1 0h2m-1 0h2m0 0h2m-1 0h2m-1 0h2m76 0h2m-1 0h2m-1 0h2m-1 0h2m-1 0h2m0 0h2m0 0h2m-1 0h2m6 0h2m0 0h2m2 0h2m1 0h2m-322 1h2m5 0h2m3 0h2m4 0h2m50 0h2m1 0h2m5 0h2m16 0h2m1 0h2m18 0h2m23 0h2m1 0h2m4 0h2m9 0h2m1 0h2m2 0h2m3 0h2m-1 0h2m15 0h2m-1 0h2m1 0h2m-1 0h2m-1 0h2m5 0h2m-1 0h2m0 0h2m-1 0h2m-1 0h2m-1 0h2m77 0h2m-1 0h2m-1 0h2m-1 0h2m-1 0h2m-1 0h2m-1 0h2m-1 0h2m-1 0h2m-1 0h2m-1 0h2m-1 0h2m0 0h2m0 0h2m1 0h2m0 0h2m8 0h2m-309 1h2m31 0h2m31 0h2m27 0h2m0 0h2m43 0h2m3 0h2m12 0h2m3 0h2m-1 0h2m0 0h2m6 0h2m0 0h2m-1 0h2m2 0h2m-1 0h2m0 0h2m-1 0h2m-1 0h2m-1 0h2m-1 0h2m-1 0h2m0 0h2m-1 0h2m-1 0h2m-1 0h2m-1 0h2m76 0h2m-1 0h2m-1 0h2m-1 0h2m-1 0h2m-1 0h2m-1 0h2m1 0h2m-1 0h2m0 0h2m0 0h2m2 0h2m0 0h2m26 0h2m-325 1h2m11 0h2m48 0h2m28 0h2m0 0h2m6 0h2m2 0h2m4 0h2m0 0h2m30 0h2m2 0h2m9 0h2m1 0h2m3 0h2m-1 0h2m1 0h2m-1 0h2m2 0h2m1 0h2m0 0h2m-1 0h2m-1 0h2m-1 0h2m1 0h2m0 0h2m-1 0h2m-1 0h2m-1 0h2m-1 0h2m77 0h2m-1 0h2m-1 0h2m-1 0h2m-1 0h2m-1 0h2m-1 0h2m0 0h2m0 0h2m-1 0h2m1 0h2m0 0h2m-1 0h2m0 0h2m0 0h2m7 0h2m8 0h2m-304 1h2m1 0h2m27 0h2m24 0h2m21 0h2m17 0h2m6 0h2m2 0h2m19 0h2m4 0h2m3 0h2m4 0h2m1 0h2m7 0h2m-1 0h2m1 0h2m1 0h2m-1 0h2m1 0h2m-1 0h2m-1 0h2m-1 0h2m-1 0h2m-1 0h2m-1 0h2m-1 0h2m-1 0h2m79 0h2m-1 0h2m-1 0h2m0 0h2m-1 0h2m0 0h2m-1 0h2m-1 0h2m1 0h2m9 0h2m-1 0h2m-1 0h2m-1 0h2m2 0h2m-245 1h2m10 0h2m9 0h2m-1 0h2m4 0h2m16 0h2m-1 0h2m34 0h2m0 0h2m1 0h2m1 0h2m1 0h2m0 0h2m-1 0h2m4 0h2m0 0h2m-1 0h2m1 0h2m-1 0h2m1 0h2m1 0h2m0 0h2m-1 0h2m0 0h2m-1 0h2m-1 0h2m-1 0h2m-1 0h2m-1 0h2m-1 0h2m-1 0h2m80 0h2m-1 0h2m-1 0h2m-1 0h2m-1 0h2m-1 0h2m-1 0h2m-1 0h2m-1 0h2m2 0h2m5 0h2m1 0h2m12 0h2m-275 1h2m16 0h2m6 0h2m10 0h2m2 0h2m2 0h2m40 0h2m14 0h2m3 0h2m13 0h2m-1 0h2m0 0h2m4 0h2m-1 0h2m-1 0h2m1 0h2m1 0h2m-1 0h2m-1 0h2m-1 0h2m0 0h2m-1 0h2m-1 0h2m-1 0h2m0 0h2m-1 0h2m-1 0h2m0 0h2m80 0h2m-1 0h2m-1 0h2m-1 0h2m-1 0h2m3 0h2m0 0h2m-1 0h2m1 0h2m-1 0h2m-1 0h2m0 0h2m4 0h2m0 0h2m13 0h2m-294 1h2m93 0h2m10 0h2m1 0h2m9 0h2m8 0h2m4 0h2m2 0h2m-1 0h2m6 0h2m1 0h2m0 0h2m-1 0h2m0 0h2m-1 0h2m-1 0h2m0 0h2m-1 0h2m-1 0h2m-1 0h2m-1 0h2m-1 0h2m80 0h2m-1 0h2m-1 0h2m-1 0h2m-1 0h2m-1 0h2m-1 0h2m-1 0h2m-1 0h2m-1 0h2m1 0h2m1 0h2m2 0h2m-1 0h2m3 0h2m2 0h2m1 0h2m13 0h2m2 0h2m11 0h2m-335 1h2m60 0h2m47 0h2m3 0h2m24 0h2m7 0h2m-1 0h2m3 0h2m-1 0h2m1 0h2m0 0h2m3 0h2m2 0h2m-1 0h2m0 0h2m-1 0h2m1 0h2m-1 0h2m0 0h2m-1 0h2m-1 0h2m-1 0h2m-1 0h2m81 0h2m-1 0h2m-1 0h2m-1 0h2m-1 0h2m1 0h2m2 0h2m0 0h2m1 0h2m9 0h2m3 0h2m3 0h2m8 0h2m-274 1h2m2 0h2m28 0h2m4 0h2m3 0h2m1 0h2m1 0h2m7 0h2m2 0h2m0 0h2m0 0h2m13 0h2m12 0h2m14 0h2m10 0h2m-1 0h2m5 0h2m-1 0h2m0 0h2m-1 0h2m-1 0h2m0 0h2m-1 0h2m82 0h2m-1 0h2m-1 0h2m-1 0h2m-1 0h2m-1 0h2m-1 0h2m-1 0h2m-1 0h2m0 0h2m-1 0h2m-1 0h2m11 0h2m5 0h2m-317 1h2m7 0h2m51 0h2m14 0h2m12 0h2m23 0h2m26 0h2m2 0h2m6 0h2m0 0h2m1 0h2m1 0h2m12 0h2m0 0h2m0 0h2m1 0h2m0 0h2m-1 0h2m0 0h2m-1 0h2m-1 0h2m-1 0h2m-1 0h2m-1 0h2m-1 0h2m84 0h2m-1 0h2m2 0h2m-1 0h2m0 0h2m-1 0h2m-1 0h2m4 0h2m-1 0h2m2 0h2m3 0h2m5 0h2m-244 1h2m44 0h2m5 0h2m13 0h2m5 0h2m4 0h2m6 0h2m6 0h2m0 0h2m5 0h2m3 0h2m-1 0h2m-1 0h2m-1 0h2m-1 0h2m-1 0h2m-1 0h2m-1 0h2m-1 0h2m-1 0h2m-1 0h2m-1 0h2m-1 0h2m83 0h2m-1 0h2m-1 0h2m-1 0h2m0 0h2m1 0h2m-1 0h2m-1 0h2m0 0h2m-1 0h2m3 0h2m1 0h2m0 0h2m-1 0h2m7 0h2m-1 0h2m15 0h2m-342 1h2m31 0h2m30 0h2m72 0h2m-1 0h2m0 0h2m2 0h2m-1 0h2m13 0h2m1 0h2m2 0h2m2 0h2m0 0h2m-1 0h2m5 0h2m-1 0h2m0 0h2m0 0h2m3 0h2m1 0h2m-1 0h2m-1 0h2m-1 0h2m-1 0h2m-1 0h2m-1 0h2m-1 0h2m83 0h2m-1 0h2m-1 0h2m-1 0h2m-1 0h2m0 0h2m-1 0h2m-1 0h2m0 0h2m6 0h2m-1 0h2m0 0h2m2 0h2m3 0h2m18 0h2m-245 1h2m38 0h2m5 0h2m6 0h2m-1 0h2m7 0h2m4 0h2m9 0h2m1 0h2m4 0h2m-1 0h2m-1 0h2m1 0h2m-1 0h2m-1 0h2m0 0h2m1 0h2m-1 0h2m0 0h2m-1 0h2m84 0h2m-1 0h2m-1 0h2m-1 0h2m-1 0h2m-1 0h2m-1 0h2m0 0h2m1 0h2m-1 0h2m0 0h2m-1 0h2m2 0h2m2 0h2m-1 0h2m12 0h2m3 0h2m-284 1h2m27 0h2m4 0h2m10 0h2m46 0h2m-1 0h2m3 0h2m0 0h2m5 0h2m13 0h2m3 0h2m1 0h2m-1 0h2m-1 0h2m-1 0h2m0 0h2m-1 0h2m3 0h2m0 0h2m-1 0h2m-1 0h2m-1 0h2m-1 0h2m-1 0h2m-1 0h2m-1 0h2m84 0h2m-1 0h2m0 0h2m-1 0h2m2 0h2m0 0h2m0 0h2m0 0h2m0 0h2m-1 0h2m-1 0h2m1 0h2m1 0h2m-1 0h2m1 0h2m1 0h2m2 0h2m-300 1h2m13 0h2m25 0h2m11 0h2m10 0h2m32 0h2m2 0h2m0 0h2m10 0h2m0 0h2m3 0h2m6 0h2m8 0h2m5 0h2m3 0h2m2 0h2m0 0h2m1 0h2m-1 0h2m-1 0h2m0 0h2m-1 0h2m0 0h2m-1 0h2m1 0h2m85 0h2m-1 0h2m-1 0h2m-1 0h2m-1 0h2m-1 0h2m-1 0h2m3 0h2m6 0h2m10 0h2m17 0h2m-325 1h2m4 0h2m48 0h2m6 0h2m12 0h2m-1 0h2m28 0h2m1 0h2m6 0h2m-1 0h2m28 0h2m-1 0h2m6 0h2m-1 0h2m-1 0h2m0 0h2m1 0h2m0 0h2m0 0h2m-1 0h2m-1 0h2m-1 0h2m-1 0h2m0 0h2m-1 0h2m-1 0h2m-1 0h2m-1 0h2m-1 0h2m-1 0h2m0 0h2m-1 0h2m85 0h2m-1 0h2m0 0h2m1 0h2m1 0h2m-1 0h2m2 0h2m-1 0h2m4 0h2m13 0h2m6 0h2m-1 0h2m-316 1h2m59 0h2m5 0h2m31 0h2m-1 0h2m0 0h2m7 0h2m10 0h2m8 0h2m16 0h2m0 0h2m6 0h2m-1 0h2m0 0h2m0 0h2m1 0h2m-1 0h2m-1 0h2m-1 0h2m0 0h2m-1 0h2m-1 0h2m-1 0h2m-1 0h2m-1 0h2m-1 0h2m84 0h2m-1 0h2m-1 0h2m-1 0h2m0 0h2m0 0h2m0 0h2m1 0h2m-1 0h2m3 0h2m2 0h2m0 0h2m28 0h2m-317 1h2m7 0h2m51 0h2m2 0h2m20 0h2m7 0h2m31 0h2m16 0h2m-1 0h2m-1 0h2m-1 0h2m0 0h2m0 0h2m-1 0h2m1 0h2m-1 0h2m-1 0h2m-1 0h2m-1 0h2m-1 0h2m-1 0h2m0 0h2m0 0h2m-1 0h2m-1 0h2m-1 0h2m-1 0h2m86 0h2m-1 0h2m-1 0h2m-1 0h2m-1 0h2m-1 0h2m-1 0h2m2 0h2m-1 0h2m3 0h2m2 0h2m15 0h2m-1 0h2m-255 1h2m30 0h2m4 0h2m7 0h2m5 0h2m21 0h2m20 0h2m-1 0h2m-1 0h2m5 0h2m-1 0h2m0 0h2m0 0h2m-1 0h2m-1 0h2m-1 0h2m-1 0h2m-1 0h2m-1 0h2m-1 0h2m-1 0h2m-1 0h2m-1 0h2m0 0h2m-1 0h2m-1 0h2m84 0h2m0 0h2m-1 0h2m-1 0h2m-1 0h2m-1 0h2m-1 0h2m-1 0h2m-1 0h2m-1 0h2m0 0h2m2 0h2m4 0h2m-1 0h2m3 0h2m0 0h2m2 0h2m-279 1h2m27 0h2m17 0h2m13 0h2m22 0h2m1 0h2m-1 0h2m21 0h2m9 0h2m0 0h2m-1 0h2m1 0h2m-1 0h2m3 0h2m2 0h2m1 0h2m3 0h2m0 0h2m-1 0h2m-1 0h2m-1 0h2m-1 0h2m-1 0h2m84 0h2m-1 0h2m-1 0h2m-1 0h2m-1 0h2m0 0h2m-1 0h2m0 0h2m-1 0h2m-1 0h2m2 0h2m-1 0h2m0 0h2m4 0h2m1 0h2m1 0h2m-243 1h2m6 0h2m13 0h2m7 0h2m2 0h2m-1 0h2m-1 0h2m2 0h2m8 0h2m21 0h2m6 0h2m0 0h2m-1 0h2m8 0h2m8 0h2m0 0h2m1 0h2m1 0h2m-1 0h2m-1 0h2m-1 0h2m3 0h2m-1 0h2m-1 0h2m-1 0h2m83 0h2m-1 0h2m-1 0h2m-1 0h2m-1 0h2m-1 0h2m-1 0h2m-1 0h2m-1 0h2m2 0h2m1 0h2m1 0h2m14 0h2m21 0h2m-291 1h2m24 0h2m30 0h2m4 0h2m8 0h2m-1 0h2m1 0h2m11 0h2m4 0h2m-1 0h2m3 0h2m1 0h2m0 0h2m3 0h2m-1 0h2m-1 0h2m-1 0h2m1 0h2m3 0h2m-1 0h2m1 0h2m3 0h2m0 0h2m0 0h2m-1 0h2m1 0h2m-1 0h2m-1 0h2m-1 0h2m-1 0h2m-1 0h2m84 0h2m-1 0h2m-1 0h2m-1 0h2m-1 0h2m-1 0h2m-1 0h2m1 0h2m-1 0h2m1 0h2m0 0h2m-1 0h2m5 0h2m0 0h2m-1 0h2m3 0h2m0 0h2m-1 0h2m0 0h2m25 0h2m-319 1h2m38 0h2m8 0h2m22 0h2m14 0h2m5 0h2m-1 0h2m9 0h2m12 0h2m2 0h2m-1 0h2m3 0h2m0 0h2m1 0h2m3 0h2m-1 0h2m3 0h2m0 0h2m0 0h2m-1 0h2m-1 0h2m-1 0h2m-1 0h2m-1 0h2m-1 0h2m-1 0h2m-1 0h2m-1 0h2m-1 0h2m-1 0h2m-1 0h2m-1 0h2m-1 0h2m-1 0h2m83 0h2m-1 0h2m-1 0h2m-1 0h2m-1 0h2m0 0h2m-1 0h2m-1 0h2m0 0h2m-1 0h2m1 0h2m-1 0h2m-1 0h2m0 0h2m-1 0h2m0 0h2m3 0h2m11 0h2m-1 0h2m-294 1h2m58 0h2m0 0h2m-1 0h2m1 0h2m0 0h2m9 0h2m4 0h2m0 0h2m2 0h2m0 0h2m11 0h2m1 0h2m2 0h2m5 0h2m-1 0h2m-1 0h2m18 0h2m0 0h2m3 0h2m-1 0h2m-1 0h2m1 0h2m-1 0h2m2 0h2m0 0h2m-1 0h2m0 0h2m-1 0h2m-1 0h2m83 0h2m-1 0h2m-1 0h2m-1 0h2m-1 0h2m0 0h2m-1 0h2m0 0h2m-1 0h2m-1 0h2m0 0h2m0 0h2m0 0h2m8 0h2m-1 0h2m4 0h2m8 0h2m-273 1h2m1 0h2m28 0h2m8 0h2m18 0h2m10 0h2m9 0h2m0 0h2m12 0h2m6 0h2m5 0h2m-1 0h2m3 0h2m1 0h2m3 0h2m-1 0h2m0 0h2m0 0h2m-1 0h2m-1 0h2m-1 0h2m-1 0h2m-1 0h2m85 0h2m-1 0h2m-1 0h2m-1 0h2m-1 0h2m-1 0h2m-1 0h2m-1 0h2m-1 0h2m0 0h2m8 0h2m0 0h2m-1 0h2m1 0h2m5 0h2m-308 1h2m100 0h2m12 0h2m6 0h2m5 0h2m4 0h2m4 0h2m5 0h2m-1 0h2m-1 0h2m9 0h2m-1 0h2m4 0h2m-1 0h2m1 0h2m0 0h2m-1 0h2m0 0h2m-1 0h2m-1 0h2m-1 0h2m-1 0h2m-1 0h2m-1 0h2m-1 0h2m82 0h2m-1 0h2m-1 0h2m-1 0h2m0 0h2m-1 0h2m0 0h2m0 0h2m1 0h2m0 0h2m0 0h2m-1 0h2m-1 0h2m10 0h2m1 0h2m3 0h2m-298 1h2m13 0h2m7 0h2m15 0h2m-1 0h2m40 0h2m1 0h2m7 0h2m1 0h2m2 0h2m6 0h2m0 0h2m1 0h2m14 0h2m2 0h2m3 0h2m-1 0h2m-1 0h2m6 0h2m1 0h2m6 0h2m0 0h2m-1 0h2m0 0h2m0 0h2m-1 0h2m-1 0h2m-1 0h2m83 0h2m-1 0h2m-1 0h2m0 0h2m-1 0h2m-1 0h2m-1 0h2m-1 0h2m0 0h2m-1 0h2m-1 0h2m1 0h2m-1 0h2m1 0h2m3 0h2m20 0h2m-322 1h2m113 0h2m1 0h2m9 0h2m2 0h2m1 0h2m0 0h2m0 0h2m14 0h2m9 0h2m-1 0h2m-1 0h2m0 0h2m-1 0h2m1 0h2m2 0h2m0 0h2m-1 0h2m-1 0h2m-1 0h2m-1 0h2m-1 0h2m-1 0h2m-1 0h2m84 0h2m-1 0h2m-1 0h2m-1 0h2m-1 0h2m1 0h2m-1 0h2m-1 0h2m4 0h2m1 0h2m-1 0h2m0 0h2m3 0h2m-1 0h2m9 0h2m15 0h2m-294 1h2m58 0h2m5 0h2m-1 0h2m2 0h2m6 0h2m12 0h2m3 0h2m14 0h2m9 0h2m3 0h2m4 0h2m-1 0h2m5 0h2m0 0h2m-1 0h2m-1 0h2m-1 0h2m83 0h2m-1 0h2m-1 0h2m-1 0h2m0 0h2m-1 0h2m0 0h2m-1 0h2m-1 0h2m-1 0h2m-1 0h2m1 0h2m4 0h2m0 0h2m22 0h2m-312 1h2m-1 0h2m21 0h2m43 0h2m20 0h2m1 0h2m12 0h2m0 0h2m0 0h2m3 0h2m9 0h2m0 0h2m-1 0h2m1 0h2m0 0h2m8 0h2m3 0h2m0 0h2m4 0h2m0 0h2m1 0h2m-1 0h2m0 0h2m2 0h2m-1 0h2m-1 0h2m-1 0h2m-1 0h2m-1 0h2m-1 0h2m-1 0h2m82 0h2m-1 0h2m-1 0h2m0 0h2m-1 0h2m-1 0h2m-1 0h2m-1 0h2m0 0h2m1 0h2m1 0h2m-1 0h2m0 0h2m6 0h2m-1 0h2m11 0h2m-313 1h2m8 0h2m49 0h2m3 0h2m3 0h2m8 0h2m1 0h2m16 0h2m2 0h2m4 0h2m2 0h2m9 0h2m4 0h2m0 0h2m-1 0h2m0 0h2m-1 0h2m16 0h2m5 0h2m4 0h2m2 0h2m-1 0h2m1 0h2m-1 0h2m-1 0h2m0 0h2m0 0h2m-1 0h2m-1 0h2m81 0h2m-1 0h2m-1 0h2m-1 0h2m-1 0h2m1 0h2m-1 0h2m-1 0h2m0 0h2m-1 0h2m2 0h2m2 0h2m1 0h2m0 0h2m3 0h2m3 0h2m-288 1h2m22 0h2m21 0h2m13 0h2m20 0h2m11 0h2m10 0h2m-1 0h2m1 0h2m-1 0h2m7 0h2m2 0h2m0 0h2m3 0h2m11 0h2m1 0h2m1 0h2m-1 0h2m0 0h2m-1 0h2m-1 0h2m0 0h2m-1 0h2m-1 0h2m-1 0h2m-1 0h2m-1 0h2m-1 0h2m-1 0h2m0 0h2m79 0h2m-1 0h2m-1 0h2m-1 0h2m-1 0h2m-1 0h2m-1 0h2m0 0h2m-1 0h2m-1 0h2m-1 0h2m6 0h2m0 0h2m0 0h2m2 0h2m9 0h2m9 0h2m-322 1h2m23 0h2m17 0h2m56 0h2m-1 0h2m2 0h2m1 0h2m29 0h2m15 0h2m2 0h2m-1 0h2m-1 0h2m4 0h2m0 0h2m1 0h2m-1 0h2m4 0h2m-1 0h2m-1 0h2m-1 0h2m-1 0h2m-1 0h2m-1 0h2m-1 0h2m-1 0h2m79 0h2m-1 0h2m-1 0h2m-1 0h2m0 0h2m-1 0h2m-1 0h2m1 0h2m-1 0h2m-1 0h2m-1 0h2m-1 0h2m1 0h2m1 0h2m-1 0h2m3 0h2m-1 0h2m6 0h2m-273 1h2m57 0h2m1 0h2m39 0h2m0 0h2m0 0h2m0 0h2m2 0h2m4 0h2m-1 0h2m2 0h2m4 0h2m2 0h2m-1 0h2m1 0h2m-1 0h2m-1 0h2m3 0h2m-1 0h2m0 0h2m0 0h2m-1 0h2m-1 0h2m-1 0h2m-1 0h2m-1 0h2m77 0h2m-1 0h2m-1 0h2m-1 0h2m0 0h2m0 0h2m0 0h2m-1 0h2m1 0h2m-1 0h2m0 0h2m0 0h2m1 0h2m0 0h2m-292 1h2m70 0h2m12 0h2m4 0h2m10 0h2m1 0h2m28 0h2m7 0h2m14 0h2m-1 0h2m-1 0h2m1 0h2m-1 0h2m1 0h2m3 0h2m0 0h2m-1 0h2m1 0h2m-1 0h2m-1 0h2m0 0h2m-1 0h2m-1 0h2m77 0h2m-1 0h2m-1 0h2m-1 0h2m-1 0h2m-1 0h2m0 0h2m1 0h2m-1 0h2m-1 0h2m2 0h2m5 0h2m24 0h2m4 0h2m6 0h2m13 0h2m-355 1h2m53 0h2m38 0h2m5 0h2m7 0h2m5 0h2m12 0h2m1 0h2m8 0h2m1 0h2m17 0h2m0 0h2m-1 0h2m-1 0h2m-1 0h2m8 0h2m-1 0h2m-1 0h2m0 0h2m-1 0h2m0 0h2m-1 0h2m-1 0h2m-1 0h2m-1 0h2m0 0h2m-1 0h2m-1 0h2m74 0h2m-1 0h2m-1 0h2m-1 0h2m-1 0h2m-1 0h2m-1 0h2m-1 0h2m-1 0h2m0 0h2m3 0h2m-1 0h2m-1 0h2m0 0h2m3 0h2m9 0h2m7 0h2m-248 1h2m6 0h2m44 0h2m7 0h2m28 0h2m3 0h2m6 0h2m-1 0h2m3 0h2m-1 0h2m0 0h2m0 0h2m0 0h2m-1 0h2m-1 0h2m0 0h2m0 0h2m-1 0h2m72 0h2m-1 0h2m-1 0h2m-1 0h2m-1 0h2m0 0h2m-1 0h2m0 0h2m-1 0h2m-1 0h2m0 0h2m1 0h2m10 0h2m3 0h2m-288 1h2m73 0h2m3 0h2m-1 0h2m13 0h2m5 0h2m-1 0h2m1 0h2m14 0h2m0 0h2m4 0h2m3 0h2m-1 0h2m0 0h2m13 0h2m2 0h2m-1 0h2m1 0h2m0 0h2m0 0h2m-1 0h2m1 0h2m-1 0h2m-1 0h2m-1 0h2m0 0h2m-1 0h2m0 0h2m-1 0h2m71 0h2m-1 0h2m-1 0h2m-1 0h2m-1 0h2m-1 0h2m-1 0h2m-1 0h2m-1 0h2m0 0h2m0 0h2m0 0h2m0 0h2m-1 0h2m2 0h2m2 0h2m4 0h2m-1 0h2m5 0h2m-1 0h2m-1 0h2m13 0h2m2 0h2m-224 1h2m21 0h2m3 0h2m-1 0h2m1 0h2m0 0h2m13 0h2m2 0h2m4 0h2m3 0h2m6 0h2m1 0h2m2 0h2m0 0h2m-1 0h2m1 0h2m-1 0h2m-1 0h2m-1 0h2m-1 0h2m70 0h2m-1 0h2m0 0h2m-1 0h2m-1 0h2m-1 0h2m-1 0h2m1 0h2m0 0h2m0 0h2m1 0h2m0 0h2m-1 0h2m-1 0h2m1 0h2m5 0h2m5 0h2m12 0h2m-259 1h2m22 0h2m9 0h2m5 0h2m11 0h2m31 0h2m3 0h2m0 0h2m1 0h2m0 0h2m2 0h2m1 0h2m0 0h2m1 0h2m-1 0h2m0 0h2m1 0h2m-1 0h2m-1 0h2m-1 0h2m2 0h2m1 0h2m-1 0h2m0 0h2m-1 0h2m-1 0h2m68 0h2m-1 0h2m-1 0h2m-1 0h2m-1 0h2m-1 0h2m-1 0h2m-1 0h2m-1 0h2m-1 0h2m0 0h2m1 0h2m1 0h2m1 0h2m0 0h2m1 0h2m1 0h2m2 0h2m2 0h2m27 0h2m-284 1h2m13 0h2m32 0h2m9 0h2m4 0h2m9 0h2m9 0h2m6 0h2m0 0h2m-1 0h2m5 0h2m3 0h2m-1 0h2m0 0h2m1 0h2m-1 0h2m0 0h2m-1 0h2m4 0h2m2 0h2m3 0h2m-1 0h2m-1 0h2m-1 0h2m0 0h2m-1 0h2m-1 0h2m0 0h2m-1 0h2m-1 0h2m67 0h2m-1 0h2m-1 0h2m-1 0h2m-1 0h2m-1 0h2m-1 0h2m1 0h2m0 0h2m0 0h2m-1 0h2m3 0h2m3 0h2m-1 0h2m18 0h2m3 0h2m-255 1h2m38 0h2m7 0h2m1 0h2m-1 0h2m0 0h2m8 0h2m4 0h2m5 0h2m5 0h2m2 0h2m1 0h2m3 0h2m0 0h2m1 0h2m11 0h2m-1 0h2m1 0h2m0 0h2m-1 0h2m0 0h2m1 0h2m2 0h2m-1 0h2m-1 0h2m-1 0h2m66 0h2m-1 0h2m-1 0h2m-1 0h2m-1 0h2m-1 0h2m-1 0h2m-1 0h2m-1 0h2m0 0h2m1 0h2m0 0h2m3 0h2m-1 0h2m2 0h2m0 0h2m-1 0h2m0 0h2m-240 1h2m34 0h2m12 0h2m4 0h2m31 0h2m-1 0h2m2 0h2m3 0h2m5 0h2m2 0h2m1 0h2m3 0h2m1 0h2m3 0h2m2 0h2m1 0h2m0 0h2m-1 0h2m-1 0h2m-1 0h2m0 0h2m-1 0h2m63 0h2m-1 0h2m-1 0h2m-1 0h2m-1 0h2m-1 0h2m-1 0h2m-1 0h2m-1 0h2m0 0h2m-1 0h2m-1 0h2m0 0h2m-1 0h2m8 0h2m-1 0h2m-1 0h2m-1 0h2m5 0h2m37 0h2m-313 1h2m30 0h2m11 0h2m0 0h2m16 0h2m32 0h2m2 0h2m5 0h2m-1 0h2m14 0h2m3 0h2m6 0h2m-1 0h2m0 0h2m1 0h2m8 0h2m2 0h2m-1 0h2m0 0h2m-1 0h2m-1 0h2m-1 0h2m-1 0h2m-1 0h2m-1 0h2m-1 0h2m-1 0h2m-1 0h2m62 0h2m-1 0h2m-1 0h2m-1 0h2m-1 0h2m-1 0h2m-1 0h2m-1 0h2m3 0h2m-1 0h2m-1 0h2m-1 0h2m0 0h2m0 0h2m0 0h2m7 0h2m-1 0h2m-1 0h2m4 0h2m-223 1h2m15 0h2m2 0h2m16 0h2m0 0h2m7 0h2m-1 0h2m15 0h2m0 0h2m3 0h2m9 0h2m11 0h2m-1 0h2m3 0h2m0 0h2m0 0h2m0 0h2m0 0h2m-1 0h2m-1 0h2m-1 0h2m-1 0h2m-1 0h2m-1 0h2m61 0h2m-1 0h2m-1 0h2m-1 0h2m-1 0h2m-1 0h2m-1 0h2m1 0h2m-1 0h2m-1 0h2m2 0h2m2 0h2m-1 0h2m8 0h2m4 0h2m-1 0h2m1 0h2m-226 1h2m29 0h2m14 0h2m6 0h2m2 0h2m0 0h2m8 0h2m1 0h2m9 0h2m5 0h2m0 0h2m3 0h2m0 0h2m-1 0h2m-1 0h2m0 0h2m3 0h2m0 0h2m-1 0h2m-1 0h2m-1 0h2m0 0h2m2 0h2m-1 0h2m-1 0h2m58 0h2m-1 0h2m-1 0h2m-1 0h2m-1 0h2m-1 0h2m-1 0h2m-1 0h2m-1 0h2m-1 0h2m1 0h2m-1 0h2m-1 0h2m2 0h2m1 0h2m19 0h2m18 0h2m-309 1h2m89 0h2m11 0h2m15 0h2m0 0h2m21 0h2m6 0h2m3 0h2m3 0h2m2 0h2m5 0h2m0 0h2m0 0h2m-1 0h2m1 0h2m-1 0h2m-1 0h2m-1 0h2m55 0h2m-1 0h2m0 0h2m-1 0h2m-1 0h2m-1 0h2m-1 0h2m-1 0h2m-1 0h2m-1 0h2m0 0h2m-1 0h2m-1 0h2m0 0h2m1 0h2m1 0h2m3 0h2m4 0h2m-269 1h2m59 0h2m17 0h2m1 0h2m18 0h2m13 0h2m-1 0h2m0 0h2m11 0h2m-1 0h2m-1 0h2m1 0h2m0 0h2m1 0h2m1 0h2m10 0h2m2 0h2m0 0h2m0 0h2m-1 0h2m-1 0h2m0 0h2m-1 0h2m-1 0h2m-1 0h2m-1 0h2m-1 0h2m-1 0h2m-1 0h2m51 0h2m-1 0h2m0 0h2m1 0h2m-1 0h2m-1 0h2m-1 0h2m-1 0h2m0 0h2m0 0h2m-1 0h2m-1 0h2m-1 0h2m6 0h2m2 0h2m23 0h2m-279 1h2m6 0h2m43 0h2m22 0h2m4 0h2m40 0h2m-1 0h2m3 0h2m1 0h2m5 0h2m1 0h2m3 0h2m1 0h2m3 0h2m-1 0h2m1 0h2m-1 0h2m-1 0h2m-1 0h2m1 0h2m-1 0h2m-1 0h2m-1 0h2m-1 0h2m-1 0h2m47 0h2m-1 0h2m-1 0h2m-1 0h2m-1 0h2m1 0h2m-1 0h2m-1 0h2m0 0h2m-1 0h2m-1 0h2m1 0h2m-1 0h2m0 0h2m-1 0h2m0 0h2m-248 1h2m22 0h2m11 0h2m8 0h2m7 0h2m11 0h2m8 0h2m4 0h2m15 0h2m0 0h2m18 0h2m2 0h2m3 0h2m-1 0h2m-1 0h2m2 0h2m10 0h2m2 0h2m1 0h2m1 0h2m0 0h2m-1 0h2m-1 0h2m2 0h2m-1 0h2m-1 0h2m-1 0h2m-1 0h2m0 0h2m0 0h2m43 0h2m0 0h2m-1 0h2m-1 0h2m-1 0h2m-1 0h2m-1 0h2m-1 0h2m-1 0h2m0 0h2m-1 0h2m-1 0h2m1 0h2m2 0h2m2 0h2m-1 0h2m-1 0h2m0 0h2m1 0h2m0 0h2m16 0h2m-230 1h2m1 0h2m17 0h2m24 0h2m10 0h2m9 0h2m2 0h2m2 0h2m2 0h2m4 0h2m0 0h2m3 0h2m0 0h2m-1 0h2m-1 0h2m7 0h2m1 0h2m-1 0h2m1 0h2m0 0h2m-1 0h2m0 0h2m0 0h2m0 0h2m0 0h2m-1 0h2m1 0h2m-1 0h2m-1 0h2m40 0h2m-1 0h2m-1 0h2m-1 0h2m-1 0h2m-1 0h2m-1 0h2m-1 0h2m-1 0h2m0 0h2m-1 0h2m-1 0h2m2 0h2m-1 0h2m0 0h2m1 0h2m35 0h2m-290 1h2m57 0h2m6 0h2m39 0h2m7 0h2m6 0h2m-1 0h2m1 0h2m10 0h2m14 0h2m1 0h2m3 0h2m-1 0h2m4 0h2m-1 0h2m-1 0h2m-1 0h2m-1 0h2m0 0h2m-1 0h2m-1 0h2m0 0h2m-1 0h2m-1 0h2m-1 0h2m-1 0h2m-1 0h2m-1 0h2m-1 0h2m34 0h2m0 0h2m-1 0h2m-1 0h2m-1 0h2m-1 0h2m-1 0h2m-1 0h2m-1 0h2m0 0h2m0 0h2m1 0h2m-1 0h2m2 0h2m2 0h2m-1 0h2m2 0h2m-1 0h2m-1 0h2m1 0h2m10 0h2m-227 1h2m3 0h2m3 0h2m11 0h2m9 0h2m-1 0h2m5 0h2m-1 0h2m6 0h2m6 0h2m0 0h2m2 0h2m-1 0h2m5 0h2m6 0h2m5 0h2m4 0h2m-1 0h2m12 0h2m5 0h2m2 0h2m1 0h2m0 0h2m-1 0h2m0 0h2m1 0h2m-1 0h2m-1 0h2m0 0h2m-1 0h2m0 0h2m-1 0h2m0 0h2m-1 0h2m-1 0h2m31 0h2m-1 0h2m-1 0h2m-1 0h2m-1 0h2m-1 0h2m-1 0h2m-1 0h2m4 0h2m-1 0h2m-1 0h2m-1 0h2m0 0h2m1 0h2m-1 0h2m1 0h2m-1 0h2m4 0h2m1 0h2m7 0h2m5 0h2m13 0h2m-257 1h2m46 0h2m17 0h2m6 0h2m-1 0h2m-1 0h2m6 0h2m0 0h2m1 0h2m-1 0h2m8 0h2m1 0h2m0 0h2m-1 0h2m-1 0h2m7 0h2m1 0h2m-1 0h2m5 0h2m8 0h2m-1 0h2m-1 0h2m0 0h2m-1 0h2m-1 0h2m1 0h2m-1 0h2m-1 0h2m-1 0h2m2 0h2m-1 0h2m-1 0h2m-1 0h2m27 0h2m-1 0h2m-1 0h2m-1 0h2m0 0h2m1 0h2m-1 0h2m0 0h2m-1 0h2m0 0h2m-1 0h2m-1 0h2m0 0h2m-1 0h2m0 0h2m7 0h2m-1 0h2m7 0h2m10 0h2m-240 1h2m53 0h2m5 0h2m8 0h2m1 0h2m1 0h2m0 0h2m1 0h2m4 0h2m6 0h2m-1 0h2m1 0h2m11 0h2m-1 0h2m5 0h2m-1 0h2m7 0h2m0 0h2m4 0h2m2 0h2m0 0h2m-1 0h2m-1 0h2m0 0h2m-1 0h2m-1 0h2m-1 0h2m-1 0h2m0 0h2m-1 0h2m-1 0h2m-1 0h2m23 0h2m-1 0h2m-1 0h2m-1 0h2m-1 0h2m-1 0h2m-1 0h2m0 0h2m-1 0h2m-1 0h2m2 0h2m3 0h2m-1 0h2m-1 0h2m-1 0h2m-1 0h2m-1 0h2m-1 0h2m0 0h2m18 0h2m-272 1h2m59 0h2m22 0h2m17 0h2m5 0h2m6 0h2m4 0h2m3 0h2m20 0h2m-1 0h2m-1 0h2m3 0h2m16 0h2m1 0h2m-1 0h2m0 0h2m-1 0h2m-1 0h2m1 0h2m-1 0h2m-1 0h2m-1 0h2m0 0h2m0 0h2m-1 0h2m0 0h2m0 0h2m-1 0h2m1 0h2m-1 0h2m-1 0h2m-1 0h2m-1 0h2m-1 0h2m-1 0h2m-1 0h2m-1 0h2m0 0h2m-1 0h2m0 0h2m-1 0h2m0 0h2m-1 0h2m0 0h2m-1 0h2m-1 0h2m0 0h2m-1 0h2m0 0h2m-1 0h2m-1 0h2m1 0h2m2 0h2m1 0h2m10 0h2m2 0h2m3 0h2m-1 0h2m37 0h2m6 0h2m-314 1h2m17 0h2m10 0h2m4 0h2m0 0h2m3 0h2m2 0h2m3 0h2m17 0h2m40 0h2m0 0h2m1 0h2m7 0h2m6 0h2m5 0h2m5 0h2m4 0h2m13 0h2m3 0h2m-1 0h2m0 0h2m-1 0h2m1 0h2m-1 0h2m0 0h2m-1 0h2m2 0h2m0 0h2m1 0h2m-1 0h2m-1 0h2m-1 0h2m-1 0h2m-1 0h2m-1 0h2m-1 0h2m-1 0h2m-1 0h2m-1 0h2m-1 0h2m-1 0h2m-1 0h2m-1 0h2m-1 0h2m-1 0h2m-1 0h2m0 0h2m-1 0h2m-1 0h2m-1 0h2m-1 0h2m-1 0h2m-1 0h2m-1 0h2m0 0h2m-1 0h2m0 0h2m-1 0h2m-1 0h2m1 0h2m1 0h2m-1 0h2m-1 0h2m1 0h2m1 0h2m2 0h2m-1 0h2m0 0h2m19 0h2m-211 1h2m11 0h2m8 0h2m6 0h2m1 0h2m24 0h2m5 0h2m6 0h2m-1 0h2m4 0h2m5 0h2m7 0h2m8 0h2m4 0h2m0 0h2m1 0h2m1 0h2m2 0h2m0 0h2m0 0h2m0 0h2m1 0h2m-1 0h2m-1 0h2m0 0h2m0 0h2m-1 0h2m-1 0h2m0 0h2m-1 0h2m-1 0h2m-1 0h2m-1 0h2m-1 0h2m0 0h2m0 0h2m-1 0h2m-1 0h2m1 0h2m0 0h2m-1 0h2m2 0h2m1 0h2m-1 0h2m4 0h2m-1 0h2m-1 0h2m2 0h2m0 0h2m-1 0h2m8 0h2m-1 0h2m4 0h2m4 0h2m7 0h2m-288 1h2m73 0h2m1 0h2m3 0h2m1 0h2m14 0h2m12 0h2m1 0h2m23 0h2m8 0h2m11 0h2m5 0h2m0 0h2m-1 0h2m6 0h2m0 0h2m-1 0h2m2 0h2m-1 0h2m-1 0h2m-1 0h2m-1 0h2m3 0h2m-1 0h2m0 0h2m-1 0h2m0 0h2m2 0h2m0 0h2m-1 0h2m0 0h2m0 0h2m-1 0h2m-1 0h2m-1 0h2m-1 0h2m0 0h2m-1 0h2m-1 0h2m0 0h2m0 0h2m-1 0h2m1 0h2m1 0h2m-1 0h2m2 0h2m0 0h2m3 0h2m-1 0h2m-1 0h2m2 0h2m3 0h2m-1 0h2m2 0h2m0 0h2m8 0h2m12 0h2m-1 0h2m-231 1h2m1 0h2m0 0h2m1 0h2m20 0h2m16 0h2m3 0h2m13 0h2m2 0h2m1 0h2m29 0h2m0 0h2m2 0h2m-1 0h2m2 0h2m0 0h2m5 0h2m-1 0h2m-1 0h2m1 0h2m2 0h2m-1 0h2m-1 0h2m3 0h2m1 0h2m-1 0h2m0 0h2m-1 0h2m-1 0h2m-1 0h2m1 0h2m-1 0h2m-1 0h2m-1 0h2m-1 0h2m0 0h2m0 0h2m0 0h2m1 0h2m1 0h2m0 0h2m-1 0h2m0 0h2m2 0h2m-1 0h2m0 0h2m3 0h2m3 0h2m16 0h2m-199 1h2m14 0h2m-1 0h2m1 0h2m63 0h2m5 0h2m7 0h2m0 0h2m2 0h2m9 0h2m0 0h2m2 0h2m-1 0h2m1 0h2m-1 0h2m-1 0h2m1 0h2m-1 0h2m1 0h2m0 0h2m0 0h2m1 0h2m1 0h2m2 0h2m-1 0h2m0 0h2m0 0h2m3 0h2m0 0h2m6 0h2m12 0h2m7 0h2m5 0h2m-225 1h2m17 0h2m2 0h2m45 0h2m1 0h2m1 0h2m0 0h2m2 0h2m13 0h2m0 0h2m3 0h2m-1 0h2m11 0h2m5 0h2m0 0h2m3 0h2m6 0h2m2 0h2m0 0h2m-1 0h2m3 0h2m3 0h2m-1 0h2m2 0h2m0 0h2m-1 0h2m-1 0h2m0 0h2m0 0h2m-1 0h2m-1 0h2m-1 0h2m-1 0h2m1 0h2m3 0h2m3 0h2m1 0h2m-1 0h2m1 0h2m6 0h2m1 0h2m0 0h2m-1 0h2m1 0h2m-267 1h2m35 0h2m5 0h2m20 0h2m3 0h2m17 0h2m0 0h2m28 0h2m36 0h2m0 0h2m11 0h2m5 0h2m0 0h2m-1 0h2m1 0h2m4 0h2m3 0h2m7 0h2m-1 0h2m-1 0h2m1 0h2m3 0h2m3 0h2m-1 0h2m0 0h2m1 0h2m-1 0h2m-1 0h2m5 0h2m0 0h2m1 0h2m-1 0h2m-1 0h2m-1 0h2m59 0h2m21 0h2m-298 1h2m6 0h2m41 0h2m17 0h2m7 0h2m-1 0h2m1 0h2m14 0h2m-1 0h2m-1 0h2m1 0h2m1 0h2m5 0h2m6 0h2m2 0h2m5 0h2m4 0h2m5 0h2m2 0h2m1 0h2m4 0h2m-1 0h2m0 0h2m0 0h2m0 0h2m0 0h2m-1 0h2m-1 0h2m7 0h2m-1 0h2m4 0h2m-1 0h2m4 0h2m4 0h2m0 0h2m-1 0h2m1 0h2m-1 0h2m2 0h2m3 0h2m8 0h2m19 0h2m3 0h2m-182 1h2m12 0h2m2 0h2m0 0h2m19 0h2m26 0h2m3 0h2m3 0h2m2 0h2m8 0h2m9 0h2m4 0h2m0 0h2m0 0h2m0 0h2m1 0h2m0 0h2m-1 0h2m-1 0h2m4 0h2m-1 0h2m1 0h2m1 0h2m2 0h2m0 0h2m-1 0h2m-202 1h2m13 0h2m0 0h2m17 0h2m16 0h2m5 0h2m10 0h2m24 0h2m18 0h2m-1 0h2m36 0h2m5 0h2m1 0h2m-1 0h2m7 0h2m9 0h2m-1 0h2m2 0h2m14 0h2m-252 1h2m28 0h2m24 0h2m26 0h2m5 0h2m7 0h2m25 0h2m0 0h2m-1 0h2m9 0h2m8 0h2m14 0h2m2 0h2m1 0h2m-1 0h2m3 0h2m26 0h2m3 0h2m6 0h2m-1 0h2m-1 0h2m1 0h2m-1 0h2m0 0h2m1 0h2m7 0h2m7 0h2m-231 1h2m62 0h2m13 0h2m14 0h2m0 0h2m18 0h2m19 0h2m0 0h2m0 0h2m0 0h2m5 0h2m-1 0h2m2 0h2m-1 0h2m-1 0h2m30 0h2m3 0h2m1 0h2m4 0h2m0 0h2m11 0h2m14 0h2m-261 1h2m89 0h2m54 0h2m9 0h2m11 0h2m7 0h2m0 0h2m-1 0h2m14 0h2m2 0h2m1 0h2m5 0h2m1 0h2m6 0h2m6 0h2m3 0h2m-1 0h2m4 0h2m-207 1h2m5 0h2m11 0h2m14 0h2m26 0h2m9 0h2m6 0h2m5 0h2m1 0h2m3 0h2m6 0h2m2 0h2m7 0h2m43 0h2m2 0h2m1 0h2m2 0h2m5 0h2m6 0h2m-1 0h2m16 0h2m2 0h2m14 0h2m-276 1h2m35 0h2m56 0h2m15 0h2m1 0h2m2 0h2m7 0h2m0 0h2m2 0h2m42 0h2m-1 0h2m12 0h2m7 0h2m9 0h2m-1 0h2m4 0h2m1 0h2m7 0h2m9 0h2m1 0h2m-223 1h2m86 0h2m7 0h2m11 0h2m8 0h2m3 0h2m-1 0h2m7 0h2m3 0h2m10 0h2m30 0h2m6 0h2m16 0h2m25 0h2m-157 1h2m4 0h2m5 0h2m7 0h2m34 0h2m6 0h2m6 0h2m29 0h2m14 0h2m2 0h2m6 0h2m0 0h2m6 0h2m28 0h2m-244 1h2m18 0h2m54 0h2m5 0h2m21 0h2m63 0h2m29 0h2m-244 1h2m33 0h2m63 0h2m6 0h2m3 0h2m26 0h2m3 0h2m32 0h2m14 0h2m-1 0h2m3 0h2m0 0h2m16 0h2m-1 0h2m9 0h2m7 0h2m15 0h2m-238 1h2m11 0h2m11 0h2m33 0h2m38 0h2m3 0h2m12 0h2m18 0h2m32 0h2m15 0h2m10 0h2m38 0h2m4 0h2m-241 1h2m35 0h2m19 0h2m9 0h2m26 0h2m13 0h2m11 0h2m3 0h2m17 0h2m10 0h2m0 0h2m2 0h2m14 0h2m11 0h2m19 0h2m-241 1h2m64 0h2m25 0h2m8 0h2m27 0h2m21 0h2m6 0h2m2 0h2m-1 0h2m20 0h2m0 0h2m30 0h2m3 0h2m21 0h2m4 0h2m-236 1h2m67 0h2m7 0h2m7 0h2m12 0h2m-1 0h2m30 0h2m7 0h2m17 0h2m1 0h2m60 0h2m-227 1h2m-1 0h2m0 0h2m27 0h2m6 0h2m3 0h2m25 0h2m1 0h2m16 0h2m5 0h2m-1 0h2m0 0h2m9 0h2m3 0h2m9 0h2m12 0h2m64 0h2m39 0h2m-287 1h2m45 0h2m26 0h2m31 0h2m13 0h2m5 0h2m25 0h2m1 0h2m26 0h2m22 0h2m15 0h2m16 0h2m37 0h2m-265 1h2m112 0h2m-1 0h2m28 0h2m-49 1h2m1 0h2m0 0h2m32 0h2m-1 0h2m5 0h2m0 0h2m2 0h2m18 0h2m12 0h2m-1 0h2m-172 1h2m38 0h2m47 0h2m3 0h2m17 0h2m7 0h2m9 0h2m5 0h2m-150 1h2m31 0h2m28 0h2m19 0h2m6 0h2m-25 1h2m17 0h2m58 0h2m-176 1h2m77 0h2m19 0h2m-1 0h2m2 0h2m24 0h2m18 0h2m74 0h2m-166 1h2m21 0h2m17 0h2m22 0h2m4 0h2m9 0h2m18 0h2m44 0h2m25 0h2m-165 1h2m7 0h2m19 0h2m38 0h2m5 0h2m35 0h2m-128 1h2m33 0h2m22 0h2m75 0h2m-130 1h2m30 0h2m88 1h2" stroke="#000" stroke-width="2.5" fill="none"/>
<path d="M1051 1762h2M1067 1716h2M1022 1765h2M1052 1724h2M1059 1746h2M1053 1753h2M1109 1742h2M1070 1743h2M1070 1766h2M1103 1723h2M1081 1714h2M1039 1752h2" stroke="#fff" stroke-width="1.8" fill="none" opacity="0.45"/>
</g>
<rect x="318.5" y="2154.3" width="406.5" height="373.1" fill="#fff" stroke="#707070" stroke-width="2.6"/>
<line x1="428.2" y1="2154.3" x2="428.2" y2="2527.4" stroke="#707070" stroke-width="2.4"/>
<line x1="714" y1="2154.3" x2="714" y2="2527.4" stroke="#707070" stroke-width="2.2"/>
<path d="M317.5 2482.3h-15M317.5 2408.5h-15M317.5 2334.7h-15M317.5 2260.8h-15M317.5 2187h-15M317.5 2520.9h-8.5M317.5 2511.7h-8.5M317.5 2504.5h-8.5M317.5 2498.7h-8.5M317.5 2493.7h-8.5M317.5 2489.5h-8.5M317.5 2485.7h-8.5M317.5 2460.1h-8.5M317.5 2447.1h-8.5M317.5 2437.9h-8.5M317.5 2430.7h-8.5M317.5 2424.9h-8.5M317.5 2419.9h-8.5M317.5 2415.6h-8.5M317.5 2411.9h-8.5M317.5 2386.3h-8.5M317.5 2373.3h-8.5M317.5 2364h-8.5M317.5 2356.9h-8.5M317.5 2351h-8.5M317.5 2346.1h-8.5M317.5 2341.8h-8.5M317.5 2338h-8.5M317.5 2312.4h-8.5M317.5 2299.4h-8.5M317.5 2290.2h-8.5M317.5 2283h-8.5M317.5 2277.2h-8.5M317.5 2272.3h-8.5M317.5 2268h-8.5M317.5 2264.2h-8.5M317.5 2238.6h-8.5M317.5 2225.6h-8.5M317.5 2216.4h-8.5M317.5 2209.2h-8.5M317.5 2203.4h-8.5M317.5 2198.4h-8.5M317.5 2194.2h-8.5M317.5 2190.4h-8.5M317.5 2164.8h-8.5M318.5 2528.4v18M324 2528.4v10M340.5 2528.4v10M359.8 2528.4v17M405 2528.4v17M424.6 2528.4v10M448.2 2528.4v10M459.5 2528.4v10M468.3 2528.4v10M475.4 2528.4v10M481.5 2528.4v10M486.7 2528.4v10M491.4 2528.4v10M495.5 2528.4v17M525.5 2528.4v10M543 2528.4v10M555.4 2528.4v10M565 2528.4v10M572.9 2528.4v10M579.6 2528.4v10M585.4 2528.4v10M590.4 2528.4v10M595 2528.4v17M622.1 2528.4v10M637.9 2528.4v10M649.2 2528.4v10M657.9 2528.4v10M665 2528.4v10M671.1 2528.4v10M676.3 2528.4v10M680.9 2528.4v10M685 2528.4v17M714 2528.4v12" stroke="#666" stroke-width="2" fill="none"/>
<line x1="381.3" y1="2528.4" x2="381.3" y2="2545.4" stroke="#333" stroke-width="3.5"/>
<line x1="384.8" y1="2528.4" x2="384.8" y2="2545.4" stroke="#333" stroke-width="3.5"/>
<text x="301" y="2195.5" font-size="14.5" text-anchor="start" fill="#686868" transform="rotate(-90 301 2195.5)" font-weight="bold">10<tspan font-size="10.5" dy="-6.5">5</tspan></text>
<text x="301" y="2269.5" font-size="14.5" text-anchor="start" fill="#686868" transform="rotate(-90 301 2269.5)" font-weight="bold">10<tspan font-size="10.5" dy="-6.5">4</tspan></text>
<text x="301" y="2343.2" font-size="14.5" text-anchor="start" fill="#686868" transform="rotate(-90 301 2343.2)" font-weight="bold">10<tspan font-size="10.5" dy="-6.5">3</tspan></text>
<text x="301" y="2418.2" font-size="14.5" text-anchor="start" fill="#686868" transform="rotate(-90 301 2418.2)" font-weight="bold">10<tspan font-size="10.5" dy="-6.5">2</tspan></text>
<text x="301" y="2490.8" font-size="14.5" text-anchor="start" fill="#686868" transform="rotate(-90 301 2490.8)" font-weight="bold">10<tspan font-size="10.5" dy="-6.5">1</tspan></text>
<text x="317.3" y="2574.5" font-size="14.5" text-anchor="middle" fill="#686868" font-weight="bold">-344</text>
<text x="357.5" y="2564" font-size="14.5" text-anchor="middle" fill="#686868" font-weight="bold">-10<tspan font-size="10.5" dy="-6.5">2</tspan></text>
<text x="380.8" y="2564" font-size="14.5" text-anchor="middle" fill="#686868" font-weight="bold">0</text>
<text x="405" y="2564" font-size="14.5" text-anchor="middle" fill="#686868" font-weight="bold">10<tspan font-size="10.5" dy="-6.5">2</tspan></text>
<text x="497" y="2564" font-size="14.5" text-anchor="middle" fill="#686868" font-weight="bold">10<tspan font-size="10.5" dy="-6.5">3</tspan></text>
<text x="596" y="2564" font-size="14.5" text-anchor="middle" fill="#686868" font-weight="bold">10<tspan font-size="10.5" dy="-6.5">4</tspan></text>
<text x="686" y="2564" font-size="14.5" text-anchor="middle" fill="#686868" font-weight="bold">10<tspan font-size="10.5" dy="-6.5">5</tspan></text>
<text x="526" y="2141.2" font-size="49" text-anchor="middle" fill="#111">Control</text>
<text x="608.5" y="2213.7" font-size="49" text-anchor="middle" fill="#111">90.7%</text>
<g filter="url(#bl)">
<path d="M467.3 2359.9 L478.4 2344.4 L496.2 2331 L518.4 2319.9 L540.6 2308.8 L558.4 2297.7 L576.2 2288.8 L587.3 2291 L585.1 2306.6 L576.2 2326.6 L571.7 2344.4 L560.6 2359.9 L542.8 2373.3 L522.8 2382.1 L500.6 2379.9 L480.6 2373.3 Z" fill="#000" stroke="#000" stroke-width="2" stroke-linejoin="round"/>
<path d="M562 2249h2m21 6h2m-2 3h2m-114 1h2m88 0h2m38 0h2m-43 1h2m23 0h2m-12 1h2m10 0h2m-23 1h2m5 0h2m1 0h2m-1 0h2m-7 1h2m11 0h2m12 0h2m26 0h2m38 0h2m-142 1h2m17 1h2m45 0h2m-5 1h2m-28 1h2m-39 1h2m20 0h2m3 0h2m22 0h2m36 0h2m33 0h2m-161 1h2m64 1h2m25 0h2m3 0h2m26 0h2m-1 0h2m17 0h2m3 0h2m-127 1h2m30 0h2m0 0h2m13 0h2m8 0h2m0 0h2m37 0h2m-39 1h2m-37 1h2m3 0h2m1 0h2m33 0h2m1 0h2m-1 0h2m14 0h2m-70 1h2m10 0h2m8 0h2m1 0h2m5 0h2m29 0h2m48 0h2m-141 1h2m2 0h2m16 0h2m6 0h2m14 0h2m0 0h2m0 0h2m1 0h2m30 0h2m6 0h2m13 0h2m-94 1h2m15 0h2m12 0h2m16 0h2m2 0h2m3 0h2m8 0h2m6 0h2m-145 1h2m79 0h2m16 0h2m1 0h2m0 0h2m30 0h2m-115 1h2m8 0h2m9 0h2m1 0h2m27 0h2m10 0h2m11 0h2m27 0h2m49 0h2m-151 1h2m33 0h2m11 0h2m2 0h2m8 0h2m4 0h2m10 0h2m4 0h2m-1 0h2m1 0h2m7 0h2m4 0h2m-218 1h2m75 0h2m91 0h2m0 0h2m3 0h2m3 0h2m5 0h2m3 0h2m3 0h2m9 0h2m-224 1h2m157 0h2m21 0h2m9 0h2m0 0h2m-1 0h2m10 0h2m3 0h2m0 0h2m1 0h2m1 0h2m22 0h2m-198 1h2m12 0h2m52 0h2m29 0h2m33 0h2m5 0h2m1 0h2m0 0h2m15 0h2m8 0h2m4 0h2m-104 1h2m29 0h2m10 0h2m13 0h2m3 0h2m-1 0h2m8 0h2m2 0h2m5 0h2m-1 0h2m-1 0h2m-198 1h2m26 0h2m17 0h2m49 0h2m24 0h2m36 0h2m-1 0h2m0 0h2m0 0h2m0 0h2m-1 0h2m0 0h2m1 0h2m0 0h2m0 0h2m1 0h2m1 0h2m-1 0h2m-1 0h2m-1 0h2m-1 0h2m1 0h2m-1 0h2m6 0h2m1 0h2m6 0h2m57 0h2m-224 1h2m55 0h2m9 0h2m9 0h2m-1 0h2m7 0h2m17 0h2m7 0h2m-1 0h2m3 0h2m0 0h2m-1 0h2m0 0h2m-1 0h2m-1 0h2m3 0h2m-1 0h2m-1 0h2m-1 0h2m-1 0h2m-1 0h2m-1 0h2m5 0h2m4 0h2m0 0h2m-1 0h2m1 0h2m1 0h2m-224 1h2m101 0h2m62 0h2m0 0h2m4 0h2m0 0h2m-1 0h2m0 0h2m2 0h2m3 0h2m0 0h2m0 0h2m-1 0h2m-1 0h2m-1 0h2m-1 0h2m-1 0h2m-1 0h2m-1 0h2m0 0h2m-1 0h2m-1 0h2m-1 0h2m2 0h2m0 0h2m1 0h2m-155 1h2m47 0h2m31 0h2m17 0h2m3 0h2m1 0h2m2 0h2m4 0h2m5 0h2m-1 0h2m3 0h2m-1 0h2m0 0h2m-1 0h2m0 0h2m1 0h2m-1 0h2m1 0h2m8 0h2m12 0h2m4 0h2m-212 1h2m2 0h2m21 0h2m27 0h2m17 0h2m14 0h2m2 0h2m3 0h2m19 0h2m14 0h2m-1 0h2m2 0h2m0 0h2m4 0h2m0 0h2m0 0h2m4 0h2m0 0h2m-1 0h2m-1 0h2m0 0h2m-1 0h2m-1 0h2m-1 0h2m-1 0h2m-1 0h2m-1 0h2m-1 0h2m-1 0h2m-1 0h2m-1 0h2m0 0h2m0 0h2m-1 0h2m-1 0h2m0 0h2m5 0h2m21 0h2m43 0h2m-216 1h2m5 0h2m34 0h2m2 0h2m21 0h2m13 0h2m6 0h2m1 0h2m2 0h2m0 0h2m-1 0h2m1 0h2m-1 0h2m0 0h2m-1 0h2m-1 0h2m1 0h2m1 0h2m-1 0h2m-1 0h2m-1 0h2m-1 0h2m-1 0h2m-1 0h2m-1 0h2m-1 0h2m-1 0h2m-1 0h2m0 0h2m-1 0h2m0 0h2m2 0h2m1 0h2m-1 0h2m6 0h2m0 0h2m12 0h2m-240 1h2m0 0h2m13 0h2m2 0h2m10 0h2m4 0h2m-1 0h2m4 0h2m26 0h2m39 0h2m1 0h2m1 0h2m36 0h2m4 0h2m1 0h2m-1 0h2m5 0h2m0 0h2m2 0h2m-1 0h2m-1 0h2m0 0h2m2 0h2m0 0h2m-1 0h2m-1 0h2m-1 0h2m5 0h2m-1 0h2m-1 0h2m-1 0h2m-1 0h2m-1 0h2m0 0h2m0 0h2m-1 0h2m-1 0h2m4 0h2m1 0h2m0 0h2m-185 1h2m23 0h2m43 0h2m2 0h2m7 0h2m12 0h2m7 0h2m-1 0h2m13 0h2m0 0h2m6 0h2m-1 0h2m0 0h2m2 0h2m-1 0h2m-1 0h2m0 0h2m-1 0h2m0 0h2m-1 0h2m-1 0h2m-1 0h2m-1 0h2m-1 0h2m-1 0h2m13 0h2m1 0h2m-1 0h2m0 0h2m-1 0h2m8 0h2m5 0h2m52 0h2m-244 1h2m9 0h2m33 0h2m62 0h2m8 0h2m3 0h2m-1 0h2m4 0h2m-1 0h2m-1 0h2m1 0h2m-1 0h2m-1 0h2m0 0h2m0 0h2m-1 0h2m-1 0h2m-1 0h2m-1 0h2m16 0h2m-1 0h2m-1 0h2m5 0h2m6 0h2m-1 0h2m-211 1h2m93 0h2m17 0h2m6 0h2m5 0h2m4 0h2m8 0h2m2 0h2m2 0h2m1 0h2m-1 0h2m-1 0h2m1 0h2m-1 0h2m0 0h2m-1 0h2m-1 0h2m0 0h2m0 0h2m-1 0h2m17 0h2m-1 0h2m0 0h2m1 0h2m-209 1h2m11 0h2m65 0h2m25 0h2m0 0h2m27 0h2m11 0h2m0 0h2m0 0h2m2 0h2m0 0h2m-1 0h2m0 0h2m0 0h2m-1 0h2m-1 0h2m0 0h2m-1 0h2m1 0h2m-1 0h2m-1 0h2m-1 0h2m-1 0h2m-1 0h2m-1 0h2m20 0h2m-1 0h2m-1 0h2m1 0h2m-1 0h2m5 0h2m20 0h2m5 0h2m-253 1h2m19 0h2m9 0h2m35 0h2m0 0h2m31 0h2m-1 0h2m30 0h2m-1 0h2m1 0h2m-1 0h2m15 0h2m0 0h2m0 0h2m1 0h2m0 0h2m3 0h2m0 0h2m-1 0h2m-1 0h2m1 0h2m-1 0h2m-1 0h2m-1 0h2m-1 0h2m-1 0h2m-1 0h2m20 0h2m4 0h2m-1 0h2m0 0h2m1 0h2m10 0h2m-250 1h2m10 0h2m12 0h2m28 0h2m27 0h2m3 0h2m1 0h2m23 0h2m6 0h2m12 0h2m-1 0h2m27 0h2m8 0h2m0 0h2m-1 0h2m-1 0h2m0 0h2m1 0h2m-1 0h2m-1 0h2m-1 0h2m-1 0h2m-1 0h2m0 0h2m-1 0h2m-1 0h2m-1 0h2m23 0h2m-1 0h2m0 0h2m0 0h2m1 0h2m-1 0h2m0 0h2m-1 0h2m-212 1h2m1 0h2m32 0h2m24 0h2m19 0h2m10 0h2m18 0h2m1 0h2m10 0h2m1 0h2m5 0h2m4 0h2m1 0h2m-1 0h2m2 0h2m0 0h2m0 0h2m0 0h2m-1 0h2m0 0h2m-1 0h2m0 0h2m-1 0h2m-1 0h2m-1 0h2m-1 0h2m25 0h2m-1 0h2m1 0h2m-1 0h2m1 0h2m5 0h2m3 0h2m2 0h2m-241 1h2m1 0h2m55 0h2m0 0h2m2 0h2m52 0h2m6 0h2m19 0h2m8 0h2m1 0h2m3 0h2m6 0h2m0 0h2m-1 0h2m0 0h2m0 0h2m0 0h2m-1 0h2m28 0h2m-1 0h2m-1 0h2m0 0h2m-1 0h2m-1 0h2m4 0h2m-228 1h2m17 0h2m47 0h2m21 0h2m13 0h2m12 0h2m0 0h2m2 0h2m6 0h2m1 0h2m3 0h2m3 0h2m-1 0h2m2 0h2m5 0h2m0 0h2m3 0h2m-1 0h2m-1 0h2m-1 0h2m0 0h2m-1 0h2m0 0h2m0 0h2m2 0h2m-1 0h2m-1 0h2m-1 0h2m28 0h2m-1 0h2m-1 0h2m-1 0h2m-1 0h2m-1 0h2m-1 0h2m8 0h2m-1 0h2m12 0h2m-255 1h2m24 0h2m20 0h2m37 0h2m37 0h2m1 0h2m40 0h2m0 0h2m0 0h2m-1 0h2m-1 0h2m1 0h2m1 0h2m-1 0h2m0 0h2m-1 0h2m-1 0h2m-1 0h2m-1 0h2m30 0h2m-1 0h2m-1 0h2m-1 0h2m-1 0h2m0 0h2m-1 0h2m2 0h2m26 0h2m-262 1h2m49 0h2m28 0h2m7 0h2m8 0h2m31 0h2m4 0h2m18 0h2m6 0h2m-1 0h2m-1 0h2m-1 0h2m2 0h2m0 0h2m-1 0h2m-1 0h2m0 0h2m-1 0h2m-1 0h2m0 0h2m0 0h2m-1 0h2m32 0h2m-1 0h2m-1 0h2m-1 0h2m-1 0h2m-1 0h2m3 0h2m-191 1h2m24 0h2m52 0h2m21 0h2m4 0h2m4 0h2m-1 0h2m3 0h2m-1 0h2m-1 0h2m1 0h2m-1 0h2m-1 0h2m1 0h2m1 0h2m1 0h2m-1 0h2m0 0h2m-1 0h2m-1 0h2m-1 0h2m-1 0h2m33 0h2m-1 0h2m-1 0h2m-1 0h2m-1 0h2m-1 0h2m2 0h2m-1 0h2m3 0h2m-1 0h2m-233 1h2m37 0h2m8 0h2m26 0h2m7 0h2m21 0h2m11 0h2m0 0h2m28 0h2m-1 0h2m0 0h2m1 0h2m1 0h2m2 0h2m0 0h2m-1 0h2m-1 0h2m0 0h2m-1 0h2m-1 0h2m-1 0h2m-1 0h2m-1 0h2m35 0h2m-1 0h2m-1 0h2m-1 0h2m-1 0h2m1 0h2m5 0h2m-1 0h2m5 0h2m-204 1h2m49 0h2m35 0h2m4 0h2m4 0h2m5 0h2m-1 0h2m1 0h2m8 0h2m0 0h2m-1 0h2m2 0h2m0 0h2m-1 0h2m-1 0h2m-1 0h2m1 0h2m-1 0h2m-1 0h2m-1 0h2m0 0h2m-1 0h2m-1 0h2m35 0h2m-1 0h2m-1 0h2m-1 0h2m4 0h2m0 0h2m1 0h2m1 0h2m0 0h2m5 0h2m-231 1h2m53 0h2m3 0h2m37 0h2m5 0h2m8 0h2m-1 0h2m1 0h2m9 0h2m1 0h2m3 0h2m2 0h2m2 0h2m-1 0h2m-1 0h2m0 0h2m-1 0h2m2 0h2m0 0h2m-1 0h2m0 0h2m-1 0h2m-1 0h2m38 0h2m-1 0h2m0 0h2m-1 0h2m1 0h2m5 0h2m-211 1h2m14 0h2m38 0h2m4 0h2m11 0h2m-1 0h2m3 0h2m2 0h2m9 0h2m7 0h2m1 0h2m13 0h2m1 0h2m8 0h2m0 0h2m0 0h2m0 0h2m0 0h2m1 0h2m-1 0h2m0 0h2m-1 0h2m-1 0h2m-1 0h2m-1 0h2m-1 0h2m37 0h2m-1 0h2m-1 0h2m1 0h2m-1 0h2m4 0h2m-176 1h2m-1 0h2m14 0h2m-1 0h2m33 0h2m0 0h2m6 0h2m9 0h2m-1 0h2m4 0h2m0 0h2m11 0h2m0 0h2m-1 0h2m7 0h2m1 0h2m0 0h2m-1 0h2m-1 0h2m-1 0h2m0 0h2m-1 0h2m-1 0h2m40 0h2m-1 0h2m-1 0h2m0 0h2m-1 0h2m-1 0h2m0 0h2m-216 1h2m33 0h2m-1 0h2m7 0h2m10 0h2m25 0h2m7 0h2m2 0h2m4 0h2m-1 0h2m10 0h2m7 0h2m0 0h2m1 0h2m-1 0h2m3 0h2m0 0h2m1 0h2m6 0h2m-1 0h2m0 0h2m1 0h2m1 0h2m-1 0h2m-1 0h2m0 0h2m-1 0h2m41 0h2m-1 0h2m-1 0h2m-1 0h2m-1 0h2m1 0h2m-1 0h2m-1 0h2m-251 1h2m59 0h2m17 0h2m10 0h2m42 0h2m7 0h2m4 0h2m5 0h2m2 0h2m11 0h2m-1 0h2m3 0h2m-1 0h2m1 0h2m-1 0h2m-1 0h2m-1 0h2m-1 0h2m-1 0h2m0 0h2m-1 0h2m-1 0h2m-1 0h2m43 0h2m-1 0h2m-1 0h2m-1 0h2m0 0h2m-1 0h2m-1 0h2m0 0h2m-1 0h2m-246 1h2m42 0h2m-1 0h2m25 0h2m6 0h2m19 0h2m36 0h2m0 0h2m10 0h2m1 0h2m3 0h2m0 0h2m6 0h2m-1 0h2m0 0h2m1 0h2m-1 0h2m0 0h2m-1 0h2m-1 0h2m-1 0h2m-1 0h2m-1 0h2m46 0h2m-1 0h2m0 0h2m-1 0h2m-1 0h2m-1 0h2m1 0h2m1 0h2m0 0h2m-1 0h2m-1 0h2m0 0h2m-231 1h2m19 0h2m18 0h2m4 0h2m42 0h2m19 0h2m4 0h2m-1 0h2m0 0h2m-1 0h2m11 0h2m4 0h2m-1 0h2m-1 0h2m1 0h2m-1 0h2m0 0h2m-1 0h2m3 0h2m-1 0h2m-1 0h2m-1 0h2m-1 0h2m-1 0h2m-1 0h2m0 0h2m-1 0h2m44 0h2m-1 0h2m0 0h2m0 0h2m0 0h2m5 0h2m11 0h2m-223 1h2m20 0h2m11 0h2m0 0h2m24 0h2m11 0h2m31 0h2m-1 0h2m1 0h2m2 0h2m3 0h2m2 0h2m1 0h2m0 0h2m-1 0h2m-1 0h2m0 0h2m1 0h2m-1 0h2m-1 0h2m-1 0h2m-1 0h2m0 0h2m-1 0h2m47 0h2m-1 0h2m0 0h2m-1 0h2m-1 0h2m1 0h2m-1 0h2m0 0h2m13 0h2m-242 1h2m37 0h2m12 0h2m1 0h2m0 0h2m13 0h2m5 0h2m8 0h2m0 0h2m15 0h2m1 0h2m-1 0h2m0 0h2m1 0h2m1 0h2m2 0h2m10 0h2m-1 0h2m4 0h2m1 0h2m3 0h2m-1 0h2m-1 0h2m-1 0h2m-1 0h2m-1 0h2m0 0h2m-1 0h2m-1 0h2m-1 0h2m-1 0h2m-1 0h2m48 0h2m-1 0h2m0 0h2m-1 0h2m-1 0h2m-1 0h2m-1 0h2m2 0h2m-1 0h2m1 0h2m5 0h2m-218 1h2m2 0h2m45 0h2m43 0h2m0 0h2m14 0h2m0 0h2m-1 0h2m-1 0h2m-1 0h2m1 0h2m-1 0h2m3 0h2m0 0h2m4 0h2m0 0h2m-1 0h2m-1 0h2m-1 0h2m50 0h2m-1 0h2m-1 0h2m-1 0h2m1 0h2m-1 0h2m-1 0h2m-1 0h2m-1 0h2m-1 0h2m-1 0h2m6 0h2m4 0h2m-200 1h2m4 0h2m12 0h2m2 0h2m8 0h2m-1 0h2m4 0h2m15 0h2m2 0h2m14 0h2m1 0h2m-1 0h2m0 0h2m1 0h2m3 0h2m1 0h2m5 0h2m-1 0h2m1 0h2m-1 0h2m-1 0h2m-1 0h2m-1 0h2m-1 0h2m0 0h2m-1 0h2m-1 0h2m-1 0h2m-1 0h2m-1 0h2m-1 0h2m50 0h2m-1 0h2m0 0h2m0 0h2m-1 0h2m-1 0h2m-1 0h2m-1 0h2m0 0h2m0 0h2m3 0h2m-243 1h2m13 0h2m14 0h2m1 0h2m11 0h2m29 0h2m4 0h2m2 0h2m5 0h2m0 0h2m2 0h2m25 0h2m1 0h2m-1 0h2m5 0h2m3 0h2m5 0h2m3 0h2m2 0h2m-1 0h2m-1 0h2m-1 0h2m-1 0h2m-1 0h2m-1 0h2m-1 0h2m-1 0h2m57 0h2m-1 0h2m-1 0h2m-1 0h2m0 0h2m-1 0h2m-1 0h2m3 0h2m-1 0h2m5 0h2m-229 1h2m23 0h2m19 0h2m16 0h2m13 0h2m6 0h2m18 0h2m5 0h2m3 0h2m-1 0h2m-1 0h2m4 0h2m-1 0h2m0 0h2m-1 0h2m-1 0h2m-1 0h2m-1 0h2m-1 0h2m-1 0h2m-1 0h2m0 0h2m-1 0h2m-1 0h2m-1 0h2m-1 0h2m-1 0h2m-1 0h2m-1 0h2m54 0h2m0 0h2m-1 0h2m0 0h2m-1 0h2m-1 0h2m2 0h2m-1 0h2m0 0h2m1 0h2m-223 1h2m15 0h2m2 0h2m2 0h2m5 0h2m0 0h2m0 0h2m20 0h2m17 0h2m9 0h2m6 0h2m3 0h2m-1 0h2m6 0h2m2 0h2m2 0h2m0 0h2m0 0h2m-1 0h2m4 0h2m0 0h2m0 0h2m0 0h2m-1 0h2m0 0h2m-1 0h2m-1 0h2m-1 0h2m0 0h2m-1 0h2m-1 0h2m0 0h2m55 0h2m-1 0h2m-1 0h2m-1 0h2m-1 0h2m-1 0h2m-1 0h2m1 0h2m-1 0h2m9 0h2m1 0h2m-1 0h2m-219 1h2m7 0h2m4 0h2m6 0h2m0 0h2m68 0h2m9 0h2m1 0h2m0 0h2m-1 0h2m-1 0h2m0 0h2m1 0h2m-1 0h2m1 0h2m0 0h2m-1 0h2m-1 0h2m-1 0h2m-1 0h2m-1 0h2m-1 0h2m-1 0h2m-1 0h2m-1 0h2m57 0h2m-1 0h2m-1 0h2m-1 0h2m-1 0h2m-1 0h2m-1 0h2m0 0h2m-1 0h2m-1 0h2m-1 0h2m0 0h2m0 0h2m1 0h2m0 0h2m19 0h2m-249 1h2m14 0h2m9 0h2m10 0h2m2 0h2m0 0h2m17 0h2m-1 0h2m8 0h2m6 0h2m0 0h2m15 0h2m-1 0h2m1 0h2m3 0h2m12 0h2m2 0h2m0 0h2m-1 0h2m-1 0h2m-1 0h2m0 0h2m0 0h2m-1 0h2m-1 0h2m-1 0h2m-1 0h2m-1 0h2m-1 0h2m-1 0h2m58 0h2m0 0h2m-1 0h2m0 0h2m-1 0h2m-1 0h2m7 0h2m-1 0h2m1 0h2m1 0h2m-232 1h2m18 0h2m3 0h2m7 0h2m-1 0h2m53 0h2m2 0h2m1 0h2m16 0h2m2 0h2m4 0h2m-1 0h2m6 0h2m-1 0h2m-1 0h2m-1 0h2m-1 0h2m-1 0h2m-1 0h2m-1 0h2m-1 0h2m-1 0h2m-1 0h2m-1 0h2m60 0h2m-1 0h2m0 0h2m-1 0h2m-1 0h2m1 0h2m7 0h2m-1 0h2m8 0h2m0 0h2m-229 1h2m18 0h2m-1 0h2m0 0h2m3 0h2m4 0h2m9 0h2m8 0h2m7 0h2m21 0h2m15 0h2m0 0h2m-1 0h2m0 0h2m0 0h2m-1 0h2m0 0h2m-1 0h2m-1 0h2m-1 0h2m-1 0h2m-1 0h2m-1 0h2m1 0h2m-1 0h2m0 0h2m-1 0h2m-1 0h2m-1 0h2m-1 0h2m-1 0h2m-1 0h2m62 0h2m-1 0h2m0 0h2m-1 0h2m-1 0h2m-1 0h2m-1 0h2m0 0h2m3 0h2m0 0h2m-1 0h2m1 0h2m-1 0h2m1 0h2m-240 1h2m12 0h2m2 0h2m3 0h2m-1 0h2m13 0h2m5 0h2m10 0h2m3 0h2m12 0h2m4 0h2m14 0h2m15 0h2m-1 0h2m7 0h2m1 0h2m3 0h2m-1 0h2m0 0h2m-1 0h2m-1 0h2m-1 0h2m-1 0h2m-1 0h2m-1 0h2m-1 0h2m-1 0h2m-1 0h2m-1 0h2m-1 0h2m-1 0h2m63 0h2m-1 0h2m-1 0h2m-1 0h2m-1 0h2m-1 0h2m0 0h2m-1 0h2m-1 0h2m2 0h2m8 0h2m9 0h2m-240 1h2m2 0h2m2 0h2m9 0h2m0 0h2m1 0h2m5 0h2m5 0h2m4 0h2m12 0h2m9 0h2m10 0h2m3 0h2m1 0h2m3 0h2m7 0h2m-1 0h2m2 0h2m-1 0h2m-1 0h2m-1 0h2m3 0h2m-1 0h2m-1 0h2m0 0h2m1 0h2m0 0h2m0 0h2m-1 0h2m-1 0h2m-1 0h2m-1 0h2m-1 0h2m-1 0h2m-1 0h2m-1 0h2m-1 0h2m-1 0h2m65 0h2m-1 0h2m-1 0h2m-1 0h2m-1 0h2m2 0h2m-1 0h2m0 0h2m3 0h2m-217 1h2m2 0h2m2 0h2m-1 0h2m-1 0h2m13 0h2m3 0h2m7 0h2m4 0h2m15 0h2m-1 0h2m10 0h2m3 0h2m9 0h2m2 0h2m8 0h2m4 0h2m-1 0h2m1 0h2m0 0h2m-1 0h2m0 0h2m-1 0h2m-1 0h2m-1 0h2m-1 0h2m-1 0h2m0 0h2m-1 0h2m-1 0h2m68 0h2m-1 0h2m-1 0h2m0 0h2m2 0h2m4 0h2m7 0h2m-216 1h2m-1 0h2m4 0h2m3 0h2m2 0h2m3 0h2m0 0h2m17 0h2m-1 0h2m3 0h2m14 0h2m0 0h2m5 0h2m0 0h2m-1 0h2m15 0h2m-1 0h2m0 0h2m1 0h2m0 0h2m0 0h2m1 0h2m-1 0h2m-1 0h2m-1 0h2m-1 0h2m0 0h2m-1 0h2m-1 0h2m-1 0h2m-1 0h2m0 0h2m0 0h2m68 0h2m-1 0h2m-1 0h2m-1 0h2m0 0h2m-1 0h2m-1 0h2m0 0h2m4 0h2m-1 0h2m1 0h2m1 0h2m1 0h2m-241 1h2m0 0h2m3 0h2m5 0h2m8 0h2m0 0h2m0 0h2m10 0h2m4 0h2m18 0h2m5 0h2m4 0h2m6 0h2m27 0h2m1 0h2m0 0h2m2 0h2m-1 0h2m-1 0h2m3 0h2m-1 0h2m-1 0h2m-1 0h2m1 0h2m-1 0h2m72 0h2m-1 0h2m2 0h2m-1 0h2m-1 0h2m-1 0h2m2 0h2m47 0h2m-302 1h2m19 0h2m5 0h2m3 0h2m14 0h2m-1 0h2m0 0h2m9 0h2m9 0h2m0 0h2m7 0h2m3 0h2m0 0h2m1 0h2m-1 0h2m-1 0h2m2 0h2m5 0h2m22 0h2m6 0h2m2 0h2m5 0h2m1 0h2m2 0h2m0 0h2m-1 0h2m-1 0h2m-1 0h2m-1 0h2m-1 0h2m-1 0h2m71 0h2m-1 0h2m-1 0h2m-1 0h2m-1 0h2m0 0h2m-1 0h2m22 0h2m-253 1h2m13 0h2m4 0h2m8 0h2m9 0h2m9 0h2m4 0h2m-1 0h2m4 0h2m-1 0h2m4 0h2m7 0h2m3 0h2m2 0h2m1 0h2m0 0h2m4 0h2m0 0h2m3 0h2m2 0h2m-1 0h2m6 0h2m3 0h2m0 0h2m2 0h2m-1 0h2m-1 0h2m-1 0h2m-1 0h2m-1 0h2m-1 0h2m0 0h2m-1 0h2m-1 0h2m75 0h2m0 0h2m-1 0h2m-1 0h2m-1 0h2m3 0h2m18 0h2m-241 1h2m19 0h2m4 0h2m4 0h2m4 0h2m5 0h2m0 0h2m-1 0h2m2 0h2m5 0h2m8 0h2m19 0h2m0 0h2m1 0h2m1 0h2m-1 0h2m2 0h2m4 0h2m0 0h2m-1 0h2m-1 0h2m6 0h2m-1 0h2m0 0h2m-1 0h2m-1 0h2m-1 0h2m-1 0h2m-1 0h2m-1 0h2m-1 0h2m75 0h2m-1 0h2m-1 0h2m1 0h2m0 0h2m-1 0h2m-1 0h2m-1 0h2m-1 0h2m-1 0h2m16 0h2m0 0h2m-241 1h2m9 0h2m6 0h2m3 0h2m8 0h2m-1 0h2m-1 0h2m4 0h2m-1 0h2m14 0h2m11 0h2m22 0h2m1 0h2m-1 0h2m0 0h2m2 0h2m0 0h2m6 0h2m-1 0h2m0 0h2m-1 0h2m-1 0h2m-1 0h2m0 0h2m0 0h2m0 0h2m76 0h2m-1 0h2m0 0h2m-1 0h2m-1 0h2m0 0h2m-1 0h2m0 0h2m1 0h2m9 0h2m0 0h2m-208 1h2m3 0h2m6 0h2m0 0h2m17 0h2m7 0h2m7 0h2m8 0h2m2 0h2m4 0h2m-1 0h2m-1 0h2m1 0h2m1 0h2m1 0h2m0 0h2m-1 0h2m-1 0h2m1 0h2m1 0h2m-1 0h2m-1 0h2m-1 0h2m-1 0h2m-1 0h2m-1 0h2m-1 0h2m79 0h2m-1 0h2m-1 0h2m-1 0h2m6 0h2m4 0h2m-1 0h2m-219 1h2m-1 0h2m-1 0h2m3 0h2m6 0h2m2 0h2m-1 0h2m0 0h2m1 0h2m-1 0h2m-1 0h2m13 0h2m7 0h2m1 0h2m-1 0h2m1 0h2m1 0h2m1 0h2m-1 0h2m4 0h2m4 0h2m0 0h2m0 0h2m-1 0h2m-1 0h2m0 0h2m-1 0h2m2 0h2m-1 0h2m5 0h2m2 0h2m-1 0h2m-1 0h2m-1 0h2m1 0h2m0 0h2m-1 0h2m0 0h2m-1 0h2m-1 0h2m-1 0h2m80 0h2m-1 0h2m1 0h2m-1 0h2m-1 0h2m0 0h2m2 0h2m3 0h2m-1 0h2m9 0h2m-249 1h2m9 0h2m-1 0h2m21 0h2m4 0h2m10 0h2m6 0h2m24 0h2m13 0h2m2 0h2m0 0h2m-1 0h2m-1 0h2m2 0h2m4 0h2m0 0h2m1 0h2m0 0h2m0 0h2m0 0h2m-1 0h2m-1 0h2m-1 0h2m-1 0h2m81 0h2m-1 0h2m2 0h2m0 0h2m4 0h2m4 0h2m16 0h2m-254 1h2m10 0h2m6 0h2m5 0h2m8 0h2m2 0h2m6 0h2m4 0h2m10 0h2m15 0h2m22 0h2m-1 0h2m-1 0h2m-1 0h2m3 0h2m-1 0h2m1 0h2m-1 0h2m1 0h2m-1 0h2m-1 0h2m0 0h2m-1 0h2m-1 0h2m-1 0h2m81 0h2m-1 0h2m-1 0h2m0 0h2m-1 0h2m-1 0h2m-1 0h2m0 0h2m24 0h2m-246 1h2m6 0h2m-1 0h2m17 0h2m3 0h2m0 0h2m-1 0h2m0 0h2m4 0h2m6 0h2m0 0h2m8 0h2m7 0h2m3 0h2m2 0h2m0 0h2m0 0h2m6 0h2m5 0h2m0 0h2m4 0h2m-1 0h2m0 0h2m0 0h2m-1 0h2m0 0h2m-1 0h2m-1 0h2m-1 0h2m-1 0h2m-1 0h2m-1 0h2m-1 0h2m83 0h2m-1 0h2m1 0h2m-1 0h2m2 0h2m-1 0h2m-1 0h2m0 0h2m-1 0h2m4 0h2m9 0h2m-254 1h2m6 0h2m1 0h2m1 0h2m19 0h2m9 0h2m-1 0h2m-1 0h2m0 0h2m7 0h2m2 0h2m4 0h2m0 0h2m0 0h2m4 0h2m1 0h2m6 0h2m1 0h2m-1 0h2m3 0h2m7 0h2m7 0h2m1 0h2m3 0h2m1 0h2m-1 0h2m-1 0h2m-1 0h2m-1 0h2m-1 0h2m-1 0h2m-1 0h2m84 0h2m0 0h2m10 0h2m-225 1h2m0 0h2m3 0h2m15 0h2m3 0h2m3 0h2m-1 0h2m1 0h2m-1 0h2m2 0h2m3 0h2m-1 0h2m2 0h2m2 0h2m0 0h2m0 0h2m2 0h2m-1 0h2m0 0h2m0 0h2m0 0h2m6 0h2m3 0h2m0 0h2m-1 0h2m0 0h2m0 0h2m1 0h2m-1 0h2m1 0h2m0 0h2m1 0h2m-1 0h2m1 0h2m-1 0h2m-1 0h2m-1 0h2m0 0h2m-1 0h2m-1 0h2m0 0h2m0 0h2m-1 0h2m-1 0h2m-1 0h2m84 0h2m-1 0h2m-1 0h2m-1 0h2m-1 0h2m-1 0h2m-1 0h2m0 0h2m0 0h2m14 0h2m-248 1h2m14 0h2m0 0h2m4 0h2m9 0h2m5 0h2m-1 0h2m17 0h2m-1 0h2m0 0h2m0 0h2m2 0h2m7 0h2m8 0h2m-1 0h2m-1 0h2m2 0h2m4 0h2m1 0h2m-1 0h2m1 0h2m0 0h2m0 0h2m2 0h2m3 0h2m0 0h2m-1 0h2m-1 0h2m-1 0h2m0 0h2m0 0h2m-1 0h2m86 0h2m-1 0h2m-1 0h2m-1 0h2m0 0h2m1 0h2m1 0h2m-1 0h2m9 0h2m-256 1h2m14 0h2m2 0h2m11 0h2m-1 0h2m2 0h2m3 0h2m-1 0h2m5 0h2m0 0h2m6 0h2m0 0h2m0 0h2m1 0h2m0 0h2m0 0h2m3 0h2m0 0h2m0 0h2m1 0h2m0 0h2m4 0h2m0 0h2m-1 0h2m5 0h2m0 0h2m5 0h2m-1 0h2m-1 0h2m-1 0h2m0 0h2m11 0h2m0 0h2m-1 0h2m0 0h2m-1 0h2m0 0h2m-1 0h2m-1 0h2m-1 0h2m-1 0h2m88 0h2m-1 0h2m-1 0h2m-1 0h2m-1 0h2m-1 0h2m-1 0h2m1 0h2m7 0h2m16 0h2m-245 1h2m10 0h2m-1 0h2m1 0h2m-1 0h2m1 0h2m1 0h2m-1 0h2m-1 0h2m11 0h2m3 0h2m-1 0h2m-1 0h2m-1 0h2m7 0h2m0 0h2m-1 0h2m2 0h2m-1 0h2m-1 0h2m3 0h2m7 0h2m1 0h2m7 0h2m1 0h2m0 0h2m-1 0h2m-1 0h2m3 0h2m1 0h2m-1 0h2m-1 0h2m-1 0h2m1 0h2m0 0h2m-1 0h2m0 0h2m-1 0h2m88 0h2m-1 0h2m-1 0h2m-1 0h2m-1 0h2m3 0h2m2 0h2m-253 1h2m18 0h2m9 0h2m4 0h2m-1 0h2m3 0h2m7 0h2m0 0h2m6 0h2m2 0h2m-1 0h2m0 0h2m2 0h2m-1 0h2m2 0h2m4 0h2m5 0h2m2 0h2m6 0h2m1 0h2m0 0h2m-1 0h2m15 0h2m-1 0h2m0 0h2m2 0h2m1 0h2m-1 0h2m-1 0h2m1 0h2m0 0h2m-1 0h2m0 0h2m-1 0h2m89 0h2m-1 0h2m1 0h2m0 0h2m-208 1h2m-1 0h2m0 0h2m4 0h2m3 0h2m9 0h2m3 0h2m0 0h2m2 0h2m0 0h2m6 0h2m1 0h2m5 0h2m1 0h2m6 0h2m1 0h2m3 0h2m0 0h2m3 0h2m9 0h2m-1 0h2m0 0h2m0 0h2m-1 0h2m-1 0h2m-1 0h2m-1 0h2m-1 0h2m-1 0h2m-1 0h2m-1 0h2m-1 0h2m90 0h2m-1 0h2m-1 0h2m0 0h2m0 0h2m2 0h2m13 0h2m-243 1h2m5 0h2m-1 0h2m15 0h2m0 0h2m1 0h2m2 0h2m6 0h2m-1 0h2m2 0h2m1 0h2m0 0h2m0 0h2m2 0h2m1 0h2m0 0h2m1 0h2m1 0h2m-1 0h2m2 0h2m9 0h2m1 0h2m-1 0h2m0 0h2m5 0h2m-1 0h2m-1 0h2m9 0h2m0 0h2m1 0h2m-1 0h2m-1 0h2m-1 0h2m-1 0h2m-1 0h2m-1 0h2m-1 0h2m91 0h2m-1 0h2m-1 0h2m-1 0h2m-1 0h2m-1 0h2m0 0h2m1 0h2m-1 0h2m2 0h2m6 0h2m-240 1h2m5 0h2m2 0h2m6 0h2m11 0h2m-1 0h2m2 0h2m1 0h2m3 0h2m19 0h2m3 0h2m0 0h2m0 0h2m-1 0h2m-1 0h2m2 0h2m-1 0h2m4 0h2m0 0h2m-1 0h2m0 0h2m3 0h2m0 0h2m-1 0h2m3 0h2m0 0h2m0 0h2m0 0h2m0 0h2m1 0h2m-1 0h2m0 0h2m95 0h2m-1 0h2m1 0h2m1 0h2m3 0h2m-1 0h2m-215 1h2m1 0h2m1 0h2m1 0h2m4 0h2m1 0h2m1 0h2m2 0h2m-1 0h2m0 0h2m2 0h2m0 0h2m-1 0h2m-1 0h2m8 0h2m2 0h2m-1 0h2m0 0h2m0 0h2m7 0h2m0 0h2m1 0h2m2 0h2m-1 0h2m4 0h2m3 0h2m0 0h2m1 0h2m2 0h2m4 0h2m-1 0h2m95 0h2m-1 0h2m-1 0h2m-1 0h2m-1 0h2m4 0h2m0 0h2m2 0h2m2 0h2m-1 0h2m5 0h2m6 0h2m8 0h2m-278 1h2m13 0h2m1 0h2m10 0h2m17 0h2m1 0h2m0 0h2m-1 0h2m0 0h2m0 0h2m1 0h2m-1 0h2m-1 0h2m-1 0h2m0 0h2m0 0h2m0 0h2m-1 0h2m-1 0h2m1 0h2m3 0h2m6 0h2m1 0h2m-1 0h2m0 0h2m1 0h2m3 0h2m-1 0h2m1 0h2m-1 0h2m5 0h2m3 0h2m-1 0h2m-1 0h2m0 0h2m0 0h2m0 0h2m0 0h2m-1 0h2m-1 0h2m-1 0h2m-1 0h2m92 0h2m1 0h2m1 0h2m-1 0h2m0 0h2m0 0h2m5 0h2m-1 0h2m-1 0h2m-1 0h2m7 0h2m-1 0h2m-251 1h2m11 0h2m1 0h2m18 0h2m-1 0h2m-1 0h2m1 0h2m2 0h2m-1 0h2m-1 0h2m1 0h2m0 0h2m0 0h2m6 0h2m0 0h2m4 0h2m-1 0h2m-1 0h2m-1 0h2m-1 0h2m4 0h2m0 0h2m0 0h2m0 0h2m0 0h2m2 0h2m-1 0h2m1 0h2m0 0h2m-1 0h2m-1 0h2m0 0h2m1 0h2m-1 0h2m3 0h2m2 0h2m0 0h2m-1 0h2m-1 0h2m-1 0h2m-1 0h2m-1 0h2m-1 0h2m92 0h2m-1 0h2m-1 0h2m-1 0h2m-1 0h2m-1 0h2m-1 0h2m3 0h2m-1 0h2m0 0h2m4 0h2m-230 1h2m1 0h2m10 0h2m1 0h2m1 0h2m2 0h2m3 0h2m-1 0h2m-1 0h2m0 0h2m0 0h2m-1 0h2m3 0h2m15 0h2m-1 0h2m2 0h2m21 0h2m0 0h2m8 0h2m1 0h2m0 0h2m0 0h2m-1 0h2m-1 0h2m0 0h2m-1 0h2m-1 0h2m0 0h2m92 0h2m-1 0h2m-1 0h2m-1 0h2m1 0h2m3 0h2m11 0h2m13 0h2m-271 1h2m41 0h2m0 0h2m0 0h2m-1 0h2m1 0h2m2 0h2m0 0h2m0 0h2m3 0h2m-1 0h2m0 0h2m0 0h2m-1 0h2m1 0h2m-1 0h2m-1 0h2m-1 0h2m2 0h2m0 0h2m1 0h2m-1 0h2m3 0h2m-1 0h2m3 0h2m0 0h2m9 0h2m1 0h2m-1 0h2m0 0h2m8 0h2m1 0h2m-1 0h2m-1 0h2m-1 0h2m-1 0h2m-1 0h2m-1 0h2m92 0h2m-1 0h2m-1 0h2m-1 0h2m-1 0h2m-1 0h2m-1 0h2m-1 0h2m1 0h2m2 0h2m0 0h2m4 0h2m-267 1h2m45 0h2m-1 0h2m11 0h2m-1 0h2m4 0h2m7 0h2m5 0h2m1 0h2m0 0h2m-1 0h2m0 0h2m-1 0h2m0 0h2m2 0h2m1 0h2m-1 0h2m1 0h2m2 0h2m-1 0h2m3 0h2m0 0h2m-1 0h2m0 0h2m-1 0h2m-1 0h2m3 0h2m7 0h2m0 0h2m2 0h2m-1 0h2m-1 0h2m-1 0h2m-1 0h2m-1 0h2m93 0h2m-1 0h2m-1 0h2m-1 0h2m-1 0h2m0 0h2m0 0h2m5 0h2m-1 0h2m-1 0h2m10 0h2m-262 1h2m23 0h2m7 0h2m5 0h2m1 0h2m4 0h2m-1 0h2m-1 0h2m0 0h2m2 0h2m-1 0h2m1 0h2m4 0h2m0 0h2m-1 0h2m-1 0h2m4 0h2m1 0h2m1 0h2m-1 0h2m0 0h2m-1 0h2m0 0h2m0 0h2m0 0h2m4 0h2m2 0h2m4 0h2m2 0h2m-1 0h2m4 0h2m-1 0h2m-1 0h2m4 0h2m-1 0h2m-1 0h2m-1 0h2m-1 0h2m0 0h2m93 0h2m-1 0h2m1 0h2m-1 0h2m-1 0h2m0 0h2m0 0h2m14 0h2m1 0h2m-250 1h2m3 0h2m-1 0h2m3 0h2m2 0h2m0 0h2m4 0h2m5 0h2m-1 0h2m5 0h2m-1 0h2m-1 0h2m1 0h2m0 0h2m-1 0h2m-1 0h2m-1 0h2m-1 0h2m5 0h2m1 0h2m-1 0h2m4 0h2m-1 0h2m2 0h2m-1 0h2m1 0h2m-1 0h2m0 0h2m-1 0h2m-1 0h2m1 0h2m1 0h2m9 0h2m-1 0h2m0 0h2m1 0h2m1 0h2m4 0h2m0 0h2m-1 0h2m-1 0h2m-1 0h2m0 0h2m-1 0h2m0 0h2m-1 0h2m93 0h2m-1 0h2m0 0h2m-1 0h2m-1 0h2m-1 0h2m-1 0h2m2 0h2m-1 0h2m4 0h2m1 0h2m-246 1h2m10 0h2m1 0h2m0 0h2m7 0h2m0 0h2m3 0h2m3 0h2m5 0h2m-1 0h2m0 0h2m-1 0h2m5 0h2m3 0h2m-1 0h2m-1 0h2m2 0h2m0 0h2m0 0h2m-1 0h2m-1 0h2m1 0h2m-1 0h2m0 0h2m0 0h2m4 0h2m0 0h2m-1 0h2m3 0h2m4 0h2m-1 0h2m9 0h2m3 0h2m2 0h2m-1 0h2m-1 0h2m-1 0h2m-1 0h2m-1 0h2m-1 0h2m92 0h2m0 0h2m-1 0h2m-1 0h2m-1 0h2m0 0h2m4 0h2m0 0h2m10 0h2m-268 1h2m15 0h2m9 0h2m5 0h2m8 0h2m0 0h2m0 0h2m0 0h2m-1 0h2m8 0h2m2 0h2m5 0h2m-1 0h2m2 0h2m0 0h2m0 0h2m0 0h2m-1 0h2m1 0h2m0 0h2m4 0h2m2 0h2m4 0h2m-1 0h2m0 0h2m0 0h2m-1 0h2m3 0h2m-1 0h2m9 0h2m2 0h2m5 0h2m-1 0h2m-1 0h2m-1 0h2m-1 0h2m-1 0h2m91 0h2m0 0h2m-1 0h2m-1 0h2m-1 0h2m0 0h2m0 0h2m-236 1h2m13 0h2m19 0h2m2 0h2m8 0h2m-1 0h2m-1 0h2m0 0h2m0 0h2m0 0h2m0 0h2m0 0h2m-1 0h2m-1 0h2m-1 0h2m-1 0h2m1 0h2m8 0h2m3 0h2m-1 0h2m0 0h2m-1 0h2m2 0h2m0 0h2m0 0h2m-1 0h2m-1 0h2m3 0h2m0 0h2m1 0h2m0 0h2m0 0h2m-1 0h2m-1 0h2m-1 0h2m0 0h2m0 0h2m0 0h2m-1 0h2m1 0h2m0 0h2m-1 0h2m-1 0h2m-1 0h2m-1 0h2m92 0h2m-1 0h2m0 0h2m0 0h2m-1 0h2m0 0h2m0 0h2m-1 0h2m-1 0h2m1 0h2m-227 1h2m22 0h2m5 0h2m-1 0h2m1 0h2m2 0h2m1 0h2m4 0h2m2 0h2m1 0h2m0 0h2m1 0h2m-1 0h2m-1 0h2m-1 0h2m6 0h2m1 0h2m-1 0h2m-1 0h2m4 0h2m-1 0h2m0 0h2m-1 0h2m4 0h2m10 0h2m4 0h2m-1 0h2m-1 0h2m-1 0h2m0 0h2m92 0h2m0 0h2m-1 0h2m1 0h2m-1 0h2m-1 0h2m-1 0h2m-1 0h2m-1 0h2m4 0h2m-1 0h2m10 0h2m0 0h2m-257 1h2m14 0h2m1 0h2m8 0h2m6 0h2m1 0h2m-1 0h2m7 0h2m-1 0h2m1 0h2m-1 0h2m2 0h2m0 0h2m-1 0h2m-1 0h2m0 0h2m5 0h2m1 0h2m-1 0h2m2 0h2m3 0h2m1 0h2m0 0h2m0 0h2m-1 0h2m0 0h2m-1 0h2m5 0h2m4 0h2m-1 0h2m-1 0h2m-1 0h2m-1 0h2m-1 0h2m-1 0h2m1 0h2m1 0h2m0 0h2m-1 0h2m1 0h2m-1 0h2m92 0h2m-1 0h2m-1 0h2m-1 0h2m0 0h2m-1 0h2m-1 0h2m-1 0h2m4 0h2m0 0h2m4 0h2m1 0h2m-238 1h2m11 0h2m7 0h2m2 0h2m0 0h2m2 0h2m-1 0h2m-1 0h2m-1 0h2m1 0h2m0 0h2m1 0h2m4 0h2m8 0h2m0 0h2m1 0h2m2 0h2m-1 0h2m-1 0h2m1 0h2m-1 0h2m-1 0h2m-1 0h2m3 0h2m1 0h2m0 0h2m7 0h2m1 0h2m1 0h2m3 0h2m1 0h2m0 0h2m-1 0h2m-1 0h2m0 0h2m-1 0h2m-1 0h2m92 0h2m-1 0h2m-1 0h2m-1 0h2m-1 0h2m0 0h2m1 0h2m3 0h2m-1 0h2m-211 1h2m0 0h2m3 0h2m2 0h2m-1 0h2m2 0h2m2 0h2m2 0h2m6 0h2m3 0h2m5 0h2m0 0h2m-1 0h2m1 0h2m1 0h2m-1 0h2m0 0h2m-1 0h2m-1 0h2m0 0h2m0 0h2m0 0h2m2 0h2m1 0h2m0 0h2m11 0h2m3 0h2m-1 0h2m0 0h2m-1 0h2m-1 0h2m-1 0h2m-1 0h2m-1 0h2m92 0h2m-1 0h2m-1 0h2m-1 0h2m-1 0h2m14 0h2m0 0h2m-231 1h2m0 0h2m-1 0h2m5 0h2m-1 0h2m3 0h2m2 0h2m11 0h2m8 0h2m2 0h2m-1 0h2m-1 0h2m3 0h2m0 0h2m1 0h2m3 0h2m-1 0h2m1 0h2m0 0h2m3 0h2m-1 0h2m0 0h2m4 0h2m1 0h2m2 0h2m-1 0h2m0 0h2m-1 0h2m1 0h2m-1 0h2m2 0h2m-1 0h2m6 0h2m-1 0h2m-1 0h2m89 0h2m0 0h2m-1 0h2m-1 0h2m0 0h2m0 0h2m-1 0h2m0 0h2m4 0h2m0 0h2m3 0h2m-229 1h2m1 0h2m-1 0h2m8 0h2m-1 0h2m-1 0h2m-1 0h2m7 0h2m6 0h2m0 0h2m7 0h2m5 0h2m4 0h2m-1 0h2m6 0h2m-1 0h2m-1 0h2m7 0h2m-1 0h2m5 0h2m3 0h2m-1 0h2m-1 0h2m-1 0h2m-1 0h2m-1 0h2m6 0h2m0 0h2m-1 0h2m-1 0h2m-1 0h2m-1 0h2m-1 0h2m-1 0h2m88 0h2m-1 0h2m-1 0h2m0 0h2m-1 0h2m-1 0h2m3 0h2m30 0h2m-241 1h2m4 0h2m1 0h2m1 0h2m3 0h2m-1 0h2m3 0h2m4 0h2m0 0h2m1 0h2m0 0h2m4 0h2m5 0h2m3 0h2m0 0h2m-1 0h2m1 0h2m5 0h2m1 0h2m0 0h2m0 0h2m6 0h2m0 0h2m-1 0h2m0 0h2m-1 0h2m-1 0h2m0 0h2m2 0h2m0 0h2m4 0h2m0 0h2m-1 0h2m0 0h2m-1 0h2m85 0h2m-1 0h2m-1 0h2m-1 0h2m-1 0h2m-1 0h2m-1 0h2m-1 0h2m-1 0h2m0 0h2m1 0h2m2 0h2m32 0h2m-254 1h2m7 0h2m2 0h2m9 0h2m0 0h2m1 0h2m15 0h2m-1 0h2m0 0h2m1 0h2m0 0h2m0 0h2m-1 0h2m1 0h2m14 0h2m7 0h2m7 0h2m0 0h2m2 0h2m1 0h2m-1 0h2m2 0h2m-1 0h2m0 0h2m-1 0h2m-1 0h2m-1 0h2m83 0h2m1 0h2m-1 0h2m-1 0h2m0 0h2m3 0h2m0 0h2m-1 0h2m4 0h2m-233 1h2m5 0h2m1 0h2m6 0h2m6 0h2m0 0h2m4 0h2m-1 0h2m-1 0h2m2 0h2m0 0h2m5 0h2m1 0h2m2 0h2m2 0h2m-1 0h2m-1 0h2m0 0h2m-1 0h2m1 0h2m1 0h2m-1 0h2m0 0h2m-1 0h2m1 0h2m1 0h2m2 0h2m-1 0h2m0 0h2m0 0h2m-1 0h2m1 0h2m-1 0h2m-1 0h2m3 0h2m-1 0h2m-1 0h2m-1 0h2m-1 0h2m1 0h2m2 0h2m3 0h2m-1 0h2m-1 0h2m0 0h2m-1 0h2m-1 0h2m-1 0h2m-1 0h2m-1 0h2m-1 0h2m79 0h2m-1 0h2m-1 0h2m-1 0h2m1 0h2m-1 0h2m-1 0h2m-1 0h2m3 0h2m-1 0h2m1 0h2m1 0h2m5 0h2m58 0h2m-285 1h2m1 0h2m3 0h2m0 0h2m10 0h2m2 0h2m0 0h2m4 0h2m0 0h2m2 0h2m-1 0h2m0 0h2m1 0h2m-1 0h2m1 0h2m1 0h2m0 0h2m1 0h2m0 0h2m0 0h2m0 0h2m-1 0h2m0 0h2m0 0h2m1 0h2m1 0h2m4 0h2m11 0h2m0 0h2m0 0h2m0 0h2m-1 0h2m0 0h2m0 0h2m1 0h2m-1 0h2m-1 0h2m-1 0h2m-1 0h2m0 0h2m78 0h2m-1 0h2m-1 0h2m-1 0h2m0 0h2m1 0h2m0 0h2m1 0h2m0 0h2m1 0h2m10 0h2m12 0h2m-251 1h2m13 0h2m14 0h2m4 0h2m0 0h2m2 0h2m1 0h2m4 0h2m4 0h2m2 0h2m0 0h2m2 0h2m-1 0h2m1 0h2m-1 0h2m5 0h2m3 0h2m3 0h2m0 0h2m0 0h2m0 0h2m2 0h2m-1 0h2m2 0h2m5 0h2m0 0h2m0 0h2m-1 0h2m1 0h2m-1 0h2m0 0h2m-1 0h2m-1 0h2m76 0h2m-1 0h2m0 0h2m-1 0h2m-1 0h2m-1 0h2m-1 0h2m-1 0h2m2 0h2m2 0h2m9 0h2m-225 1h2m15 0h2m2 0h2m-1 0h2m13 0h2m-1 0h2m-1 0h2m-1 0h2m0 0h2m-1 0h2m-1 0h2m-1 0h2m2 0h2m-1 0h2m2 0h2m-1 0h2m-1 0h2m-1 0h2m3 0h2m1 0h2m1 0h2m-1 0h2m0 0h2m0 0h2m1 0h2m1 0h2m6 0h2m-1 0h2m-1 0h2m0 0h2m2 0h2m1 0h2m0 0h2m8 0h2m0 0h2m0 0h2m-1 0h2m-1 0h2m2 0h2m73 0h2m-1 0h2m-1 0h2m-1 0h2m-1 0h2m-1 0h2m-1 0h2m-1 0h2m-1 0h2m-1 0h2m-1 0h2m0 0h2m2 0h2m3 0h2m1 0h2m9 0h2m6 0h2m-234 1h2m3 0h2m-1 0h2m11 0h2m6 0h2m5 0h2m1 0h2m-1 0h2m-1 0h2m3 0h2m0 0h2m0 0h2m0 0h2m2 0h2m0 0h2m2 0h2m0 0h2m2 0h2m2 0h2m1 0h2m0 0h2m10 0h2m2 0h2m1 0h2m0 0h2m2 0h2m3 0h2m-1 0h2m2 0h2m-1 0h2m-1 0h2m-1 0h2m-1 0h2m-1 0h2m71 0h2m-1 0h2m-1 0h2m-1 0h2m-1 0h2m-1 0h2m-1 0h2m-1 0h2m0 0h2m0 0h2m-1 0h2m-1 0h2m4 0h2m1 0h2m-223 1h2m22 0h2m1 0h2m2 0h2m3 0h2m8 0h2m0 0h2m1 0h2m7 0h2m1 0h2m2 0h2m3 0h2m0 0h2m0 0h2m3 0h2m1 0h2m-1 0h2m0 0h2m1 0h2m0 0h2m0 0h2m0 0h2m3 0h2m0 0h2m5 0h2m1 0h2m-1 0h2m0 0h2m3 0h2m-1 0h2m-1 0h2m0 0h2m-1 0h2m-1 0h2m68 0h2m-1 0h2m-1 0h2m-1 0h2m-1 0h2m-1 0h2m-1 0h2m-1 0h2m2 0h2m-1 0h2m9 0h2m-238 1h2m10 0h2m26 0h2m6 0h2m0 0h2m5 0h2m0 0h2m0 0h2m0 0h2m3 0h2m3 0h2m1 0h2m0 0h2m4 0h2m2 0h2m-1 0h2m4 0h2m9 0h2m1 0h2m5 0h2m-1 0h2m-1 0h2m-1 0h2m-1 0h2m1 0h2m0 0h2m5 0h2m1 0h2m4 0h2m-1 0h2m0 0h2m66 0h2m0 0h2m-1 0h2m-1 0h2m0 0h2m-1 0h2m0 0h2m1 0h2m-1 0h2m7 0h2m-1 0h2m-1 0h2m2 0h2m-231 1h2m16 0h2m13 0h2m3 0h2m1 0h2m-1 0h2m2 0h2m6 0h2m-1 0h2m2 0h2m4 0h2m-1 0h2m7 0h2m6 0h2m-1 0h2m1 0h2m2 0h2m-1 0h2m2 0h2m0 0h2m-1 0h2m0 0h2m2 0h2m0 0h2m5 0h2m4 0h2m1 0h2m-1 0h2m-1 0h2m3 0h2m-1 0h2m1 0h2m66 0h2m0 0h2m0 0h2m0 0h2m1 0h2m1 0h2m-1 0h2m4 0h2m0 0h2m-235 1h2m0 0h2m25 0h2m5 0h2m-1 0h2m7 0h2m7 0h2m-1 0h2m1 0h2m4 0h2m-1 0h2m1 0h2m2 0h2m1 0h2m10 0h2m1 0h2m0 0h2m-1 0h2m0 0h2m0 0h2m-1 0h2m-1 0h2m4 0h2m1 0h2m9 0h2m3 0h2m3 0h2m-1 0h2m-1 0h2m3 0h2m0 0h2m-1 0h2m0 0h2m-1 0h2m-1 0h2m-1 0h2m62 0h2m-1 0h2m-1 0h2m-1 0h2m0 0h2m-1 0h2m-1 0h2m-1 0h2m-1 0h2m17 0h2m-233 1h2m-1 0h2m25 0h2m17 0h2m-1 0h2m7 0h2m3 0h2m0 0h2m4 0h2m4 0h2m3 0h2m7 0h2m12 0h2m-1 0h2m2 0h2m3 0h2m1 0h2m-1 0h2m3 0h2m1 0h2m4 0h2m3 0h2m2 0h2m-1 0h2m-1 0h2m55 0h2m-1 0h2m-1 0h2m0 0h2m-1 0h2m3 0h2m-1 0h2m0 0h2m0 0h2m-1 0h2m13 0h2m-224 1h2m27 0h2m4 0h2m0 0h2m0 0h2m2 0h2m11 0h2m3 0h2m0 0h2m-1 0h2m16 0h2m-1 0h2m11 0h2m17 0h2m1 0h2m3 0h2m1 0h2m-1 0h2m-1 0h2m0 0h2m-1 0h2m0 0h2m-1 0h2m-1 0h2m-1 0h2m54 0h2m-1 0h2m1 0h2m-1 0h2m2 0h2m0 0h2m-1 0h2m1 0h2m48 0h2m-260 1h2m8 0h2m3 0h2m7 0h2m6 0h2m8 0h2m-1 0h2m0 0h2m0 0h2m1 0h2m3 0h2m0 0h2m3 0h2m2 0h2m-1 0h2m-1 0h2m1 0h2m2 0h2m0 0h2m3 0h2m6 0h2m-1 0h2m3 0h2m2 0h2m15 0h2m0 0h2m1 0h2m-1 0h2m-1 0h2m1 0h2m0 0h2m-1 0h2m0 0h2m-1 0h2m0 0h2m-1 0h2m-1 0h2m0 0h2m-1 0h2m45 0h2m-1 0h2m-1 0h2m-1 0h2m-1 0h2m0 0h2m-1 0h2m-1 0h2m-1 0h2m-1 0h2m-1 0h2m-1 0h2m-1 0h2m-1 0h2m-1 0h2m-1 0h2m10 0h2m13 0h2m-231 1h2m-1 0h2m5 0h2m8 0h2m6 0h2m9 0h2m10 0h2m2 0h2m-1 0h2m-1 0h2m4 0h2m5 0h2m3 0h2m4 0h2m0 0h2m-1 0h2m0 0h2m5 0h2m2 0h2m-1 0h2m0 0h2m-1 0h2m1 0h2m7 0h2m12 0h2m4 0h2m-1 0h2m1 0h2m-1 0h2m-1 0h2m-1 0h2m-1 0h2m-1 0h2m-1 0h2m-1 0h2m-1 0h2m40 0h2m-1 0h2m-1 0h2m-1 0h2m-1 0h2m-1 0h2m0 0h2m12 0h2m-202 1h2m2 0h2m3 0h2m2 0h2m5 0h2m-1 0h2m-1 0h2m6 0h2m4 0h2m1 0h2m2 0h2m0 0h2m1 0h2m1 0h2m0 0h2m4 0h2m-1 0h2m2 0h2m-1 0h2m0 0h2m-1 0h2m0 0h2m0 0h2m-1 0h2m-1 0h2m6 0h2m15 0h2m5 0h2m4 0h2m2 0h2m3 0h2m-1 0h2m-1 0h2m-1 0h2m4 0h2m0 0h2m0 0h2m0 0h2m-1 0h2m-1 0h2m36 0h2m-1 0h2m-1 0h2m-1 0h2m-1 0h2m-1 0h2m2 0h2m-1 0h2m1 0h2m-1 0h2m6 0h2m15 0h2m-200 1h2m6 0h2m-1 0h2m2 0h2m9 0h2m0 0h2m4 0h2m-1 0h2m16 0h2m5 0h2m0 0h2m-1 0h2m1 0h2m-1 0h2m-1 0h2m0 0h2m0 0h2m-1 0h2m5 0h2m4 0h2m10 0h2m1 0h2m1 0h2m0 0h2m-1 0h2m0 0h2m-1 0h2m-1 0h2m0 0h2m2 0h2m0 0h2m-1 0h2m0 0h2m-1 0h2m-1 0h2m-1 0h2m-1 0h2m31 0h2m-1 0h2m-1 0h2m1 0h2m0 0h2m-1 0h2m-1 0h2m-1 0h2m-1 0h2m2 0h2m0 0h2m2 0h2m1 0h2m7 0h2m8 0h2m-216 1h2m3 0h2m11 0h2m0 0h2m-1 0h2m8 0h2m10 0h2m-1 0h2m2 0h2m3 0h2m1 0h2m0 0h2m1 0h2m0 0h2m1 0h2m4 0h2m0 0h2m2 0h2m3 0h2m-1 0h2m1 0h2m4 0h2m17 0h2m-1 0h2m-1 0h2m-1 0h2m3 0h2m2 0h2m6 0h2m0 0h2m-1 0h2m-1 0h2m-1 0h2m-1 0h2m-1 0h2m-1 0h2m0 0h2m1 0h2m-1 0h2m20 0h2m0 0h2m-1 0h2m-1 0h2m0 0h2m-1 0h2m-1 0h2m2 0h2m-1 0h2m-1 0h2m9 0h2m-191 1h2m6 0h2m0 0h2m2 0h2m1 0h2m4 0h2m2 0h2m20 0h2m0 0h2m2 0h2m0 0h2m1 0h2m1 0h2m19 0h2m23 0h2m7 0h2m3 0h2m2 0h2m1 0h2m0 0h2m-1 0h2m-1 0h2m0 0h2m0 0h2m-1 0h2m0 0h2m-1 0h2m-1 0h2m-1 0h2m0 0h2m-1 0h2m-1 0h2m1 0h2m10 0h2m-1 0h2m0 0h2m-1 0h2m0 0h2m-1 0h2m0 0h2m0 0h2m0 0h2m-1 0h2m-1 0h2m3 0h2m-1 0h2m3 0h2m17 0h2m-196 1h2m2 0h2m4 0h2m5 0h2m18 0h2m2 0h2m2 0h2m3 0h2m4 0h2m24 0h2m-1 0h2m10 0h2m5 0h2m6 0h2m4 0h2m1 0h2m0 0h2m-1 0h2m-1 0h2m-1 0h2m0 0h2m-1 0h2m-1 0h2m-1 0h2m-1 0h2m-1 0h2m-1 0h2m-1 0h2m-1 0h2m1 0h2m-1 0h2m-1 0h2m-1 0h2m-1 0h2m-1 0h2m-1 0h2m-1 0h2m-1 0h2m0 0h2m-1 0h2m-1 0h2m-1 0h2m-1 0h2m1 0h2m-1 0h2m-1 0h2m0 0h2m-1 0h2m2 0h2m0 0h2m1 0h2m0 0h2m0 0h2m-197 1h2m10 0h2m4 0h2m32 0h2m21 0h2m2 0h2m14 0h2m11 0h2m2 0h2m-1 0h2m-1 0h2m11 0h2m-1 0h2m5 0h2m-1 0h2m-1 0h2m0 0h2m2 0h2m1 0h2m-1 0h2m1 0h2m-1 0h2m-1 0h2m-1 0h2m0 0h2m-1 0h2m0 0h2m-1 0h2m0 0h2m-1 0h2m-1 0h2m-1 0h2m-1 0h2m-1 0h2m-1 0h2m-1 0h2m-1 0h2m-1 0h2m0 0h2m0 0h2m6 0h2m10 0h2m-188 1h2m1 0h2m9 0h2m5 0h2m-1 0h2m5 0h2m0 0h2m3 0h2m4 0h2m2 0h2m3 0h2m4 0h2m6 0h2m-1 0h2m-1 0h2m4 0h2m6 0h2m0 0h2m3 0h2m7 0h2m12 0h2m2 0h2m1 0h2m-1 0h2m-1 0h2m1 0h2m4 0h2m2 0h2m-1 0h2m-1 0h2m-1 0h2m-1 0h2m0 0h2m0 0h2m-1 0h2m0 0h2m-1 0h2m-1 0h2m-1 0h2m-1 0h2m-1 0h2m-1 0h2m2 0h2m-1 0h2m0 0h2m-1 0h2m-1 0h2m0 0h2m-1 0h2m-1 0h2m-1 0h2m-1 0h2m2 0h2m0 0h2m1 0h2m1 0h2m-193 1h2m5 0h2m5 0h2m18 0h2m0 0h2m3 0h2m5 0h2m-1 0h2m7 0h2m-1 0h2m-1 0h2m1 0h2m0 0h2m2 0h2m-1 0h2m-1 0h2m-1 0h2m10 0h2m9 0h2m0 0h2m9 0h2m11 0h2m3 0h2m11 0h2m9 0h2m0 0h2m-1 0h2m-1 0h2m-1 0h2m-1 0h2m3 0h2m0 0h2m-1 0h2m0 0h2m0 0h2m3 0h2m-1 0h2m0 0h2m-1 0h2m-1 0h2m-1 0h2m-1 0h2m1 0h2m0 0h2m1 0h2m-1 0h2m4 0h2m-197 1h2m26 0h2m7 0h2m19 0h2m6 0h2m5 0h2m8 0h2m0 0h2m11 0h2m13 0h2m8 0h2m15 0h2m0 0h2m0 0h2m4 0h2m1 0h2m-1 0h2m1 0h2m2 0h2m-1 0h2m3 0h2m1 0h2m0 0h2m0 0h2m-1 0h2m-1 0h2m0 0h2m6 0h2m0 0h2m-165 1h2m17 0h2m2 0h2m0 0h2m0 0h2m3 0h2m8 0h2m7 0h2m8 0h2m0 0h2m0 0h2m6 0h2m0 0h2m5 0h2m1 0h2m-1 0h2m31 0h2m6 0h2m-1 0h2m3 0h2m-1 0h2m-1 0h2m1 0h2m5 0h2m2 0h2m-1 0h2m7 0h2m5 0h2m38 0h2m-213 1h2m0 0h2m12 0h2m8 0h2m4 0h2m30 0h2m9 0h2m15 0h2m9 0h2m12 0h2m1 0h2m2 0h2m2 0h2m5 0h2m7 0h2m-1 0h2m0 0h2m0 0h2m2 0h2m0 0h2m-1 0h2m-1 0h2m4 0h2m13 0h2m26 0h2m-229 1h2m31 0h2m7 0h2m7 0h2m6 0h2m1 0h2m2 0h2m1 0h2m3 0h2m16 0h2m5 0h2m8 0h2m19 0h2m4 0h2m13 0h2m4 0h2m2 0h2m0 0h2m2 0h2m13 0h2m2 0h2m22 0h2m3 0h2m-206 1h2m1 0h2m0 0h2m7 0h2m0 0h2m8 0h2m7 0h2m2 0h2m10 0h2m1 0h2m15 0h2m2 0h2m1 0h2m-1 0h2m6 0h2m-1 0h2m8 0h2m20 0h2m9 0h2m0 0h2m6 0h2m0 0h2m5 0h2m2 0h2m1 0h2m14 0h2m-204 1h2m62 0h2m7 0h2m2 0h2m24 0h2m10 0h2m0 0h2m11 0h2m4 0h2m26 0h2m3 0h2m0 0h2m0 0h2m-1 0h2m3 0h2m7 0h2m9 0h2m-1 0h2m30 0h2m-168 1h2m-1 0h2m0 0h2m7 0h2m0 0h2m5 0h2m12 0h2m9 0h2m13 0h2m6 0h2m-1 0h2m-1 0h2m30 0h2m21 0h2m6 0h2m8 0h2m1 0h2m-140 1h2m25 0h2m1 0h2m75 0h2m1 0h2m-1 0h2m3 0h2m12 0h2m-1 0h2m0 0h2m-172 1h2m39 0h2m25 0h2m76 0h2m5 0h2m-155 1h2m46 0h2m17 0h2m52 0h2m1 0h2m26 0h2m7 0h2m6 0h2m-174 1h2m52 0h2m3 0h2m97 0h2m0 0h2m-174 1h2m12 0h2m12 0h2m3 0h2m21 0h2m31 0h2m103 0h2m18 0h2m-205 1h2m41 0h2m49 0h2m68 0h2m-167 1h2m16 0h2m15 0h2m7 0h2m4 0h2m1 0h2m11 0h2m4 0h2m15 0h2m-86 1h2m37 0h2m0 0h2m22 0h2m50 0h2m-76 1h2m1 0h2m13 0h2m24 0h2m19 0h2m47 0h2m-135 1h2m19 0h2m73 0h2m47 0h2m-192 1h2m41 0h2m35 1h2m-56 1h2m23 0h2m14 0h2m-15 1h2m25 0h2m127 0h2m-162 1h2m0 0h2m31 0h2m20 0h2m76 0h2m-113 1h2" stroke="#000" stroke-width="2.5" fill="none"/>
<path d="M572 2296h2M514 2348h2M505 2341h2M488 2371h2M534 2349h2M523 2362h2M497 2375h2M567 2331h2M585 2300h2M548 2345h2M532 2327h2M554 2345h2" stroke="#fff" stroke-width="1.8" fill="none" opacity="0.45"/>
</g>
<rect x="790" y="2155" width="404.3" height="374.5" fill="#fff" stroke="#707070" stroke-width="2.6"/>
<line x1="899" y1="2155" x2="899" y2="2529.5" stroke="#707070" stroke-width="2.4"/>
<line x1="1183.6" y1="2155" x2="1183.6" y2="2529.5" stroke="#707070" stroke-width="2.2"/>
<path d="M789 2486.4h-15M789 2411.6h-15M789 2336.7h-15M789 2261.8h-15M789 2187h-15M789 2525.5h-8.5M789 2516.2h-8.5M789 2508.9h-8.5M789 2503h-8.5M789 2498h-8.5M789 2493.7h-8.5M789 2489.8h-8.5M789 2463.9h-8.5M789 2450.7h-8.5M789 2441.3h-8.5M789 2434.1h-8.5M789 2428.2h-8.5M789 2423.1h-8.5M789 2418.8h-8.5M789 2415h-8.5M789 2389h-8.5M789 2375.8h-8.5M789 2366.5h-8.5M789 2359.2h-8.5M789 2353.3h-8.5M789 2348.3h-8.5M789 2344h-8.5M789 2340.1h-8.5M789 2314.2h-8.5M789 2301h-8.5M789 2291.6h-8.5M789 2284.4h-8.5M789 2278.5h-8.5M789 2273.4h-8.5M789 2269.1h-8.5M789 2265.3h-8.5M789 2239.3h-8.5M789 2226.1h-8.5M789 2216.8h-8.5M789 2209.5h-8.5M789 2203.6h-8.5M789 2198.6h-8.5M789 2194.3h-8.5M789 2190.4h-8.5M789 2164.5h-8.5M790 2530.5v18M797 2530.5v10M813 2530.5v10M832 2530.5v17M876 2530.5v17M896 2530.5v10M919.7 2530.5v10M931.1 2530.5v10M940 2530.5v10M947.3 2530.5v10M953.4 2530.5v10M958.7 2530.5v10M963.4 2530.5v10M967.6 2530.5v17M996.9 2530.5v10M1014.1 2530.5v10M1026.2 2530.5v10M1035.7 2530.5v10M1043.4 2530.5v10M1049.9 2530.5v10M1055.6 2530.5v10M1060.5 2530.5v10M1065 2530.5v17M1092.1 2530.5v10M1107.9 2530.5v10M1119.2 2530.5v10M1127.9 2530.5v10M1135 2530.5v10M1141.1 2530.5v10M1146.3 2530.5v10M1150.9 2530.5v10M1155 2530.5v17M1183.5 2530.5v12" stroke="#666" stroke-width="2" fill="none"/>
<line x1="853" y1="2530.5" x2="853" y2="2547.5" stroke="#333" stroke-width="3.5"/>
<line x1="856.5" y1="2530.5" x2="856.5" y2="2547.5" stroke="#333" stroke-width="3.5"/>
<text x="772.5" y="2195.5" font-size="14.5" text-anchor="start" fill="#686868" transform="rotate(-90 772.5 2195.5)" font-weight="bold">10<tspan font-size="10.5" dy="-6.5">5</tspan></text>
<text x="772.5" y="2270.2" font-size="14.5" text-anchor="start" fill="#686868" transform="rotate(-90 772.5 2270.2)" font-weight="bold">10<tspan font-size="10.5" dy="-6.5">4</tspan></text>
<text x="772.5" y="2345.3" font-size="14.5" text-anchor="start" fill="#686868" transform="rotate(-90 772.5 2345.3)" font-weight="bold">10<tspan font-size="10.5" dy="-6.5">3</tspan></text>
<text x="772.5" y="2419.9" font-size="14.5" text-anchor="start" fill="#686868" transform="rotate(-90 772.5 2419.9)" font-weight="bold">10<tspan font-size="10.5" dy="-6.5">2</tspan></text>
<text x="772.5" y="2494.9" font-size="14.5" text-anchor="start" fill="#686868" transform="rotate(-90 772.5 2494.9)" font-weight="bold">10<tspan font-size="10.5" dy="-6.5">1</tspan></text>
<text x="790" y="2575" font-size="14.5" text-anchor="middle" fill="#686868" font-weight="bold">-359</text>
<text x="830" y="2564" font-size="14.5" text-anchor="middle" fill="#686868" font-weight="bold">-10<tspan font-size="10.5" dy="-6.5">2</tspan></text>
<text x="852" y="2564" font-size="14.5" text-anchor="middle" fill="#686868" font-weight="bold">0</text>
<text x="875" y="2564" font-size="14.5" text-anchor="middle" fill="#686868" font-weight="bold">10<tspan font-size="10.5" dy="-6.5">2</tspan></text>
<text x="968" y="2564" font-size="14.5" text-anchor="middle" fill="#686868" font-weight="bold">10<tspan font-size="10.5" dy="-6.5">3</tspan></text>
<text x="1066" y="2564" font-size="14.5" text-anchor="middle" fill="#686868" font-weight="bold">10<tspan font-size="10.5" dy="-6.5">4</tspan></text>
<text x="1156" y="2564" font-size="14.5" text-anchor="middle" fill="#686868" font-weight="bold">10<tspan font-size="10.5" dy="-6.5">5</tspan></text>
<text x="996" y="2141" font-size="49" text-anchor="middle" fill="#111">DOX</text>
<text x="1093" y="2213.7" font-size="49" text-anchor="middle" fill="#111">94.4%</text>
<g filter="url(#bl)">
<path d="M944.3 2354.7 L957.6 2341.3 L979.8 2328 L1002.1 2316.9 L1022.1 2308 L1037.6 2308 L1048.7 2316.9 L1053.2 2332.5 L1050.9 2350.2 L1039.8 2365.8 L1024.3 2376.9 L1004.3 2383.6 L979.8 2383.6 L957.6 2372.5 Z" fill="#000" stroke="#000" stroke-width="2" stroke-linejoin="round"/>
<path d="M988 2250h2m78 1h2m15 4h2m-71 2h2m2 0h2m76 0h2m-25 1h2m-39 1h2m-28 1h2m53 0h2m22 0h2m16 0h2m-1 1h2m-98 1h2m58 0h2m-77 1h2m-30 1h2m78 0h2m1 0h2m-35 1h2m23 0h2m54 0h2m-16 1h2m-83 1h2m41 0h2m16 0h2m57 0h2m-55 1h2m-14 1h2m-27 1h2m32 0h2m27 1h2m-23 1h2m26 0h2m44 0h2m-144 1h2m11 1h2m24 0h2m-82 1h2m3 0h2m16 0h2m38 0h2m0 0h2m-8 1h2m14 0h2m16 0h2m8 0h2m0 0h2m10 0h2m-95 1h2m41 0h2m22 0h2m-70 1h2m12 0h2m13 0h2m8 0h2m42 0h2m61 0h2m-141 1h2m12 0h2m13 0h2m62 0h2m16 0h2m3 0h2m-293 1h2m218 0h2m8 0h2m-1 0h2m0 0h2m11 0h2m-55 1h2m32 0h2m12 0h2m4 0h2m-181 1h2m70 0h2m33 0h2m14 0h2m16 0h2m6 0h2m9 0h2m-224 1h2m130 0h2m6 0h2m56 0h2m8 0h2m12 0h2m6 0h2m7 0h2m-113 1h2m70 0h2m25 0h2m2 0h2m-1 0h2m13 0h2m-208 1h2m16 0h2m52 0h2m4 0h2m54 0h2m17 0h2m19 0h2m35 0h2m-102 1h2m21 0h2m11 0h2m0 0h2m4 0h2m4 0h2m4 0h2m12 0h2m3 0h2m-1 0h2m4 0h2m4 0h2m21 0h2m-253 1h2m123 0h2m37 0h2m0 0h2m5 0h2m0 0h2m17 0h2m41 0h2m0 0h2m-152 1h2m12 0h2m44 0h2m4 0h2m12 0h2m5 0h2m25 0h2m6 0h2m-193 1h2m4 0h2m12 0h2m81 0h2m32 0h2m15 0h2m2 0h2m25 0h2m-191 1h2m58 0h2m77 0h2m14 0h2m8 0h2m6 0h2m0 0h2m9 0h2m3 0h2m7 0h2m22 0h2m-224 1h2m60 0h2m50 0h2m31 0h2m1 0h2m2 0h2m7 0h2m6 0h2m3 0h2m7 0h2m-1 0h2m20 0h2m11 0h2m-183 1h2m0 0h2m69 0h2m12 0h2m13 0h2m3 0h2m5 0h2m-1 0h2m-1 0h2m-1 0h2m6 0h2m4 0h2m0 0h2m4 0h2m-1 0h2m0 0h2m10 0h2m2 0h2m-217 1h2m17 0h2m39 0h2m3 0h2m16 0h2m36 0h2m5 0h2m11 0h2m31 0h2m1 0h2m-1 0h2m2 0h2m11 0h2m1 0h2m1 0h2m2 0h2m2 0h2m7 0h2m28 0h2m25 0h2m-245 1h2m31 0h2m35 0h2m12 0h2m8 0h2m33 0h2m2 0h2m3 0h2m2 0h2m-1 0h2m-1 0h2m0 0h2m11 0h2m1 0h2m-1 0h2m0 0h2m0 0h2m1 0h2m27 0h2m-239 1h2m30 0h2m29 0h2m19 0h2m8 0h2m16 0h2m59 0h2m0 0h2m7 0h2m0 0h2m0 0h2m6 0h2m5 0h2m6 0h2m61 0h2m-231 1h2m4 0h2m30 0h2m1 0h2m7 0h2m9 0h2m43 0h2m16 0h2m5 0h2m0 0h2m-1 0h2m1 0h2m-1 0h2m2 0h2m6 0h2m0 0h2m-1 0h2m1 0h2m2 0h2m0 0h2m67 0h2m-289 1h2m14 0h2m8 0h2m14 0h2m48 0h2m27 0h2m60 0h2m11 0h2m7 0h2m0 0h2m1 0h2m4 0h2m9 0h2m8 0h2m103 0h2m-233 1h2m24 0h2m8 0h2m8 0h2m11 0h2m0 0h2m3 0h2m1 0h2m19 0h2m-1 0h2m-1 0h2m-1 0h2m2 0h2m0 0h2m4 0h2m12 0h2m17 0h2m4 0h2m-245 1h2m59 0h2m23 0h2m7 0h2m24 0h2m17 0h2m2 0h2m17 0h2m1 0h2m0 0h2m-1 0h2m1 0h2m0 0h2m4 0h2m0 0h2m-1 0h2m-1 0h2m-1 0h2m-1 0h2m1 0h2m0 0h2m-1 0h2m-1 0h2m-1 0h2m0 0h2m-1 0h2m2 0h2m-1 0h2m2 0h2m0 0h2m4 0h2m-1 0h2m5 0h2m7 0h2m8 0h2m15 0h2m-188 1h2m8 0h2m17 0h2m3 0h2m18 0h2m5 0h2m30 0h2m17 0h2m-1 0h2m-1 0h2m0 0h2m4 0h2m-1 0h2m0 0h2m0 0h2m0 0h2m-1 0h2m-1 0h2m-1 0h2m4 0h2m-1 0h2m3 0h2m-1 0h2m-1 0h2m8 0h2m-223 1h2m3 0h2m7 0h2m56 0h2m16 0h2m65 0h2m3 0h2m2 0h2m0 0h2m1 0h2m-1 0h2m0 0h2m-1 0h2m0 0h2m-1 0h2m-1 0h2m-1 0h2m0 0h2m2 0h2m-1 0h2m0 0h2m1 0h2m0 0h2m0 0h2m2 0h2m1 0h2m-1 0h2m-1 0h2m3 0h2m4 0h2m2 0h2m31 0h2m11 0h2m-247 1h2m4 0h2m11 0h2m22 0h2m34 0h2m2 0h2m6 0h2m13 0h2m12 0h2m7 0h2m1 0h2m-1 0h2m0 0h2m3 0h2m0 0h2m3 0h2m4 0h2m0 0h2m0 0h2m-1 0h2m1 0h2m1 0h2m-1 0h2m-1 0h2m-1 0h2m0 0h2m7 0h2m4 0h2m0 0h2m0 0h2m-1 0h2m5 0h2m2 0h2m34 0h2m-218 1h2m20 0h2m4 0h2m10 0h2m41 0h2m7 0h2m5 0h2m0 0h2m9 0h2m3 0h2m2 0h2m-1 0h2m8 0h2m0 0h2m1 0h2m0 0h2m-1 0h2m-1 0h2m-1 0h2m0 0h2m3 0h2m-1 0h2m3 0h2m0 0h2m10 0h2m0 0h2m-1 0h2m-243 1h2m59 0h2m35 0h2m6 0h2m0 0h2m10 0h2m17 0h2m6 0h2m0 0h2m15 0h2m9 0h2m2 0h2m0 0h2m1 0h2m0 0h2m2 0h2m-1 0h2m1 0h2m0 0h2m0 0h2m2 0h2m-1 0h2m0 0h2m-1 0h2m-1 0h2m-1 0h2m0 0h2m-1 0h2m-1 0h2m-1 0h2m-1 0h2m-1 0h2m-1 0h2m-1 0h2m1 0h2m0 0h2m-1 0h2m-1 0h2m-1 0h2m-1 0h2m0 0h2m0 0h2m-211 1h2m29 0h2m6 0h2m3 0h2m59 0h2m28 0h2m6 0h2m6 0h2m1 0h2m-1 0h2m-1 0h2m6 0h2m0 0h2m-1 0h2m-1 0h2m4 0h2m0 0h2m-1 0h2m0 0h2m-1 0h2m-1 0h2m0 0h2m-1 0h2m-1 0h2m-1 0h2m-1 0h2m-1 0h2m-1 0h2m-1 0h2m-1 0h2m-1 0h2m-1 0h2m1 0h2m-1 0h2m-1 0h2m2 0h2m-1 0h2m-1 0h2m1 0h2m0 0h2m0 0h2m3 0h2m-1 0h2m7 0h2m4 0h2m-199 1h2m14 0h2m24 0h2m37 0h2m8 0h2m0 0h2m4 0h2m4 0h2m5 0h2m-1 0h2m-1 0h2m-1 0h2m1 0h2m-1 0h2m-1 0h2m4 0h2m-1 0h2m-1 0h2m0 0h2m2 0h2m4 0h2m0 0h2m-1 0h2m-1 0h2m-1 0h2m-1 0h2m-1 0h2m-1 0h2m-1 0h2m-1 0h2m-1 0h2m-1 0h2m-1 0h2m-1 0h2m0 0h2m-1 0h2m0 0h2m-1 0h2m-1 0h2m0 0h2m-1 0h2m-1 0h2m-1 0h2m0 0h2m-1 0h2m-1 0h2m0 0h2m11 0h2m2 0h2m5 0h2m-221 1h2m30 0h2m6 0h2m17 0h2m23 0h2m32 0h2m6 0h2m1 0h2m-1 0h2m1 0h2m5 0h2m-1 0h2m0 0h2m2 0h2m-1 0h2m5 0h2m-1 0h2m-1 0h2m-1 0h2m1 0h2m-1 0h2m-1 0h2m0 0h2m-1 0h2m-1 0h2m-1 0h2m-1 0h2m-1 0h2m-1 0h2m-1 0h2m-1 0h2m-1 0h2m-1 0h2m-1 0h2m-1 0h2m-1 0h2m-1 0h2m-1 0h2m0 0h2m-1 0h2m-1 0h2m-1 0h2m-1 0h2m-1 0h2m1 0h2m1 0h2m-1 0h2m-1 0h2m1 0h2m-1 0h2m8 0h2m8 0h2m-239 1h2m5 0h2m11 0h2m5 0h2m4 0h2m11 0h2m18 0h2m1 0h2m30 0h2m20 0h2m7 0h2m1 0h2m10 0h2m4 0h2m0 0h2m1 0h2m0 0h2m0 0h2m0 0h2m4 0h2m-1 0h2m-1 0h2m-1 0h2m-1 0h2m-1 0h2m-1 0h2m0 0h2m-1 0h2m-1 0h2m-1 0h2m-1 0h2m-1 0h2m-1 0h2m-1 0h2m-1 0h2m-1 0h2m-1 0h2m-1 0h2m-1 0h2m-1 0h2m-1 0h2m-1 0h2m0 0h2m-1 0h2m-1 0h2m1 0h2m-1 0h2m-1 0h2m-1 0h2m0 0h2m-1 0h2m0 0h2m-1 0h2m1 0h2m-1 0h2m-1 0h2m2 0h2m-210 1h2m-1 0h2m9 0h2m14 0h2m4 0h2m29 0h2m11 0h2m5 0h2m12 0h2m2 0h2m3 0h2m30 0h2m1 0h2m-1 0h2m7 0h2m2 0h2m-1 0h2m-1 0h2m-1 0h2m0 0h2m0 0h2m-1 0h2m-1 0h2m1 0h2m-1 0h2m-1 0h2m-1 0h2m-1 0h2m-1 0h2m-1 0h2m17 0h2m-1 0h2m-1 0h2m-1 0h2m-1 0h2m0 0h2m0 0h2m-1 0h2m-1 0h2m0 0h2m2 0h2m-1 0h2m3 0h2m3 0h2m-1 0h2m-1 0h2m-176 1h2m18 0h2m56 0h2m3 0h2m9 0h2m-1 0h2m0 0h2m0 0h2m3 0h2m1 0h2m1 0h2m-1 0h2m0 0h2m-1 0h2m-1 0h2m-1 0h2m-1 0h2m-1 0h2m-1 0h2m-1 0h2m-1 0h2m-1 0h2m0 0h2m20 0h2m-1 0h2m-1 0h2m-1 0h2m-1 0h2m-1 0h2m-1 0h2m0 0h2m-1 0h2m-1 0h2m-1 0h2m0 0h2m18 0h2m-221 1h2m37 0h2m-1 0h2m0 0h2m9 0h2m61 0h2m20 0h2m0 0h2m3 0h2m-1 0h2m-1 0h2m0 0h2m-1 0h2m-1 0h2m0 0h2m-1 0h2m0 0h2m-1 0h2m0 0h2m-1 0h2m-1 0h2m-1 0h2m24 0h2m-1 0h2m-1 0h2m-1 0h2m0 0h2m-1 0h2m-1 0h2m2 0h2m-1 0h2m0 0h2m-1 0h2m-1 0h2m1 0h2m28 0h2m-1 0h2m13 0h2m-272 1h2m7 0h2m32 0h2m6 0h2m4 0h2m6 0h2m3 0h2m10 0h2m14 0h2m16 0h2m3 0h2m17 0h2m-1 0h2m0 0h2m0 0h2m0 0h2m0 0h2m0 0h2m-1 0h2m2 0h2m-1 0h2m-1 0h2m-1 0h2m3 0h2m-1 0h2m-1 0h2m-1 0h2m-1 0h2m0 0h2m-1 0h2m-1 0h2m-1 0h2m-1 0h2m-1 0h2m0 0h2m27 0h2m-1 0h2m-1 0h2m-1 0h2m-1 0h2m-1 0h2m0 0h2m-1 0h2m-1 0h2m-1 0h2m-1 0h2m0 0h2m-1 0h2m4 0h2m-244 1h2m56 0h2m6 0h2m0 0h2m21 0h2m15 0h2m21 0h2m1 0h2m5 0h2m0 0h2m0 0h2m1 0h2m2 0h2m1 0h2m0 0h2m1 0h2m-1 0h2m-1 0h2m0 0h2m-1 0h2m-1 0h2m0 0h2m2 0h2m1 0h2m0 0h2m-1 0h2m-1 0h2m1 0h2m-1 0h2m0 0h2m-1 0h2m-1 0h2m-1 0h2m-1 0h2m32 0h2m-1 0h2m-1 0h2m-1 0h2m0 0h2m0 0h2m-1 0h2m0 0h2m0 0h2m3 0h2m11 0h2m5 0h2m13 0h2m-249 1h2m31 0h2m19 0h2m19 0h2m-1 0h2m16 0h2m10 0h2m8 0h2m26 0h2m-1 0h2m-1 0h2m-1 0h2m-1 0h2m-1 0h2m0 0h2m-1 0h2m-1 0h2m-1 0h2m-1 0h2m-1 0h2m-1 0h2m-1 0h2m-1 0h2m35 0h2m-1 0h2m-1 0h2m-1 0h2m-1 0h2m-1 0h2m-1 0h2m1 0h2m0 0h2m-1 0h2m0 0h2m11 0h2m9 0h2m1 0h2m-241 1h2m2 0h2m-1 0h2m4 0h2m13 0h2m0 0h2m5 0h2m0 0h2m3 0h2m14 0h2m6 0h2m1 0h2m23 0h2m2 0h2m9 0h2m8 0h2m0 0h2m-1 0h2m-1 0h2m-1 0h2m2 0h2m-1 0h2m-1 0h2m-1 0h2m2 0h2m1 0h2m2 0h2m-1 0h2m1 0h2m1 0h2m1 0h2m-1 0h2m-1 0h2m-1 0h2m-1 0h2m-1 0h2m-1 0h2m-1 0h2m-1 0h2m37 0h2m0 0h2m-1 0h2m-1 0h2m0 0h2m-1 0h2m-1 0h2m0 0h2m0 0h2m5 0h2m18 0h2m-243 1h2m17 0h2m0 0h2m16 0h2m16 0h2m10 0h2m0 0h2m7 0h2m5 0h2m4 0h2m16 0h2m10 0h2m3 0h2m8 0h2m5 0h2m1 0h2m-1 0h2m0 0h2m-1 0h2m-1 0h2m-1 0h2m-1 0h2m-1 0h2m0 0h2m-1 0h2m-1 0h2m41 0h2m-1 0h2m-1 0h2m-1 0h2m-1 0h2m-1 0h2m-1 0h2m-1 0h2m1 0h2m-1 0h2m1 0h2m-1 0h2m-233 1h2m13 0h2m11 0h2m4 0h2m1 0h2m11 0h2m9 0h2m1 0h2m8 0h2m8 0h2m35 0h2m3 0h2m2 0h2m3 0h2m1 0h2m3 0h2m0 0h2m2 0h2m-1 0h2m1 0h2m-1 0h2m-1 0h2m1 0h2m0 0h2m-1 0h2m-1 0h2m0 0h2m-1 0h2m-1 0h2m-1 0h2m-1 0h2m-1 0h2m-1 0h2m-1 0h2m45 0h2m-1 0h2m-1 0h2m-1 0h2m0 0h2m-1 0h2m-1 0h2m-1 0h2m2 0h2m1 0h2m1 0h2m-225 1h2m3 0h2m6 0h2m1 0h2m9 0h2m21 0h2m21 0h2m18 0h2m11 0h2m26 0h2m1 0h2m2 0h2m0 0h2m1 0h2m-1 0h2m-1 0h2m0 0h2m-1 0h2m-1 0h2m-1 0h2m-1 0h2m-1 0h2m48 0h2m-1 0h2m-1 0h2m0 0h2m-1 0h2m-1 0h2m2 0h2m5 0h2m-237 1h2m6 0h2m36 0h2m7 0h2m2 0h2m1 0h2m35 0h2m8 0h2m16 0h2m2 0h2m12 0h2m0 0h2m-1 0h2m-1 0h2m-1 0h2m0 0h2m0 0h2m-1 0h2m-1 0h2m-1 0h2m-1 0h2m-1 0h2m-1 0h2m-1 0h2m-1 0h2m-1 0h2m-1 0h2m-1 0h2m-1 0h2m-1 0h2m49 0h2m-1 0h2m-1 0h2m-1 0h2m1 0h2m-1 0h2m-1 0h2m-1 0h2m1 0h2m0 0h2m4 0h2m19 0h2m13 0h2m-261 1h2m4 0h2m10 0h2m13 0h2m22 0h2m3 0h2m17 0h2m10 0h2m3 0h2m10 0h2m0 0h2m3 0h2m2 0h2m0 0h2m1 0h2m4 0h2m-1 0h2m-1 0h2m-1 0h2m0 0h2m1 0h2m-1 0h2m-1 0h2m0 0h2m-1 0h2m-1 0h2m-1 0h2m-1 0h2m-1 0h2m-1 0h2m52 0h2m-1 0h2m-1 0h2m-1 0h2m-1 0h2m0 0h2m0 0h2m0 0h2m-1 0h2m1 0h2m2 0h2m3 0h2m-218 1h2m2 0h2m2 0h2m38 0h2m8 0h2m-1 0h2m27 0h2m22 0h2m-1 0h2m1 0h2m1 0h2m-1 0h2m0 0h2m-1 0h2m-1 0h2m0 0h2m-1 0h2m-1 0h2m-1 0h2m-1 0h2m-1 0h2m-1 0h2m-1 0h2m-1 0h2m-1 0h2m-1 0h2m-1 0h2m54 0h2m-1 0h2m-1 0h2m-1 0h2m-1 0h2m-1 0h2m-1 0h2m1 0h2m0 0h2m0 0h2m-1 0h2m4 0h2m0 0h2m6 0h2m-1 0h2m1 0h2m-239 1h2m-1 0h2m0 0h2m9 0h2m13 0h2m15 0h2m-1 0h2m14 0h2m7 0h2m16 0h2m0 0h2m19 0h2m7 0h2m-1 0h2m-1 0h2m-1 0h2m-1 0h2m2 0h2m0 0h2m1 0h2m-1 0h2m-1 0h2m-1 0h2m-1 0h2m-1 0h2m-1 0h2m-1 0h2m-1 0h2m-1 0h2m57 0h2m-1 0h2m-1 0h2m-1 0h2m-1 0h2m-1 0h2m-1 0h2m1 0h2m0 0h2m2 0h2m0 0h2m1 0h2m0 0h2m9 0h2m-267 1h2m41 0h2m9 0h2m3 0h2m29 0h2m6 0h2m10 0h2m-1 0h2m5 0h2m10 0h2m1 0h2m0 0h2m5 0h2m1 0h2m-1 0h2m0 0h2m2 0h2m0 0h2m-1 0h2m0 0h2m-1 0h2m-1 0h2m-1 0h2m-1 0h2m-1 0h2m-1 0h2m-1 0h2m-1 0h2m-1 0h2m0 0h2m-1 0h2m-1 0h2m-1 0h2m60 0h2m-1 0h2m-1 0h2m-1 0h2m-1 0h2m-1 0h2m0 0h2m1 0h2m1 0h2m2 0h2m0 0h2m-247 1h2m7 0h2m10 0h2m12 0h2m5 0h2m-1 0h2m5 0h2m6 0h2m0 0h2m7 0h2m17 0h2m0 0h2m9 0h2m2 0h2m2 0h2m12 0h2m1 0h2m3 0h2m6 0h2m-1 0h2m1 0h2m-1 0h2m1 0h2m-1 0h2m0 0h2m0 0h2m-1 0h2m-1 0h2m-1 0h2m-1 0h2m0 0h2m-1 0h2m-1 0h2m-1 0h2m-1 0h2m-1 0h2m61 0h2m-1 0h2m2 0h2m-1 0h2m-1 0h2m-1 0h2m-1 0h2m4 0h2m5 0h2m3 0h2m4 0h2m12 0h2m-259 1h2m13 0h2m8 0h2m11 0h2m8 0h2m-1 0h2m1 0h2m-1 0h2m0 0h2m2 0h2m12 0h2m-1 0h2m5 0h2m4 0h2m8 0h2m9 0h2m10 0h2m-1 0h2m0 0h2m0 0h2m0 0h2m-1 0h2m0 0h2m-1 0h2m-1 0h2m-1 0h2m-1 0h2m-1 0h2m0 0h2m-1 0h2m-1 0h2m-1 0h2m-1 0h2m-1 0h2m-1 0h2m-1 0h2m-1 0h2m63 0h2m-1 0h2m-1 0h2m1 0h2m-1 0h2m-1 0h2m1 0h2m0 0h2m-1 0h2m0 0h2m6 0h2m-254 1h2m0 0h2m0 0h2m12 0h2m4 0h2m11 0h2m0 0h2m0 0h2m-1 0h2m1 0h2m1 0h2m0 0h2m4 0h2m-1 0h2m9 0h2m5 0h2m1 0h2m0 0h2m3 0h2m38 0h2m1 0h2m2 0h2m-1 0h2m0 0h2m2 0h2m-1 0h2m4 0h2m-1 0h2m-1 0h2m0 0h2m-1 0h2m-1 0h2m-1 0h2m0 0h2m-1 0h2m-1 0h2m-1 0h2m-1 0h2m-1 0h2m-1 0h2m66 0h2m-1 0h2m0 0h2m-1 0h2m-1 0h2m-1 0h2m-1 0h2m-1 0h2m1 0h2m-1 0h2m-259 1h2m23 0h2m2 0h2m-1 0h2m2 0h2m2 0h2m1 0h2m-1 0h2m8 0h2m0 0h2m0 0h2m-1 0h2m14 0h2m5 0h2m16 0h2m0 0h2m2 0h2m-1 0h2m3 0h2m0 0h2m1 0h2m2 0h2m0 0h2m1 0h2m3 0h2m0 0h2m5 0h2m7 0h2m-1 0h2m4 0h2m-1 0h2m4 0h2m0 0h2m0 0h2m1 0h2m-1 0h2m0 0h2m-1 0h2m-1 0h2m-1 0h2m-1 0h2m-1 0h2m68 0h2m-1 0h2m-1 0h2m-1 0h2m0 0h2m-1 0h2m0 0h2m0 0h2m-1 0h2m-1 0h2m1 0h2m-226 1h2m4 0h2m1 0h2m1 0h2m2 0h2m5 0h2m3 0h2m10 0h2m5 0h2m1 0h2m2 0h2m5 0h2m0 0h2m3 0h2m-1 0h2m1 0h2m7 0h2m13 0h2m8 0h2m0 0h2m0 0h2m2 0h2m-1 0h2m1 0h2m-1 0h2m0 0h2m0 0h2m-1 0h2m0 0h2m-1 0h2m-1 0h2m-1 0h2m-1 0h2m-1 0h2m0 0h2m-1 0h2m-1 0h2m-1 0h2m-1 0h2m71 0h2m0 0h2m-1 0h2m0 0h2m-1 0h2m-1 0h2m1 0h2m-1 0h2m1 0h2m4 0h2m1 0h2m2 0h2m1 0h2m-252 1h2m7 0h2m0 0h2m3 0h2m8 0h2m7 0h2m4 0h2m2 0h2m6 0h2m3 0h2m-1 0h2m2 0h2m8 0h2m5 0h2m0 0h2m24 0h2m14 0h2m3 0h2m-1 0h2m2 0h2m-1 0h2m0 0h2m-1 0h2m-1 0h2m-1 0h2m-1 0h2m-1 0h2m-1 0h2m-1 0h2m-1 0h2m73 0h2m-1 0h2m-1 0h2m-1 0h2m-1 0h2m-1 0h2m-1 0h2m-1 0h2m4 0h2m0 0h2m-1 0h2m16 0h2m-256 1h2m-1 0h2m7 0h2m1 0h2m4 0h2m-1 0h2m-1 0h2m0 0h2m3 0h2m1 0h2m3 0h2m-1 0h2m4 0h2m4 0h2m-1 0h2m-1 0h2m-1 0h2m0 0h2m10 0h2m4 0h2m1 0h2m7 0h2m0 0h2m1 0h2m4 0h2m18 0h2m-1 0h2m0 0h2m1 0h2m3 0h2m0 0h2m-1 0h2m0 0h2m0 0h2m0 0h2m-1 0h2m-1 0h2m-1 0h2m-1 0h2m-1 0h2m-1 0h2m-1 0h2m-1 0h2m75 0h2m-1 0h2m-1 0h2m-1 0h2m0 0h2m2 0h2m1 0h2m-251 1h2m10 0h2m17 0h2m4 0h2m2 0h2m1 0h2m10 0h2m3 0h2m2 0h2m6 0h2m2 0h2m7 0h2m1 0h2m4 0h2m4 0h2m-1 0h2m6 0h2m2 0h2m-1 0h2m5 0h2m5 0h2m1 0h2m1 0h2m0 0h2m4 0h2m1 0h2m-1 0h2m2 0h2m-1 0h2m-1 0h2m-1 0h2m-1 0h2m-1 0h2m-1 0h2m-1 0h2m-1 0h2m76 0h2m-1 0h2m-1 0h2m0 0h2m-1 0h2m-1 0h2m1 0h2m-1 0h2m-1 0h2m-1 0h2m0 0h2m-1 0h2m3 0h2m2 0h2m12 0h2m-261 1h2m2 0h2m5 0h2m11 0h2m0 0h2m1 0h2m-1 0h2m0 0h2m1 0h2m1 0h2m-1 0h2m-1 0h2m-1 0h2m-1 0h2m0 0h2m0 0h2m6 0h2m4 0h2m4 0h2m0 0h2m7 0h2m7 0h2m4 0h2m21 0h2m2 0h2m0 0h2m0 0h2m5 0h2m1 0h2m-1 0h2m0 0h2m-1 0h2m-1 0h2m-1 0h2m-1 0h2m-1 0h2m78 0h2m-1 0h2m0 0h2m-1 0h2m-1 0h2m-1 0h2m-1 0h2m0 0h2m-1 0h2m9 0h2m-1 0h2m-1 0h2m-1 0h2m-1 0h2m3 0h2m-289 1h2m15 0h2m13 0h2m3 0h2m5 0h2m3 0h2m0 0h2m1 0h2m11 0h2m1 0h2m2 0h2m2 0h2m-1 0h2m-1 0h2m0 0h2m4 0h2m-1 0h2m0 0h2m0 0h2m2 0h2m-1 0h2m0 0h2m16 0h2m-1 0h2m5 0h2m16 0h2m0 0h2m6 0h2m4 0h2m0 0h2m1 0h2m-1 0h2m0 0h2m0 0h2m-1 0h2m-1 0h2m-1 0h2m-1 0h2m-1 0h2m81 0h2m-1 0h2m-1 0h2m-1 0h2m0 0h2m-1 0h2m2 0h2m1 0h2m-1 0h2m4 0h2m0 0h2m-250 1h2m1 0h2m3 0h2m7 0h2m6 0h2m11 0h2m-1 0h2m-1 0h2m1 0h2m0 0h2m2 0h2m2 0h2m1 0h2m-1 0h2m4 0h2m0 0h2m3 0h2m2 0h2m13 0h2m3 0h2m1 0h2m5 0h2m15 0h2m3 0h2m-1 0h2m2 0h2m-1 0h2m-1 0h2m-1 0h2m1 0h2m-1 0h2m-1 0h2m-1 0h2m0 0h2m81 0h2m-1 0h2m-1 0h2m-1 0h2m-1 0h2m3 0h2m4 0h2m-1 0h2m1 0h2m-1 0h2m-270 1h2m18 0h2m1 0h2m18 0h2m3 0h2m3 0h2m0 0h2m1 0h2m0 0h2m4 0h2m-1 0h2m-1 0h2m0 0h2m-1 0h2m-1 0h2m4 0h2m-1 0h2m1 0h2m6 0h2m2 0h2m-1 0h2m-1 0h2m1 0h2m3 0h2m11 0h2m2 0h2m2 0h2m2 0h2m2 0h2m7 0h2m1 0h2m0 0h2m2 0h2m-1 0h2m0 0h2m0 0h2m-1 0h2m0 0h2m-1 0h2m-1 0h2m-1 0h2m-1 0h2m-1 0h2m83 0h2m-1 0h2m-1 0h2m-1 0h2m-1 0h2m-1 0h2m4 0h2m-1 0h2m3 0h2m-257 1h2m8 0h2m9 0h2m-1 0h2m0 0h2m-1 0h2m3 0h2m4 0h2m1 0h2m4 0h2m2 0h2m1 0h2m2 0h2m-1 0h2m5 0h2m-1 0h2m0 0h2m2 0h2m2 0h2m3 0h2m0 0h2m0 0h2m0 0h2m1 0h2m1 0h2m7 0h2m-1 0h2m1 0h2m3 0h2m0 0h2m-1 0h2m0 0h2m2 0h2m5 0h2m0 0h2m-1 0h2m1 0h2m-1 0h2m1 0h2m0 0h2m-1 0h2m-1 0h2m0 0h2m-1 0h2m-1 0h2m-1 0h2m-1 0h2m-1 0h2m-1 0h2m-1 0h2m-1 0h2m-1 0h2m84 0h2m-1 0h2m0 0h2m-1 0h2m-1 0h2m2 0h2m-1 0h2m2 0h2m-1 0h2m7 0h2m17 0h2m-279 1h2m3 0h2m11 0h2m-1 0h2m4 0h2m-1 0h2m3 0h2m0 0h2m-1 0h2m-1 0h2m1 0h2m11 0h2m5 0h2m0 0h2m0 0h2m-1 0h2m4 0h2m-1 0h2m0 0h2m3 0h2m0 0h2m-1 0h2m0 0h2m5 0h2m5 0h2m-1 0h2m3 0h2m11 0h2m3 0h2m1 0h2m0 0h2m0 0h2m-1 0h2m3 0h2m0 0h2m-1 0h2m-1 0h2m-1 0h2m0 0h2m-1 0h2m-1 0h2m-1 0h2m-1 0h2m-1 0h2m-1 0h2m86 0h2m-1 0h2m0 0h2m-1 0h2m-1 0h2m-1 0h2m-1 0h2m-1 0h2m-1 0h2m-1 0h2m-1 0h2m1 0h2m5 0h2m18 0h2m-260 1h2m1 0h2m1 0h2m-1 0h2m2 0h2m4 0h2m-1 0h2m0 0h2m0 0h2m9 0h2m-1 0h2m-1 0h2m-1 0h2m0 0h2m3 0h2m1 0h2m3 0h2m1 0h2m0 0h2m0 0h2m0 0h2m1 0h2m3 0h2m-1 0h2m1 0h2m-1 0h2m-1 0h2m0 0h2m2 0h2m4 0h2m5 0h2m0 0h2m1 0h2m-1 0h2m11 0h2m0 0h2m2 0h2m-1 0h2m-1 0h2m-1 0h2m-1 0h2m-1 0h2m-1 0h2m0 0h2m-1 0h2m-1 0h2m87 0h2m-1 0h2m-1 0h2m-1 0h2m1 0h2m-1 0h2m-1 0h2m0 0h2m0 0h2m-1 0h2m0 0h2m-229 1h2m2 0h2m1 0h2m-1 0h2m12 0h2m1 0h2m11 0h2m8 0h2m2 0h2m-1 0h2m6 0h2m6 0h2m3 0h2m5 0h2m-1 0h2m1 0h2m1 0h2m10 0h2m-1 0h2m0 0h2m-1 0h2m-1 0h2m0 0h2m-1 0h2m0 0h2m0 0h2m-1 0h2m0 0h2m0 0h2m-1 0h2m-1 0h2m-1 0h2m-1 0h2m88 0h2m-1 0h2m-1 0h2m-1 0h2m-1 0h2m-1 0h2m-1 0h2m-1 0h2m-1 0h2m-1 0h2m-1 0h2m4 0h2m2 0h2m3 0h2m-266 1h2m13 0h2m15 0h2m-1 0h2m1 0h2m-1 0h2m5 0h2m2 0h2m1 0h2m-1 0h2m-1 0h2m0 0h2m2 0h2m0 0h2m-1 0h2m1 0h2m2 0h2m-1 0h2m0 0h2m0 0h2m1 0h2m6 0h2m0 0h2m-1 0h2m8 0h2m-1 0h2m-1 0h2m2 0h2m-1 0h2m0 0h2m4 0h2m4 0h2m4 0h2m2 0h2m2 0h2m-1 0h2m-1 0h2m1 0h2m-1 0h2m-1 0h2m-1 0h2m-1 0h2m-1 0h2m0 0h2m-1 0h2m-1 0h2m91 0h2m-1 0h2m-1 0h2m-1 0h2m0 0h2m-1 0h2m4 0h2m1 0h2m-264 1h2m20 0h2m3 0h2m-1 0h2m7 0h2m0 0h2m1 0h2m0 0h2m0 0h2m1 0h2m3 0h2m1 0h2m0 0h2m-1 0h2m-1 0h2m-1 0h2m6 0h2m1 0h2m-1 0h2m0 0h2m0 0h2m2 0h2m-1 0h2m0 0h2m-1 0h2m-1 0h2m3 0h2m1 0h2m3 0h2m-1 0h2m5 0h2m0 0h2m8 0h2m-1 0h2m4 0h2m6 0h2m0 0h2m1 0h2m-1 0h2m-1 0h2m3 0h2m-1 0h2m-1 0h2m-1 0h2m-1 0h2m-1 0h2m-1 0h2m91 0h2m-1 0h2m0 0h2m-1 0h2m-1 0h2m-1 0h2m-1 0h2m-1 0h2m1 0h2m0 0h2m-245 1h2m-1 0h2m18 0h2m1 0h2m0 0h2m-1 0h2m6 0h2m2 0h2m-1 0h2m6 0h2m1 0h2m2 0h2m5 0h2m2 0h2m0 0h2m1 0h2m2 0h2m-1 0h2m1 0h2m6 0h2m0 0h2m-1 0h2m-1 0h2m5 0h2m-1 0h2m7 0h2m-1 0h2m-1 0h2m0 0h2m-1 0h2m1 0h2m-1 0h2m2 0h2m3 0h2m0 0h2m0 0h2m-1 0h2m0 0h2m-1 0h2m-1 0h2m93 0h2m0 0h2m0 0h2m-1 0h2m0 0h2m1 0h2m1 0h2m-1 0h2m5 0h2m-260 1h2m13 0h2m9 0h2m-1 0h2m4 0h2m-1 0h2m8 0h2m-1 0h2m2 0h2m0 0h2m0 0h2m0 0h2m1 0h2m-1 0h2m-1 0h2m-1 0h2m-1 0h2m0 0h2m0 0h2m1 0h2m-1 0h2m0 0h2m3 0h2m0 0h2m-1 0h2m-1 0h2m-1 0h2m4 0h2m0 0h2m1 0h2m1 0h2m0 0h2m2 0h2m0 0h2m5 0h2m-1 0h2m0 0h2m6 0h2m-1 0h2m1 0h2m-1 0h2m-1 0h2m-1 0h2m-1 0h2m-1 0h2m1 0h2m-1 0h2m0 0h2m-1 0h2m-1 0h2m-1 0h2m-1 0h2m94 0h2m-1 0h2m-1 0h2m-1 0h2m0 0h2m0 0h2m5 0h2m18 0h2m-279 1h2m10 0h2m3 0h2m-1 0h2m-1 0h2m6 0h2m-1 0h2m6 0h2m0 0h2m-1 0h2m1 0h2m0 0h2m2 0h2m0 0h2m0 0h2m1 0h2m0 0h2m-1 0h2m2 0h2m0 0h2m1 0h2m1 0h2m7 0h2m0 0h2m0 0h2m0 0h2m-1 0h2m10 0h2m0 0h2m-1 0h2m1 0h2m5 0h2m3 0h2m3 0h2m2 0h2m4 0h2m2 0h2m-1 0h2m0 0h2m0 0h2m-1 0h2m-1 0h2m-1 0h2m-1 0h2m-1 0h2m-1 0h2m95 0h2m-1 0h2m-1 0h2m-1 0h2m-1 0h2m-1 0h2m-1 0h2m0 0h2m1 0h2m0 0h2m5 0h2m-266 1h2m17 0h2m2 0h2m2 0h2m-1 0h2m-1 0h2m1 0h2m5 0h2m-1 0h2m3 0h2m2 0h2m2 0h2m-1 0h2m0 0h2m4 0h2m0 0h2m2 0h2m-1 0h2m1 0h2m0 0h2m2 0h2m1 0h2m2 0h2m6 0h2m-1 0h2m-1 0h2m1 0h2m0 0h2m1 0h2m-1 0h2m3 0h2m3 0h2m0 0h2m13 0h2m1 0h2m-1 0h2m0 0h2m-1 0h2m0 0h2m-1 0h2m0 0h2m-1 0h2m-1 0h2m-1 0h2m96 0h2m1 0h2m-1 0h2m0 0h2m3 0h2m0 0h2m-1 0h2m8 0h2m6 0h2m-262 1h2m6 0h2m6 0h2m11 0h2m0 0h2m5 0h2m-1 0h2m-1 0h2m-1 0h2m0 0h2m3 0h2m1 0h2m-1 0h2m-1 0h2m2 0h2m-1 0h2m-1 0h2m0 0h2m1 0h2m0 0h2m0 0h2m3 0h2m0 0h2m3 0h2m0 0h2m-1 0h2m0 0h2m1 0h2m6 0h2m-1 0h2m3 0h2m6 0h2m2 0h2m0 0h2m-1 0h2m0 0h2m1 0h2m1 0h2m-1 0h2m-1 0h2m-1 0h2m98 0h2m-1 0h2m-1 0h2m-1 0h2m-1 0h2m-1 0h2m0 0h2m-1 0h2m-1 0h2m0 0h2m4 0h2m0 0h2m9 0h2m-1 0h2m4 0h2m-282 1h2m19 0h2m2 0h2m12 0h2m-1 0h2m4 0h2m0 0h2m0 0h2m1 0h2m0 0h2m1 0h2m-1 0h2m1 0h2m-1 0h2m-1 0h2m-1 0h2m-1 0h2m-1 0h2m0 0h2m1 0h2m-1 0h2m2 0h2m-1 0h2m1 0h2m0 0h2m5 0h2m-1 0h2m-1 0h2m-1 0h2m-1 0h2m-1 0h2m3 0h2m3 0h2m-1 0h2m6 0h2m-1 0h2m-1 0h2m4 0h2m0 0h2m0 0h2m4 0h2m-1 0h2m0 0h2m1 0h2m-1 0h2m-1 0h2m-1 0h2m-1 0h2m99 0h2m-1 0h2m0 0h2m0 0h2m-1 0h2m-1 0h2m-1 0h2m-1 0h2m-1 0h2m2 0h2m0 0h2m0 0h2m7 0h2m-270 1h2m18 0h2m1 0h2m2 0h2m-1 0h2m3 0h2m7 0h2m1 0h2m-1 0h2m-1 0h2m0 0h2m7 0h2m1 0h2m0 0h2m-1 0h2m0 0h2m-1 0h2m0 0h2m0 0h2m1 0h2m4 0h2m-1 0h2m0 0h2m1 0h2m2 0h2m4 0h2m-1 0h2m2 0h2m-1 0h2m4 0h2m4 0h2m-1 0h2m1 0h2m0 0h2m1 0h2m-1 0h2m-1 0h2m0 0h2m2 0h2m0 0h2m0 0h2m-1 0h2m-1 0h2m-1 0h2m-1 0h2m99 0h2m-1 0h2m-1 0h2m-1 0h2m0 0h2m0 0h2m-1 0h2m-1 0h2m-1 0h2m9 0h2m-277 1h2m8 0h2m6 0h2m5 0h2m5 0h2m10 0h2m-1 0h2m0 0h2m0 0h2m0 0h2m0 0h2m0 0h2m-1 0h2m-1 0h2m-1 0h2m1 0h2m4 0h2m0 0h2m1 0h2m0 0h2m-1 0h2m-1 0h2m-1 0h2m0 0h2m3 0h2m0 0h2m-1 0h2m-1 0h2m0 0h2m0 0h2m3 0h2m1 0h2m-1 0h2m0 0h2m6 0h2m0 0h2m-1 0h2m-1 0h2m3 0h2m0 0h2m3 0h2m-1 0h2m1 0h2m2 0h2m4 0h2m0 0h2m-1 0h2m0 0h2m-1 0h2m-1 0h2m0 0h2m-1 0h2m-1 0h2m-1 0h2m99 0h2m-1 0h2m-1 0h2m-1 0h2m0 0h2m-1 0h2m-1 0h2m-1 0h2m-1 0h2m-1 0h2m1 0h2m4 0h2m-245 1h2m1 0h2m2 0h2m1 0h2m-1 0h2m1 0h2m4 0h2m1 0h2m-1 0h2m-1 0h2m-1 0h2m-1 0h2m-1 0h2m1 0h2m0 0h2m2 0h2m3 0h2m-1 0h2m1 0h2m-1 0h2m6 0h2m-1 0h2m-1 0h2m0 0h2m0 0h2m-1 0h2m0 0h2m-1 0h2m2 0h2m1 0h2m1 0h2m-1 0h2m1 0h2m1 0h2m2 0h2m-1 0h2m-1 0h2m2 0h2m0 0h2m-1 0h2m-1 0h2m2 0h2m0 0h2m4 0h2m0 0h2m0 0h2m-1 0h2m-1 0h2m0 0h2m2 0h2m-1 0h2m-1 0h2m100 0h2m-1 0h2m1 0h2m-1 0h2m4 0h2m0 0h2m0 0h2m4 0h2m2 0h2m-1 0h2m-283 1h2m7 0h2m5 0h2m7 0h2m5 0h2m-1 0h2m1 0h2m0 0h2m1 0h2m1 0h2m1 0h2m1 0h2m2 0h2m-1 0h2m2 0h2m1 0h2m1 0h2m-1 0h2m0 0h2m0 0h2m2 0h2m-1 0h2m-1 0h2m-1 0h2m-1 0h2m-1 0h2m-1 0h2m1 0h2m1 0h2m-1 0h2m6 0h2m0 0h2m-1 0h2m-1 0h2m1 0h2m-1 0h2m0 0h2m2 0h2m-1 0h2m14 0h2m0 0h2m5 0h2m-1 0h2m4 0h2m-1 0h2m2 0h2m-1 0h2m-1 0h2m-1 0h2m-1 0h2m-1 0h2m101 0h2m-1 0h2m-1 0h2m-1 0h2m-1 0h2m0 0h2m-1 0h2m0 0h2m-1 0h2m2 0h2m3 0h2m1 0h2m-1 0h2m3 0h2m-269 1h2m6 0h2m5 0h2m3 0h2m3 0h2m1 0h2m-1 0h2m0 0h2m2 0h2m0 0h2m3 0h2m4 0h2m2 0h2m0 0h2m1 0h2m-1 0h2m-1 0h2m0 0h2m-1 0h2m0 0h2m0 0h2m0 0h2m-1 0h2m-1 0h2m-1 0h2m1 0h2m0 0h2m-1 0h2m-1 0h2m1 0h2m-1 0h2m-1 0h2m-1 0h2m3 0h2m2 0h2m1 0h2m-1 0h2m1 0h2m1 0h2m3 0h2m6 0h2m8 0h2m-1 0h2m0 0h2m-1 0h2m0 0h2m-1 0h2m-1 0h2m-1 0h2m101 0h2m-1 0h2m-1 0h2m-1 0h2m-1 0h2m0 0h2m1 0h2m1 0h2m2 0h2m40 0h2m-312 1h2m18 0h2m11 0h2m1 0h2m0 0h2m1 0h2m3 0h2m0 0h2m0 0h2m-1 0h2m3 0h2m0 0h2m3 0h2m0 0h2m-1 0h2m-1 0h2m-1 0h2m0 0h2m1 0h2m0 0h2m-1 0h2m-1 0h2m4 0h2m1 0h2m-1 0h2m8 0h2m-1 0h2m1 0h2m2 0h2m1 0h2m-1 0h2m-1 0h2m0 0h2m-1 0h2m4 0h2m0 0h2m5 0h2m-1 0h2m2 0h2m-1 0h2m4 0h2m-1 0h2m1 0h2m0 0h2m0 0h2m101 0h2m-1 0h2m-1 0h2m1 0h2m-1 0h2m0 0h2m0 0h2m-1 0h2m1 0h2m-1 0h2m0 0h2m-229 1h2m0 0h2m-1 0h2m0 0h2m-1 0h2m0 0h2m-1 0h2m0 0h2m3 0h2m-1 0h2m0 0h2m0 0h2m6 0h2m2 0h2m0 0h2m0 0h2m1 0h2m-1 0h2m-1 0h2m-1 0h2m1 0h2m0 0h2m-1 0h2m-1 0h2m0 0h2m0 0h2m-1 0h2m0 0h2m2 0h2m-1 0h2m-1 0h2m0 0h2m-1 0h2m-1 0h2m0 0h2m0 0h2m-1 0h2m1 0h2m4 0h2m-1 0h2m2 0h2m-1 0h2m-1 0h2m0 0h2m1 0h2m0 0h2m0 0h2m2 0h2m0 0h2m-1 0h2m-1 0h2m103 0h2m-1 0h2m-1 0h2m-1 0h2m-1 0h2m-1 0h2m-1 0h2m-1 0h2m1 0h2m0 0h2m0 0h2m2 0h2m-260 1h2m14 0h2m11 0h2m1 0h2m-1 0h2m3 0h2m-1 0h2m-1 0h2m-1 0h2m0 0h2m1 0h2m1 0h2m0 0h2m-1 0h2m-1 0h2m-1 0h2m0 0h2m-1 0h2m0 0h2m4 0h2m-1 0h2m-1 0h2m3 0h2m-1 0h2m-1 0h2m0 0h2m-1 0h2m3 0h2m-1 0h2m1 0h2m1 0h2m-1 0h2m-1 0h2m0 0h2m1 0h2m0 0h2m6 0h2m1 0h2m-1 0h2m1 0h2m0 0h2m2 0h2m-1 0h2m-1 0h2m0 0h2m1 0h2m1 0h2m1 0h2m-1 0h2m-1 0h2m-1 0h2m102 0h2m-1 0h2m-1 0h2m-1 0h2m1 0h2m0 0h2m-1 0h2m-1 0h2m1 0h2m1 0h2m-1 0h2m0 0h2m2 0h2m1 0h2m-270 1h2m12 0h2m8 0h2m1 0h2m-1 0h2m3 0h2m0 0h2m5 0h2m3 0h2m0 0h2m2 0h2m-1 0h2m1 0h2m-1 0h2m0 0h2m1 0h2m-1 0h2m-1 0h2m-1 0h2m0 0h2m0 0h2m-1 0h2m0 0h2m-1 0h2m-1 0h2m-1 0h2m-1 0h2m-1 0h2m-1 0h2m0 0h2m0 0h2m0 0h2m-1 0h2m-1 0h2m-1 0h2m-1 0h2m1 0h2m-1 0h2m0 0h2m1 0h2m-1 0h2m5 0h2m-1 0h2m-1 0h2m1 0h2m-1 0h2m-1 0h2m1 0h2m-1 0h2m0 0h2m1 0h2m-1 0h2m0 0h2m-1 0h2m3 0h2m0 0h2m0 0h2m1 0h2m-1 0h2m100 0h2m-1 0h2m-1 0h2m0 0h2m1 0h2m-1 0h2m-1 0h2m0 0h2m13 0h2m-252 1h2m5 0h2m0 0h2m1 0h2m1 0h2m0 0h2m-1 0h2m1 0h2m4 0h2m-1 0h2m-1 0h2m0 0h2m0 0h2m3 0h2m-1 0h2m-1 0h2m0 0h2m0 0h2m1 0h2m-1 0h2m1 0h2m-1 0h2m-1 0h2m2 0h2m0 0h2m0 0h2m3 0h2m0 0h2m2 0h2m0 0h2m1 0h2m2 0h2m-1 0h2m-1 0h2m-1 0h2m2 0h2m0 0h2m2 0h2m2 0h2m0 0h2m-1 0h2m-1 0h2m2 0h2m-1 0h2m1 0h2m-1 0h2m0 0h2m3 0h2m-1 0h2m0 0h2m-1 0h2m-1 0h2m98 0h2m-1 0h2m0 0h2m-1 0h2m1 0h2m-1 0h2m2 0h2m2 0h2m0 0h2m2 0h2m-251 1h2m7 0h2m2 0h2m3 0h2m7 0h2m-1 0h2m1 0h2m0 0h2m2 0h2m-1 0h2m0 0h2m0 0h2m-1 0h2m0 0h2m0 0h2m1 0h2m1 0h2m0 0h2m0 0h2m4 0h2m-1 0h2m-1 0h2m-1 0h2m0 0h2m-1 0h2m-1 0h2m0 0h2m1 0h2m2 0h2m-1 0h2m-1 0h2m0 0h2m0 0h2m-1 0h2m-1 0h2m-1 0h2m0 0h2m-1 0h2m0 0h2m1 0h2m4 0h2m-1 0h2m-1 0h2m-1 0h2m-1 0h2m-1 0h2m-1 0h2m1 0h2m-1 0h2m-1 0h2m0 0h2m0 0h2m-1 0h2m0 0h2m1 0h2m-1 0h2m-1 0h2m-1 0h2m-1 0h2m-1 0h2m97 0h2m-1 0h2m-1 0h2m-1 0h2m1 0h2m2 0h2m4 0h2m-1 0h2m-246 1h2m4 0h2m1 0h2m-1 0h2m-1 0h2m13 0h2m3 0h2m2 0h2m3 0h2m2 0h2m1 0h2m-1 0h2m-1 0h2m-1 0h2m-1 0h2m-1 0h2m2 0h2m-1 0h2m-1 0h2m-1 0h2m0 0h2m-1 0h2m-1 0h2m1 0h2m-1 0h2m1 0h2m-1 0h2m0 0h2m-1 0h2m-1 0h2m-1 0h2m0 0h2m1 0h2m2 0h2m-1 0h2m0 0h2m-1 0h2m-1 0h2m-1 0h2m0 0h2m1 0h2m0 0h2m0 0h2m-1 0h2m-1 0h2m4 0h2m-1 0h2m0 0h2m-1 0h2m6 0h2m-1 0h2m-1 0h2m0 0h2m-1 0h2m-1 0h2m-1 0h2m-1 0h2m95 0h2m-1 0h2m-1 0h2m-1 0h2m-1 0h2m-1 0h2m0 0h2m-1 0h2m0 0h2m-1 0h2m-1 0h2m-1 0h2m0 0h2m3 0h2m3 0h2m18 0h2m-280 1h2m6 0h2m2 0h2m1 0h2m-1 0h2m2 0h2m2 0h2m-1 0h2m1 0h2m1 0h2m3 0h2m-1 0h2m-1 0h2m0 0h2m0 0h2m-1 0h2m0 0h2m0 0h2m0 0h2m-1 0h2m-1 0h2m0 0h2m1 0h2m-1 0h2m-1 0h2m-1 0h2m0 0h2m-1 0h2m0 0h2m2 0h2m-1 0h2m2 0h2m-1 0h2m-1 0h2m0 0h2m-1 0h2m3 0h2m1 0h2m-1 0h2m-1 0h2m-1 0h2m1 0h2m3 0h2m-1 0h2m0 0h2m0 0h2m4 0h2m5 0h2m0 0h2m-1 0h2m3 0h2m1 0h2m-1 0h2m1 0h2m-1 0h2m0 0h2m-1 0h2m-1 0h2m-1 0h2m-1 0h2m94 0h2m-1 0h2m-1 0h2m-1 0h2m-1 0h2m-1 0h2m1 0h2m0 0h2m0 0h2m2 0h2m-261 1h2m20 0h2m-1 0h2m7 0h2m0 0h2m0 0h2m3 0h2m-1 0h2m-1 0h2m0 0h2m3 0h2m-1 0h2m1 0h2m2 0h2m-1 0h2m-1 0h2m0 0h2m-1 0h2m-1 0h2m-1 0h2m-1 0h2m2 0h2m-1 0h2m-1 0h2m3 0h2m-1 0h2m0 0h2m-1 0h2m-1 0h2m0 0h2m0 0h2m-1 0h2m1 0h2m-1 0h2m-1 0h2m-1 0h2m-1 0h2m0 0h2m0 0h2m-1 0h2m0 0h2m0 0h2m2 0h2m2 0h2m-1 0h2m-1 0h2m1 0h2m1 0h2m-1 0h2m-1 0h2m0 0h2m1 0h2m-1 0h2m-1 0h2m-1 0h2m-1 0h2m0 0h2m-1 0h2m1 0h2m3 0h2m0 0h2m-1 0h2m0 0h2m0 0h2m93 0h2m-1 0h2m-1 0h2m0 0h2m0 0h2m-1 0h2m0 0h2m1 0h2m0 0h2m-260 1h2m6 0h2m12 0h2m1 0h2m6 0h2m2 0h2m4 0h2m-1 0h2m10 0h2m0 0h2m2 0h2m2 0h2m-1 0h2m1 0h2m0 0h2m0 0h2m1 0h2m-1 0h2m-1 0h2m0 0h2m3 0h2m-1 0h2m0 0h2m-1 0h2m-1 0h2m0 0h2m-1 0h2m4 0h2m0 0h2m-1 0h2m0 0h2m-1 0h2m0 0h2m-1 0h2m3 0h2m2 0h2m-1 0h2m1 0h2m-1 0h2m3 0h2m9 0h2m0 0h2m-1 0h2m-1 0h2m0 0h2m-1 0h2m-1 0h2m-1 0h2m-1 0h2m91 0h2m-1 0h2m-1 0h2m-1 0h2m0 0h2m0 0h2m-1 0h2m0 0h2m-1 0h2m4 0h2m4 0h2m-273 1h2m11 0h2m11 0h2m8 0h2m9 0h2m-1 0h2m-1 0h2m2 0h2m-1 0h2m0 0h2m2 0h2m0 0h2m2 0h2m2 0h2m-1 0h2m0 0h2m-1 0h2m1 0h2m0 0h2m-1 0h2m1 0h2m3 0h2m2 0h2m0 0h2m-1 0h2m1 0h2m1 0h2m-1 0h2m2 0h2m1 0h2m0 0h2m1 0h2m1 0h2m0 0h2m-1 0h2m2 0h2m10 0h2m0 0h2m0 0h2m2 0h2m0 0h2m-1 0h2m0 0h2m-1 0h2m-1 0h2m-1 0h2m-1 0h2m-1 0h2m-1 0h2m-1 0h2m-1 0h2m89 0h2m-1 0h2m-1 0h2m-1 0h2m-1 0h2m-1 0h2m0 0h2m2 0h2m-1 0h2m-1 0h2m4 0h2m0 0h2m-255 1h2m7 0h2m16 0h2m-1 0h2m0 0h2m-1 0h2m0 0h2m1 0h2m-1 0h2m-1 0h2m-1 0h2m0 0h2m-1 0h2m0 0h2m6 0h2m-1 0h2m0 0h2m4 0h2m1 0h2m2 0h2m0 0h2m-1 0h2m2 0h2m0 0h2m-1 0h2m0 0h2m0 0h2m-1 0h2m0 0h2m0 0h2m-1 0h2m1 0h2m1 0h2m-1 0h2m-1 0h2m0 0h2m-1 0h2m0 0h2m-1 0h2m-1 0h2m2 0h2m-1 0h2m-1 0h2m-1 0h2m-1 0h2m3 0h2m2 0h2m1 0h2m3 0h2m0 0h2m-1 0h2m-1 0h2m2 0h2m0 0h2m-1 0h2m-1 0h2m-1 0h2m89 0h2m-1 0h2m-1 0h2m-1 0h2m-1 0h2m2 0h2m-1 0h2m-1 0h2m-1 0h2m1 0h2m-1 0h2m-1 0h2m-1 0h2m-232 1h2m-1 0h2m2 0h2m-1 0h2m-1 0h2m-1 0h2m-1 0h2m3 0h2m0 0h2m-1 0h2m-1 0h2m-1 0h2m1 0h2m1 0h2m0 0h2m-1 0h2m-1 0h2m0 0h2m1 0h2m-1 0h2m0 0h2m0 0h2m0 0h2m-1 0h2m-1 0h2m-1 0h2m-1 0h2m-1 0h2m-1 0h2m1 0h2m0 0h2m0 0h2m0 0h2m-1 0h2m0 0h2m0 0h2m0 0h2m1 0h2m1 0h2m-1 0h2m-1 0h2m-1 0h2m-1 0h2m-1 0h2m1 0h2m0 0h2m0 0h2m-1 0h2m1 0h2m-1 0h2m0 0h2m-1 0h2m0 0h2m0 0h2m2 0h2m1 0h2m5 0h2m-1 0h2m4 0h2m0 0h2m-1 0h2m0 0h2m-1 0h2m-1 0h2m-1 0h2m-1 0h2m87 0h2m-1 0h2m-1 0h2m-1 0h2m-1 0h2m0 0h2m1 0h2m9 0h2m0 0h2m7 0h2m0 0h2m-271 1h2m7 0h2m6 0h2m-1 0h2m10 0h2m2 0h2m-1 0h2m1 0h2m5 0h2m-1 0h2m2 0h2m-1 0h2m1 0h2m-1 0h2m1 0h2m0 0h2m2 0h2m1 0h2m-1 0h2m0 0h2m2 0h2m-1 0h2m2 0h2m1 0h2m-1 0h2m-1 0h2m-1 0h2m0 0h2m1 0h2m-1 0h2m-1 0h2m0 0h2m-1 0h2m-1 0h2m-1 0h2m-1 0h2m4 0h2m3 0h2m5 0h2m0 0h2m-1 0h2m-1 0h2m2 0h2m-1 0h2m-1 0h2m-1 0h2m-1 0h2m0 0h2m2 0h2m1 0h2m-1 0h2m-1 0h2m-1 0h2m-1 0h2m0 0h2m-1 0h2m0 0h2m-1 0h2m86 0h2m-1 0h2m-1 0h2m-1 0h2m-1 0h2m-1 0h2m-1 0h2m-1 0h2m-1 0h2m2 0h2m-1 0h2m-1 0h2m0 0h2m2 0h2m1 0h2m6 0h2m0 0h2m-267 1h2m2 0h2m0 0h2m6 0h2m2 0h2m6 0h2m2 0h2m3 0h2m0 0h2m-1 0h2m3 0h2m1 0h2m0 0h2m0 0h2m-1 0h2m1 0h2m0 0h2m2 0h2m1 0h2m-1 0h2m-1 0h2m0 0h2m-1 0h2m-1 0h2m-1 0h2m-1 0h2m0 0h2m-1 0h2m-1 0h2m-1 0h2m2 0h2m-1 0h2m-1 0h2m1 0h2m-1 0h2m1 0h2m-1 0h2m-1 0h2m-1 0h2m0 0h2m-1 0h2m1 0h2m2 0h2m2 0h2m1 0h2m1 0h2m-1 0h2m2 0h2m0 0h2m0 0h2m-1 0h2m0 0h2m0 0h2m5 0h2m-1 0h2m-1 0h2m-1 0h2m0 0h2m-1 0h2m-1 0h2m-1 0h2m-1 0h2m-1 0h2m-1 0h2m-1 0h2m84 0h2m-1 0h2m-1 0h2m-1 0h2m-1 0h2m-1 0h2m-1 0h2m0 0h2m2 0h2m0 0h2m-1 0h2m10 0h2m-242 1h2m10 0h2m0 0h2m0 0h2m-1 0h2m0 0h2m-1 0h2m1 0h2m-1 0h2m3 0h2m1 0h2m-1 0h2m2 0h2m-1 0h2m0 0h2m-1 0h2m-1 0h2m-1 0h2m-1 0h2m1 0h2m-1 0h2m1 0h2m0 0h2m1 0h2m-1 0h2m0 0h2m0 0h2m0 0h2m-1 0h2m-1 0h2m-1 0h2m1 0h2m2 0h2m-1 0h2m1 0h2m-1 0h2m-1 0h2m0 0h2m1 0h2m5 0h2m0 0h2m1 0h2m0 0h2m0 0h2m9 0h2m5 0h2m-1 0h2m-1 0h2m1 0h2m0 0h2m-1 0h2m-1 0h2m-1 0h2m82 0h2m-1 0h2m2 0h2m-1 0h2m-1 0h2m8 0h2m-1 0h2m0 0h2m2 0h2m-250 1h2m-1 0h2m18 0h2m-1 0h2m1 0h2m-1 0h2m-1 0h2m3 0h2m-1 0h2m1 0h2m-1 0h2m-1 0h2m0 0h2m-1 0h2m1 0h2m5 0h2m1 0h2m0 0h2m0 0h2m-1 0h2m-1 0h2m0 0h2m5 0h2m5 0h2m4 0h2m0 0h2m0 0h2m0 0h2m1 0h2m5 0h2m0 0h2m6 0h2m2 0h2m-1 0h2m13 0h2m0 0h2m1 0h2m-1 0h2m-1 0h2m0 0h2m-1 0h2m-1 0h2m-1 0h2m-1 0h2m78 0h2m-1 0h2m0 0h2m-1 0h2m-1 0h2m-1 0h2m-1 0h2m-1 0h2m-1 0h2m0 0h2m4 0h2m2 0h2m-1 0h2m-248 1h2m7 0h2m3 0h2m-1 0h2m0 0h2m11 0h2m0 0h2m-1 0h2m-1 0h2m0 0h2m-1 0h2m1 0h2m2 0h2m0 0h2m0 0h2m-1 0h2m3 0h2m0 0h2m-1 0h2m-1 0h2m-1 0h2m0 0h2m-1 0h2m-1 0h2m-1 0h2m0 0h2m1 0h2m-1 0h2m-1 0h2m0 0h2m-1 0h2m-1 0h2m-1 0h2m0 0h2m-1 0h2m0 0h2m-1 0h2m2 0h2m-1 0h2m-1 0h2m8 0h2m6 0h2m0 0h2m3 0h2m0 0h2m-1 0h2m-1 0h2m-1 0h2m5 0h2m7 0h2m0 0h2m0 0h2m-1 0h2m0 0h2m-1 0h2m-1 0h2m-1 0h2m77 0h2m-1 0h2m-1 0h2m-1 0h2m0 0h2m-1 0h2m0 0h2m1 0h2m0 0h2m1 0h2m-1 0h2m-1 0h2m2 0h2m-1 0h2m-1 0h2m-256 1h2m6 0h2m3 0h2m3 0h2m11 0h2m4 0h2m-1 0h2m1 0h2m-1 0h2m-1 0h2m7 0h2m0 0h2m4 0h2m-1 0h2m0 0h2m0 0h2m1 0h2m-1 0h2m-1 0h2m1 0h2m-1 0h2m-1 0h2m3 0h2m2 0h2m1 0h2m-1 0h2m0 0h2m3 0h2m-1 0h2m2 0h2m4 0h2m1 0h2m-1 0h2m0 0h2m-1 0h2m1 0h2m-1 0h2m0 0h2m0 0h2m-1 0h2m0 0h2m0 0h2m-1 0h2m-1 0h2m2 0h2m1 0h2m-1 0h2m4 0h2m-1 0h2m-1 0h2m2 0h2m-1 0h2m0 0h2m76 0h2m-1 0h2m-1 0h2m0 0h2m0 0h2m1 0h2m0 0h2m0 0h2m-1 0h2m-1 0h2m6 0h2m-242 1h2m3 0h2m3 0h2m0 0h2m6 0h2m1 0h2m0 0h2m-1 0h2m0 0h2m0 0h2m2 0h2m-1 0h2m-1 0h2m0 0h2m-1 0h2m7 0h2m0 0h2m0 0h2m0 0h2m-1 0h2m-1 0h2m-1 0h2m-1 0h2m-1 0h2m1 0h2m2 0h2m-1 0h2m-1 0h2m0 0h2m-1 0h2m-1 0h2m2 0h2m-1 0h2m-1 0h2m9 0h2m-1 0h2m1 0h2m14 0h2m10 0h2m2 0h2m0 0h2m0 0h2m1 0h2m1 0h2m-1 0h2m-1 0h2m-1 0h2m-1 0h2m-1 0h2m-1 0h2m72 0h2m-1 0h2m-1 0h2m-1 0h2m-1 0h2m-1 0h2m0 0h2m-1 0h2m1 0h2m0 0h2m3 0h2m8 0h2m5 0h2m12 0h2m-269 1h2m17 0h2m1 0h2m4 0h2m0 0h2m-1 0h2m0 0h2m2 0h2m-1 0h2m0 0h2m6 0h2m-1 0h2m0 0h2m0 0h2m-1 0h2m-1 0h2m-1 0h2m2 0h2m3 0h2m1 0h2m1 0h2m0 0h2m-1 0h2m1 0h2m-1 0h2m0 0h2m0 0h2m0 0h2m-1 0h2m0 0h2m2 0h2m-1 0h2m-1 0h2m-1 0h2m1 0h2m0 0h2m6 0h2m-1 0h2m8 0h2m3 0h2m2 0h2m0 0h2m2 0h2m1 0h2m-1 0h2m0 0h2m-1 0h2m-1 0h2m-1 0h2m-1 0h2m-1 0h2m-1 0h2m-1 0h2m69 0h2m-1 0h2m-1 0h2m-1 0h2m-1 0h2m-1 0h2m-1 0h2m2 0h2m-1 0h2m0 0h2m-1 0h2m14 0h2m-253 1h2m2 0h2m0 0h2m15 0h2m-1 0h2m-1 0h2m2 0h2m0 0h2m7 0h2m-1 0h2m1 0h2m3 0h2m0 0h2m-1 0h2m-1 0h2m2 0h2m0 0h2m3 0h2m-1 0h2m0 0h2m-1 0h2m2 0h2m2 0h2m-1 0h2m-1 0h2m-1 0h2m-1 0h2m-1 0h2m-1 0h2m0 0h2m-1 0h2m2 0h2m4 0h2m0 0h2m3 0h2m0 0h2m0 0h2m-1 0h2m-1 0h2m1 0h2m-1 0h2m5 0h2m-1 0h2m-1 0h2m1 0h2m-1 0h2m0 0h2m7 0h2m2 0h2m-1 0h2m-1 0h2m-1 0h2m0 0h2m0 0h2m-1 0h2m-1 0h2m-1 0h2m-1 0h2m67 0h2m0 0h2m-1 0h2m-1 0h2m-1 0h2m-1 0h2m-1 0h2m-1 0h2m-1 0h2m-1 0h2m-1 0h2m1 0h2m-1 0h2m4 0h2m1 0h2m19 0h2m-253 1h2m15 0h2m2 0h2m-1 0h2m2 0h2m5 0h2m1 0h2m1 0h2m-1 0h2m-1 0h2m2 0h2m0 0h2m1 0h2m7 0h2m-1 0h2m-1 0h2m0 0h2m-1 0h2m2 0h2m0 0h2m1 0h2m0 0h2m2 0h2m12 0h2m-1 0h2m1 0h2m2 0h2m2 0h2m-1 0h2m-1 0h2m1 0h2m6 0h2m1 0h2m1 0h2m-1 0h2m1 0h2m-1 0h2m0 0h2m-1 0h2m-1 0h2m0 0h2m-1 0h2m-1 0h2m-1 0h2m-1 0h2m63 0h2m-1 0h2m-1 0h2m-1 0h2m-1 0h2m-1 0h2m-1 0h2m-1 0h2m-1 0h2m0 0h2m1 0h2m0 0h2m-1 0h2m-1 0h2m0 0h2m-1 0h2m2 0h2m0 0h2m-239 1h2m3 0h2m10 0h2m3 0h2m-1 0h2m-1 0h2m4 0h2m-1 0h2m4 0h2m1 0h2m6 0h2m-1 0h2m0 0h2m0 0h2m-1 0h2m-1 0h2m1 0h2m-1 0h2m0 0h2m-1 0h2m3 0h2m1 0h2m-1 0h2m0 0h2m-1 0h2m-1 0h2m-1 0h2m-1 0h2m-1 0h2m2 0h2m0 0h2m5 0h2m-1 0h2m0 0h2m1 0h2m4 0h2m-1 0h2m9 0h2m13 0h2m0 0h2m-1 0h2m-1 0h2m0 0h2m-1 0h2m-1 0h2m-1 0h2m-1 0h2m-1 0h2m-1 0h2m-1 0h2m-1 0h2m-1 0h2m-1 0h2m-1 0h2m-1 0h2m-1 0h2m58 0h2m-1 0h2m-1 0h2m-1 0h2m-1 0h2m-1 0h2m-1 0h2m-1 0h2m-1 0h2m-1 0h2m2 0h2m-1 0h2m3 0h2m4 0h2m4 0h2m14 0h2m-256 1h2m2 0h2m3 0h2m2 0h2m-1 0h2m2 0h2m4 0h2m0 0h2m1 0h2m1 0h2m1 0h2m-1 0h2m0 0h2m1 0h2m2 0h2m-1 0h2m0 0h2m1 0h2m3 0h2m2 0h2m4 0h2m9 0h2m1 0h2m8 0h2m-1 0h2m0 0h2m-1 0h2m-1 0h2m-1 0h2m-1 0h2m-1 0h2m2 0h2m6 0h2m-1 0h2m1 0h2m9 0h2m0 0h2m-1 0h2m0 0h2m1 0h2m0 0h2m2 0h2m-1 0h2m0 0h2m-1 0h2m-1 0h2m-1 0h2m-1 0h2m-1 0h2m-1 0h2m-1 0h2m56 0h2m-1 0h2m-1 0h2m-1 0h2m-1 0h2m-1 0h2m-1 0h2m-1 0h2m0 0h2m0 0h2m-1 0h2m-1 0h2m5 0h2m2 0h2m17 0h2m-275 1h2m22 0h2m8 0h2m1 0h2m0 0h2m-1 0h2m4 0h2m-1 0h2m9 0h2m-1 0h2m0 0h2m-1 0h2m2 0h2m0 0h2m0 0h2m3 0h2m-1 0h2m0 0h2m-1 0h2m-1 0h2m2 0h2m0 0h2m0 0h2m-1 0h2m1 0h2m1 0h2m-1 0h2m9 0h2m-1 0h2m1 0h2m1 0h2m-1 0h2m3 0h2m5 0h2m-1 0h2m0 0h2m10 0h2m1 0h2m-1 0h2m-1 0h2m0 0h2m5 0h2m3 0h2m-1 0h2m-1 0h2m-1 0h2m-1 0h2m0 0h2m-1 0h2m1 0h2m-1 0h2m-1 0h2m-1 0h2m49 0h2m-1 0h2m-1 0h2m-1 0h2m-1 0h2m-1 0h2m-1 0h2m-1 0h2m-1 0h2m0 0h2m-1 0h2m-1 0h2m1 0h2m4 0h2m5 0h2m-222 1h2m6 0h2m-1 0h2m1 0h2m1 0h2m4 0h2m-1 0h2m0 0h2m2 0h2m1 0h2m3 0h2m1 0h2m-1 0h2m-1 0h2m1 0h2m-1 0h2m-1 0h2m4 0h2m-1 0h2m0 0h2m1 0h2m-1 0h2m0 0h2m4 0h2m0 0h2m2 0h2m-1 0h2m2 0h2m-1 0h2m-1 0h2m0 0h2m-1 0h2m4 0h2m3 0h2m-1 0h2m-1 0h2m-1 0h2m2 0h2m-1 0h2m0 0h2m0 0h2m4 0h2m-1 0h2m1 0h2m0 0h2m1 0h2m1 0h2m1 0h2m0 0h2m-1 0h2m-1 0h2m-1 0h2m-1 0h2m0 0h2m-1 0h2m-1 0h2m-1 0h2m-1 0h2m0 0h2m-1 0h2m-1 0h2m45 0h2m-1 0h2m-1 0h2m-1 0h2m-1 0h2m-1 0h2m0 0h2m-1 0h2m0 0h2m0 0h2m1 0h2m-1 0h2m1 0h2m-1 0h2m-1 0h2m0 0h2m9 0h2m5 0h2m-1 0h2m15 0h2m-262 1h2m0 0h2m3 0h2m15 0h2m1 0h2m3 0h2m6 0h2m12 0h2m-1 0h2m-1 0h2m-1 0h2m-1 0h2m1 0h2m-1 0h2m-1 0h2m-1 0h2m2 0h2m0 0h2m0 0h2m0 0h2m2 0h2m1 0h2m0 0h2m0 0h2m-1 0h2m4 0h2m3 0h2m4 0h2m2 0h2m6 0h2m4 0h2m3 0h2m6 0h2m0 0h2m0 0h2m2 0h2m-1 0h2m-1 0h2m-1 0h2m0 0h2m-1 0h2m-1 0h2m-1 0h2m-1 0h2m-1 0h2m-1 0h2m0 0h2m41 0h2m0 0h2m-1 0h2m-1 0h2m-1 0h2m-1 0h2m-1 0h2m-1 0h2m2 0h2m-1 0h2m-1 0h2m16 0h2m2 0h2m5 0h2m-217 1h2m1 0h2m-1 0h2m1 0h2m2 0h2m3 0h2m2 0h2m-1 0h2m-1 0h2m1 0h2m-1 0h2m1 0h2m0 0h2m0 0h2m-1 0h2m0 0h2m1 0h2m-1 0h2m0 0h2m2 0h2m0 0h2m-1 0h2m-1 0h2m-1 0h2m-1 0h2m0 0h2m0 0h2m-1 0h2m3 0h2m8 0h2m0 0h2m-1 0h2m-1 0h2m2 0h2m2 0h2m0 0h2m11 0h2m-1 0h2m3 0h2m0 0h2m1 0h2m0 0h2m3 0h2m-1 0h2m0 0h2m1 0h2m-1 0h2m-1 0h2m0 0h2m-1 0h2m-1 0h2m-1 0h2m-1 0h2m-1 0h2m35 0h2m0 0h2m-1 0h2m-1 0h2m-1 0h2m-1 0h2m-1 0h2m-1 0h2m0 0h2m-1 0h2m-1 0h2m0 0h2m2 0h2m3 0h2m-1 0h2m0 0h2m0 0h2m7 0h2m-1 0h2m-224 1h2m3 0h2m-1 0h2m4 0h2m6 0h2m1 0h2m3 0h2m0 0h2m1 0h2m5 0h2m1 0h2m2 0h2m1 0h2m5 0h2m1 0h2m1 0h2m-1 0h2m-1 0h2m1 0h2m2 0h2m-1 0h2m-1 0h2m12 0h2m6 0h2m2 0h2m9 0h2m6 0h2m1 0h2m2 0h2m-1 0h2m1 0h2m2 0h2m-1 0h2m5 0h2m-1 0h2m-1 0h2m-1 0h2m-1 0h2m-1 0h2m-1 0h2m-1 0h2m30 0h2m-1 0h2m-1 0h2m-1 0h2m0 0h2m-1 0h2m0 0h2m-1 0h2m1 0h2m-1 0h2m-1 0h2m-1 0h2m-1 0h2m0 0h2m1 0h2m5 0h2m11 0h2m2 0h2m-252 1h2m14 0h2m13 0h2m4 0h2m3 0h2m-1 0h2m1 0h2m6 0h2m0 0h2m2 0h2m0 0h2m0 0h2m-1 0h2m1 0h2m0 0h2m0 0h2m0 0h2m0 0h2m1 0h2m7 0h2m-1 0h2m8 0h2m2 0h2m-1 0h2m2 0h2m7 0h2m0 0h2m16 0h2m1 0h2m-1 0h2m-1 0h2m6 0h2m5 0h2m2 0h2m-1 0h2m0 0h2m-1 0h2m-1 0h2m-1 0h2m-1 0h2m2 0h2m-1 0h2m0 0h2m26 0h2m-1 0h2m-1 0h2m0 0h2m-1 0h2m-1 0h2m0 0h2m0 0h2m0 0h2m0 0h2m0 0h2m0 0h2m0 0h2m3 0h2m1 0h2m13 0h2m6 0h2m18 0h2m-253 1h2m0 0h2m20 0h2m8 0h2m0 0h2m-1 0h2m0 0h2m2 0h2m6 0h2m0 0h2m-1 0h2m-1 0h2m2 0h2m-1 0h2m-1 0h2m1 0h2m1 0h2m-1 0h2m0 0h2m-1 0h2m1 0h2m-1 0h2m-1 0h2m-1 0h2m3 0h2m3 0h2m3 0h2m2 0h2m-1 0h2m9 0h2m13 0h2m0 0h2m0 0h2m0 0h2m4 0h2m-1 0h2m3 0h2m-1 0h2m0 0h2m-1 0h2m-1 0h2m0 0h2m-1 0h2m-1 0h2m-1 0h2m0 0h2m-1 0h2m-1 0h2m-1 0h2m-1 0h2m-1 0h2m-1 0h2m-1 0h2m1 0h2m-1 0h2m-1 0h2m-1 0h2m-1 0h2m-1 0h2m-1 0h2m-1 0h2m-1 0h2m-1 0h2m-1 0h2m-1 0h2m-1 0h2m-1 0h2m-1 0h2m-1 0h2m0 0h2m1 0h2m-1 0h2m-1 0h2m1 0h2m1 0h2m1 0h2m1 0h2m0 0h2m1 0h2m10 0h2m-1 0h2m-206 1h2m-1 0h2m1 0h2m1 0h2m3 0h2m-1 0h2m1 0h2m5 0h2m1 0h2m7 0h2m6 0h2m0 0h2m2 0h2m3 0h2m0 0h2m1 0h2m0 0h2m9 0h2m14 0h2m1 0h2m-1 0h2m-1 0h2m5 0h2m3 0h2m0 0h2m4 0h2m0 0h2m4 0h2m2 0h2m-1 0h2m-1 0h2m0 0h2m-1 0h2m-1 0h2m1 0h2m0 0h2m-1 0h2m0 0h2m0 0h2m-1 0h2m-1 0h2m0 0h2m-1 0h2m-1 0h2m-1 0h2m-1 0h2m-1 0h2m-1 0h2m-1 0h2m-1 0h2m-1 0h2m-1 0h2m-1 0h2m-1 0h2m-1 0h2m-1 0h2m-1 0h2m2 0h2m-1 0h2m-1 0h2m-1 0h2m-1 0h2m-1 0h2m-1 0h2m-1 0h2m3 0h2m0 0h2m-1 0h2m-1 0h2m-1 0h2m-1 0h2m0 0h2m-1 0h2m0 0h2m4 0h2m12 0h2m-232 1h2m1 0h2m2 0h2m17 0h2m2 0h2m0 0h2m1 0h2m-1 0h2m9 0h2m-1 0h2m0 0h2m-1 0h2m-1 0h2m-1 0h2m2 0h2m4 0h2m0 0h2m4 0h2m-1 0h2m2 0h2m-1 0h2m0 0h2m5 0h2m0 0h2m4 0h2m0 0h2m0 0h2m0 0h2m6 0h2m15 0h2m0 0h2m10 0h2m6 0h2m0 0h2m3 0h2m0 0h2m-1 0h2m0 0h2m-1 0h2m-1 0h2m0 0h2m-1 0h2m-1 0h2m4 0h2m-1 0h2m-1 0h2m0 0h2m-1 0h2m-1 0h2m-1 0h2m-1 0h2m-1 0h2m-1 0h2m0 0h2m-1 0h2m-1 0h2m-1 0h2m-1 0h2m0 0h2m-1 0h2m4 0h2m-1 0h2m2 0h2m-1 0h2m0 0h2m-1 0h2m3 0h2m-1 0h2m6 0h2m5 0h2m14 0h2m-255 1h2m14 0h2m-1 0h2m6 0h2m-1 0h2m8 0h2m1 0h2m-1 0h2m2 0h2m0 0h2m0 0h2m5 0h2m7 0h2m4 0h2m17 0h2m14 0h2m12 0h2m-1 0h2m15 0h2m18 0h2m1 0h2m0 0h2m-1 0h2m0 0h2m1 0h2m-1 0h2m-1 0h2m-1 0h2m-1 0h2m0 0h2m1 0h2m-1 0h2m2 0h2m2 0h2m1 0h2m-1 0h2m-1 0h2m1 0h2m-1 0h2m-1 0h2m-1 0h2m-1 0h2m-1 0h2m-1 0h2m-1 0h2m0 0h2m-1 0h2m1 0h2m-1 0h2m1 0h2m0 0h2m1 0h2m10 0h2m-1 0h2m-218 1h2m4 0h2m17 0h2m7 0h2m-1 0h2m0 0h2m5 0h2m-1 0h2m2 0h2m3 0h2m2 0h2m-1 0h2m-1 0h2m4 0h2m0 0h2m0 0h2m2 0h2m4 0h2m-1 0h2m-1 0h2m-1 0h2m7 0h2m0 0h2m0 0h2m1 0h2m0 0h2m-1 0h2m13 0h2m31 0h2m3 0h2m1 0h2m-1 0h2m0 0h2m0 0h2m0 0h2m-1 0h2m1 0h2m1 0h2m-1 0h2m-1 0h2m0 0h2m0 0h2m-1 0h2m-1 0h2m-1 0h2m-1 0h2m0 0h2m-1 0h2m2 0h2m0 0h2m9 0h2m3 0h2m1 0h2m2 0h2m19 0h2m-250 1h2m5 0h2m0 0h2m3 0h2m7 0h2m0 0h2m-1 0h2m4 0h2m1 0h2m3 0h2m-1 0h2m-1 0h2m5 0h2m0 0h2m5 0h2m-1 0h2m4 0h2m0 0h2m0 0h2m2 0h2m3 0h2m-1 0h2m2 0h2m-1 0h2m-1 0h2m2 0h2m-1 0h2m-1 0h2m1 0h2m2 0h2m4 0h2m1 0h2m2 0h2m11 0h2m1 0h2m0 0h2m0 0h2m9 0h2m24 0h2m3 0h2m0 0h2m0 0h2m-1 0h2m0 0h2m1 0h2m-1 0h2m-1 0h2m-1 0h2m1 0h2m-1 0h2m0 0h2m3 0h2m0 0h2m0 0h2m1 0h2m-1 0h2m0 0h2m-1 0h2m0 0h2m6 0h2m5 0h2m9 0h2m6 0h2m8 0h2m-232 1h2m3 0h2m10 0h2m1 0h2m-1 0h2m0 0h2m1 0h2m8 0h2m2 0h2m0 0h2m-1 0h2m0 0h2m24 0h2m2 0h2m5 0h2m9 0h2m-1 0h2m2 0h2m22 0h2m0 0h2m1 0h2m0 0h2m12 0h2m-1 0h2m-1 0h2m-1 0h2m5 0h2m0 0h2m1 0h2m1 0h2m-1 0h2m0 0h2m1 0h2m-1 0h2m5 0h2m0 0h2m0 0h2m1 0h2m0 0h2m-1 0h2m0 0h2m12 0h2m1 0h2m7 0h2m-233 1h2m1 0h2m6 0h2m6 0h2m11 0h2m8 0h2m-1 0h2m4 0h2m7 0h2m1 0h2m3 0h2m15 0h2m-1 0h2m-1 0h2m2 0h2m2 0h2m2 0h2m17 0h2m-1 0h2m6 0h2m24 0h2m0 0h2m4 0h2m9 0h2m1 0h2m1 0h2m-1 0h2m0 0h2m3 0h2m0 0h2m0 0h2m4 0h2m4 0h2m13 0h2m9 0h2m-206 1h2m8 0h2m5 0h2m6 0h2m11 0h2m-1 0h2m2 0h2m1 0h2m8 0h2m0 0h2m1 0h2m-1 0h2m0 0h2m5 0h2m2 0h2m6 0h2m5 0h2m12 0h2m16 0h2m10 0h2m-1 0h2m-1 0h2m5 0h2m14 0h2m4 0h2m-1 0h2m-1 0h2m-1 0h2m1 0h2m-1 0h2m10 0h2m1 0h2m0 0h2m10 0h2m28 0h2m7 0h2m-267 1h2m23 0h2m3 0h2m-1 0h2m14 0h2m5 0h2m-1 0h2m-1 0h2m0 0h2m2 0h2m7 0h2m-1 0h2m0 0h2m14 0h2m2 0h2m31 0h2m2 0h2m32 0h2m12 0h2m1 0h2m5 0h2m2 0h2m1 0h2m0 0h2m4 0h2m-1 0h2m4 0h2m3 0h2m-194 1h2m5 0h2m6 0h2m4 0h2m0 0h2m28 0h2m3 0h2m5 0h2m1 0h2m4 0h2m-1 0h2m12 0h2m0 0h2m39 0h2m34 0h2m1 0h2m-1 0h2m-1 0h2m-1 0h2m6 0h2m2 0h2m0 0h2m8 0h2m-1 0h2m-200 1h2m17 0h2m6 0h2m4 0h2m-1 0h2m0 0h2m0 0h2m1 0h2m4 0h2m15 0h2m0 0h2m4 0h2m3 0h2m3 0h2m16 0h2m36 0h2m11 0h2m1 0h2m9 0h2m5 0h2m0 0h2m17 0h2m0 0h2m12 0h2m8 0h2m-248 1h2m44 0h2m4 0h2m-1 0h2m3 0h2m3 0h2m2 0h2m3 0h2m0 0h2m13 0h2m2 0h2m11 0h2m3 0h2m20 0h2m46 0h2m10 0h2m14 0h2m0 0h2m19 0h2m-207 1h2m6 0h2m13 0h2m5 0h2m1 0h2m10 0h2m-1 0h2m-1 0h2m5 0h2m1 0h2m8 0h2m1 0h2m4 0h2m3 0h2m48 0h2m-1 0h2m17 0h2m0 0h2m10 0h2m22 0h2m-178 1h2m17 0h2m-1 0h2m11 0h2m4 0h2m6 0h2m14 0h2m29 0h2m30 0h2m19 0h2m0 0h2m22 0h2m-200 1h2m25 0h2m2 0h2m35 0h2m2 0h2m18 0h2m7 0h2m32 0h2m69 0h2m-220 1h2m2 0h2m16 0h2m-1 0h2m21 0h2m2 0h2m23 0h2m0 0h2m3 0h2m21 0h2m9 0h2m36 0h2m34 0h2m1 0h2m18 0h2m-177 1h2m-1 0h2m26 0h2m10 0h2m7 0h2m-1 0h2m14 0h2m0 0h2m87 0h2m-183 1h2m9 0h2m9 0h2m5 0h2m-1 0h2m13 0h2m3 0h2m16 0h2m5 0h2m20 0h2m6 0h2m45 0h2m31 0h2m60 0h2m-253 1h2m13 0h2m14 0h2m29 0h2m7 0h2m2 0h2m-54 1h2m22 0h2m2 0h2m1 0h2m0 0h2m-1 0h2m32 0h2m5 0h2m3 0h2m34 0h2m83 0h2m-199 1h2m50 0h2m22 0h2m35 0h2m72 0h2m-190 1h2m2 0h2m18 0h2m6 0h2m15 0h2m7 0h2m63 0h2m-117 1h2m17 0h2m5 0h2m93 0h2m-120 1h2m31 0h2m1 0h2m4 0h2m4 0h2m-55 1h2m32 0h2m38 0h2m-86 1h2m43 0h2m3 0h2m-73 1h2m36 0h2m40 0h2m-82 1h2m54 0h2m21 0h2m-34 1h2m18 0h2m-1 0h2m2 0h2m12 0h2m33 1h2" stroke="#000" stroke-width="2.5" fill="none"/>
<path d="M984 2326h2M951 2362h2M1017 2378h2M1035 2344h2M979 2347h2M970 2344h2M1019 2378h2M1040 2359h2M1014 2327h2M1048 2326h2M1011 2316h2M998 2326h2" stroke="#fff" stroke-width="1.8" fill="none" opacity="0.45"/>
</g>
</svg>
</body></html>
